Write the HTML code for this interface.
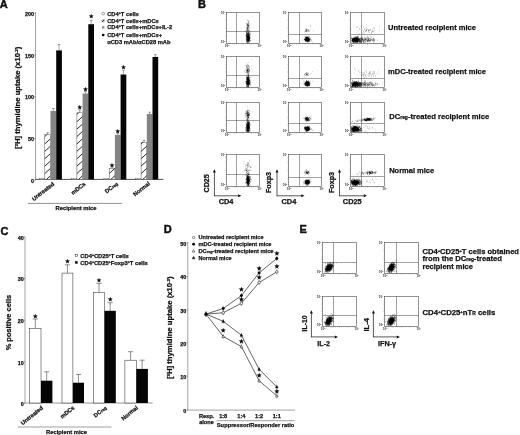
<!DOCTYPE html>
<html><head><meta charset="utf-8"><title>Figure</title>
<style>
html,body{margin:0;padding:0;background:#fff;}
body{width:520px;height:435px;overflow:hidden;}
svg{display:block;filter:blur(0.35px);font-family:'Liberation Sans', 'DejaVu Sans', sans-serif;}
</style></head><body>
<svg width="520" height="435" viewBox="0 0 520 435">
<rect width="520" height="435" fill="#fff"/>
<text x="-0.2" y="8.4" font-size="11.0" font-weight="bold" text-anchor="start" fill="#111" stroke="#111" stroke-width="0.45">A</text>
<text x="197.9" y="8.3" font-size="11.0" font-weight="bold" text-anchor="start" fill="#111" stroke="#111" stroke-width="0.45">B</text>
<text x="0.5" y="234.5" font-size="11.0" font-weight="bold" text-anchor="start" fill="#111" stroke="#111" stroke-width="0.45">C</text>
<text x="163.7" y="232.9" font-size="11.0" font-weight="bold" text-anchor="start" fill="#111" stroke="#111" stroke-width="0.45">D</text>
<text x="299.4" y="233.4" font-size="11.0" font-weight="bold" text-anchor="start" fill="#111" stroke="#111" stroke-width="0.45">E</text>
<line x1="35.5" y1="12.1" x2="35.5" y2="179.70000000000002" stroke="#555" stroke-width="0.55"/>
<line x1="35.2" y1="179.4" x2="163.3" y2="179.4" stroke="#222" stroke-width="0.8"/>
<text x="33.9" y="182.9" font-size="5.4" font-weight="bold" text-anchor="end" fill="#111" stroke="#111" stroke-width="0.25">0</text>
<line x1="34.3" y1="180.4" x2="35.5" y2="180.4" stroke="#333" stroke-width="0.5"/>
<text x="33.9" y="141.1" font-size="5.4" font-weight="bold" text-anchor="end" fill="#111" stroke="#111" stroke-width="0.25">50</text>
<line x1="34.3" y1="138.6" x2="35.5" y2="138.6" stroke="#333" stroke-width="0.5"/>
<text x="33.9" y="99.30000000000001" font-size="5.4" font-weight="bold" text-anchor="end" fill="#111" stroke="#111" stroke-width="0.25">100</text>
<line x1="34.3" y1="96.80000000000001" x2="35.5" y2="96.80000000000001" stroke="#333" stroke-width="0.5"/>
<text x="33.9" y="57.5" font-size="5.4" font-weight="bold" text-anchor="end" fill="#111" stroke="#111" stroke-width="0.25">150</text>
<line x1="34.3" y1="55.0" x2="35.5" y2="55.0" stroke="#333" stroke-width="0.5"/>
<text x="33.9" y="15.8" font-size="5.4" font-weight="bold" text-anchor="end" fill="#111" stroke="#111" stroke-width="0.25">200</text>
<line x1="34.3" y1="13.3" x2="35.5" y2="13.3" stroke="#333" stroke-width="0.5"/>
<text x="20.4" y="97.8" font-size="7.0" font-weight="bold" text-anchor="middle" fill="#111" stroke="#111" stroke-width="0.25" transform="rotate(-90 20.4 97.8)" textLength="102.4" lengthAdjust="spacingAndGlyphs">[<tspan font-size="4" baseline-shift="super">3</tspan>H] thymidine uptake (x10<tspan font-size="4" baseline-shift="super">-3</tspan>)</text>
<rect x="39.40" y="178.50" width="5.40" height="0.90" fill="#fff" stroke="#444" stroke-width="0.4"/>
<clipPath id="hc0"><rect x="44.8" y="134.5" width="5.7" height="44.900000000000006"/></clipPath>
<rect x="44.80" y="134.50" width="5.70" height="44.90" fill="#fff" stroke="#444" stroke-width="0.45"/>
<g clip-path="url(#hc0)" stroke="#111" stroke-width="0.9"><line x1="43.8" y1="181.80" x2="51.5" y2="174.87"/><line x1="43.8" y1="174.40" x2="51.5" y2="167.47"/><line x1="43.8" y1="167.00" x2="51.5" y2="160.07"/><line x1="43.8" y1="159.60" x2="51.5" y2="152.67"/><line x1="43.8" y1="152.20" x2="51.5" y2="145.27"/><line x1="43.8" y1="144.80" x2="51.5" y2="137.87"/><line x1="43.8" y1="137.40" x2="51.5" y2="130.47"/><line x1="43.8" y1="130.00" x2="51.5" y2="123.07"/></g>
<rect x="50.50" y="111.00" width="5.70" height="68.40" fill="#858585"/>
<rect x="56.20" y="50.40" width="5.70" height="129.00" fill="#050505"/>
<line x1="47.65" y1="134.5" x2="47.65" y2="132.7" stroke="#444" stroke-width="0.5"/>
<line x1="46.35" y1="132.7" x2="48.949999999999996" y2="132.7" stroke="#444" stroke-width="0.5"/>
<line x1="53.35" y1="111.0" x2="53.35" y2="108.5" stroke="#444" stroke-width="0.5"/>
<line x1="52.050000000000004" y1="108.5" x2="54.65" y2="108.5" stroke="#444" stroke-width="0.5"/>
<line x1="59.05" y1="50.4" x2="59.05" y2="44.5" stroke="#444" stroke-width="0.5"/>
<line x1="57.75" y1="44.5" x2="60.349999999999994" y2="44.5" stroke="#444" stroke-width="0.5"/>
<rect x="71.50" y="178.50" width="5.40" height="0.90" fill="#fff" stroke="#444" stroke-width="0.4"/>
<clipPath id="hc1"><rect x="76.9" y="112.8" width="5.7" height="66.60000000000001"/></clipPath>
<rect x="76.90" y="112.80" width="5.70" height="66.60" fill="#fff" stroke="#444" stroke-width="0.45"/>
<g clip-path="url(#hc1)" stroke="#111" stroke-width="0.9"><line x1="75.9" y1="181.80" x2="83.60000000000001" y2="174.87"/><line x1="75.9" y1="174.40" x2="83.60000000000001" y2="167.47"/><line x1="75.9" y1="167.00" x2="83.60000000000001" y2="160.07"/><line x1="75.9" y1="159.60" x2="83.60000000000001" y2="152.67"/><line x1="75.9" y1="152.20" x2="83.60000000000001" y2="145.27"/><line x1="75.9" y1="144.80" x2="83.60000000000001" y2="137.87"/><line x1="75.9" y1="137.40" x2="83.60000000000001" y2="130.47"/><line x1="75.9" y1="130.00" x2="83.60000000000001" y2="123.07"/><line x1="75.9" y1="122.60" x2="83.60000000000001" y2="115.67"/><line x1="75.9" y1="115.20" x2="83.60000000000001" y2="108.27"/><line x1="75.9" y1="107.80" x2="83.60000000000001" y2="100.87"/></g>
<rect x="82.60" y="93.50" width="5.70" height="85.90" fill="#858585"/>
<rect x="88.30" y="24.20" width="5.70" height="155.20" fill="#050505"/>
<line x1="79.75" y1="112.8" x2="79.75" y2="109.8" stroke="#444" stroke-width="0.5"/>
<line x1="78.45" y1="109.8" x2="81.05" y2="109.8" stroke="#444" stroke-width="0.5"/>
<line x1="85.45" y1="93.5" x2="85.45" y2="91.5" stroke="#444" stroke-width="0.5"/>
<line x1="84.15" y1="91.5" x2="86.75" y2="91.5" stroke="#444" stroke-width="0.5"/>
<line x1="91.15" y1="24.2" x2="91.15" y2="20.2" stroke="#444" stroke-width="0.5"/>
<line x1="89.85000000000001" y1="20.2" x2="92.45" y2="20.2" stroke="#444" stroke-width="0.5"/>
<text x="79.75" y="108.5" font-size="5.0" text-anchor="middle" fill="#000" stroke="#000" stroke-width="0.35" font-family="DejaVu Sans, sans-serif">★</text>
<text x="85.45" y="90.8" font-size="5.0" text-anchor="middle" fill="#000" stroke="#000" stroke-width="0.35" font-family="DejaVu Sans, sans-serif">★</text>
<text x="91.15" y="18.4" font-size="5.0" text-anchor="middle" fill="#000" stroke="#000" stroke-width="0.35" font-family="DejaVu Sans, sans-serif">★</text>
<rect x="103.80" y="178.50" width="5.40" height="0.90" fill="#fff" stroke="#444" stroke-width="0.4"/>
<clipPath id="hc2"><rect x="109.2" y="168.3" width="5.7" height="11.099999999999994"/></clipPath>
<rect x="109.20" y="168.30" width="5.70" height="11.10" fill="#fff" stroke="#444" stroke-width="0.45"/>
<g clip-path="url(#hc2)" stroke="#111" stroke-width="0.9"><line x1="108.2" y1="181.80" x2="115.9" y2="174.87"/><line x1="108.2" y1="174.40" x2="115.9" y2="167.47"/><line x1="108.2" y1="167.00" x2="115.9" y2="160.07"/></g>
<rect x="114.90" y="134.80" width="5.70" height="44.60" fill="#858585"/>
<rect x="120.60" y="74.50" width="5.70" height="104.90" fill="#050505"/>
<line x1="112.05" y1="168.3" x2="112.05" y2="167.10000000000002" stroke="#444" stroke-width="0.5"/>
<line x1="110.75" y1="167.10000000000002" x2="113.35" y2="167.10000000000002" stroke="#444" stroke-width="0.5"/>
<line x1="117.75" y1="134.8" x2="117.75" y2="133.20000000000002" stroke="#444" stroke-width="0.5"/>
<line x1="116.45" y1="133.20000000000002" x2="119.05" y2="133.20000000000002" stroke="#444" stroke-width="0.5"/>
<line x1="123.45" y1="74.5" x2="123.45" y2="70.3" stroke="#444" stroke-width="0.5"/>
<line x1="122.15" y1="70.3" x2="124.75" y2="70.3" stroke="#444" stroke-width="0.5"/>
<text x="112.05" y="167.0" font-size="5.0" text-anchor="middle" fill="#000" stroke="#000" stroke-width="0.35" font-family="DejaVu Sans, sans-serif">★</text>
<text x="117.75" y="132.8" font-size="5.0" text-anchor="middle" fill="#000" stroke="#000" stroke-width="0.35" font-family="DejaVu Sans, sans-serif">★</text>
<text x="123.45" y="69.0" font-size="5.0" text-anchor="middle" fill="#000" stroke="#000" stroke-width="0.35" font-family="DejaVu Sans, sans-serif">★</text>
<rect x="135.70" y="178.50" width="5.40" height="0.90" fill="#fff" stroke="#444" stroke-width="0.4"/>
<clipPath id="hc3"><rect x="141.1" y="142.2" width="5.7" height="37.20000000000002"/></clipPath>
<rect x="141.10" y="142.20" width="5.70" height="37.20" fill="#fff" stroke="#444" stroke-width="0.45"/>
<g clip-path="url(#hc3)" stroke="#111" stroke-width="0.9"><line x1="140.1" y1="181.80" x2="147.79999999999998" y2="174.87"/><line x1="140.1" y1="174.40" x2="147.79999999999998" y2="167.47"/><line x1="140.1" y1="167.00" x2="147.79999999999998" y2="160.07"/><line x1="140.1" y1="159.60" x2="147.79999999999998" y2="152.67"/><line x1="140.1" y1="152.20" x2="147.79999999999998" y2="145.27"/><line x1="140.1" y1="144.80" x2="147.79999999999998" y2="137.87"/><line x1="140.1" y1="137.40" x2="147.79999999999998" y2="130.47"/></g>
<rect x="146.80" y="114.00" width="5.70" height="65.40" fill="#858585"/>
<rect x="152.50" y="57.00" width="5.70" height="122.40" fill="#050505"/>
<line x1="143.95" y1="142.2" x2="143.95" y2="140.29999999999998" stroke="#444" stroke-width="0.5"/>
<line x1="142.64999999999998" y1="140.29999999999998" x2="145.25" y2="140.29999999999998" stroke="#444" stroke-width="0.5"/>
<line x1="149.64999999999998" y1="114.0" x2="149.64999999999998" y2="112.2" stroke="#444" stroke-width="0.5"/>
<line x1="148.34999999999997" y1="112.2" x2="150.95" y2="112.2" stroke="#444" stroke-width="0.5"/>
<line x1="155.35" y1="57.0" x2="155.35" y2="54.6" stroke="#444" stroke-width="0.5"/>
<line x1="154.04999999999998" y1="54.6" x2="156.65" y2="54.6" stroke="#444" stroke-width="0.5"/>
<text x="54.8" y="184.8" font-size="5.7" font-weight="bold" text-anchor="end" fill="#111" stroke="#111" stroke-width="0.25" transform="rotate(-38 54.8 184.8)">Untreated</text>
<text x="86.0" y="184.8" font-size="5.7" font-weight="bold" text-anchor="end" fill="#111" stroke="#111" stroke-width="0.25" transform="rotate(-38 86.0 184.8)">mDCs</text>
<text x="150.5" y="184.4" font-size="5.7" font-weight="bold" text-anchor="end" fill="#111" stroke="#111" stroke-width="0.25" transform="rotate(-38 150.5 184.4)">Normal</text>
<text x="118.4" y="184.4" font-size="5.7" font-weight="bold" text-anchor="end" fill="#111" stroke="#111" stroke-width="0.25" transform="rotate(-38 118.4 184.4)">DC<tspan font-size="4.2">reg</tspan></text>
<line x1="28.0" y1="203.4" x2="122.0" y2="203.4" stroke="#444" stroke-width="0.6"/>
<text x="76" y="210.3" font-size="5.8" font-weight="bold" text-anchor="middle" fill="#111" stroke="#111" stroke-width="0.25">Recipient mice</text>
<circle cx="103.2" cy="13.6" r="1.35" fill="#fff" stroke="#444" stroke-width="0.5"/>
<circle cx="103.2" cy="20.8" r="1.2" fill="#fff" stroke="#333" stroke-width="0.45"/>
<line x1="102.2" y1="21.8" x2="104.2" y2="19.8" stroke="#111" stroke-width="0.8"/>
<rect x="102.05" y="26.20" width="2.30" height="2.30" fill="#8a8a8a"/>
<circle cx="103.2" cy="35.0" r="1.35" fill="#000"/>
<text x="107.2" y="15.8" font-size="6.0" font-weight="bold" text-anchor="start" fill="#111" stroke="#111" stroke-width="0.25" textLength="31.6" lengthAdjust="spacingAndGlyphs">CD4<tspan font-size="3.8" baseline-shift="super">+</tspan>T cells</text>
<text x="107.2" y="23.0" font-size="6.0" font-weight="bold" text-anchor="start" fill="#111" stroke="#111" stroke-width="0.25" textLength="51.6" lengthAdjust="spacingAndGlyphs">CD4<tspan font-size="3.8" baseline-shift="super">+</tspan>T cells+mDCs</text>
<text x="107.2" y="29.4" font-size="6.0" font-weight="bold" text-anchor="start" fill="#111" stroke="#111" stroke-width="0.25" textLength="65" lengthAdjust="spacingAndGlyphs">CD4<tspan font-size="3.8" baseline-shift="super">+</tspan>T cells+mDCs+IL-2</text>
<text x="107.2" y="37.2" font-size="6.0" font-weight="bold" text-anchor="start" fill="#111" stroke="#111" stroke-width="0.25" textLength="54.8" lengthAdjust="spacingAndGlyphs">CD4<tspan font-size="3.8" baseline-shift="super">+</tspan>T cells+mDCs+</text>
<text x="107.2" y="44.0" font-size="6.0" font-weight="bold" text-anchor="start" fill="#111" stroke="#111" stroke-width="0.25" textLength="63.2" lengthAdjust="spacingAndGlyphs">αCD3 mAb/αCD28 mAb</text>
<rect x="226.50" y="12.50" width="33.00" height="31.00" fill="#fff" stroke="#3a3a3a" stroke-width="0.55"/>
<line x1="236.5" y1="12.5" x2="236.5" y2="43.5" stroke="#444" stroke-width="0.5"/>
<line x1="226.5" y1="31.5" x2="259.5" y2="31.5" stroke="#444" stroke-width="0.5"/>
<path d="M228.56 43.5v0.7M226.5 14.44h-0.7M230.62 43.5v0.7M226.5 16.38h-0.7M232.69 43.5v0.7M226.5 18.31h-0.7M234.75 43.5v1.2M226.5 20.25h-1.2M236.81 43.5v0.7M226.5 22.19h-0.7M238.88 43.5v0.7M226.5 24.12h-0.7M240.94 43.5v0.7M226.5 26.06h-0.7M243.00 43.5v1.2M226.5 28.00h-1.2M245.06 43.5v0.7M226.5 29.94h-0.7M247.12 43.5v0.7M226.5 31.88h-0.7M249.19 43.5v0.7M226.5 33.81h-0.7M251.25 43.5v1.2M226.5 35.75h-1.2M253.31 43.5v0.7M226.5 37.69h-0.7M255.38 43.5v0.7M226.5 39.62h-0.7M257.44 43.5v0.7M226.5 41.56h-0.7" stroke="#555" stroke-width="0.35" fill="none"/>
<text x="225.3" y="14.1" font-size="3.0" font-weight="bold" text-anchor="end" fill="#333">10<tspan font-size="2.2" baseline-shift="super">4</tspan></text>
<text x="225.3" y="43.3" font-size="3.0" font-weight="bold" text-anchor="end" fill="#333">10<tspan font-size="2.2" baseline-shift="super">0</tspan></text>
<text x="227.1" y="47.1" font-size="3.0" font-weight="bold" text-anchor="middle" fill="#333">10<tspan font-size="2.2" baseline-shift="super">0</tspan></text>
<text x="259.7" y="47.1" font-size="3.0" font-weight="bold" text-anchor="middle" fill="#333">10<tspan font-size="2.2" baseline-shift="super">4</tspan></text>
<path d="M247.6 38.7h0.55M247.6 36.4h0.55M247.0 36.7h0.55M248.7 38.5h0.55M248.7 38.0h0.55M248.1 37.8h0.55M246.4 39.7h0.55M248.2 38.7h0.55M246.4 32.4h0.55M247.0 36.0h0.55M248.1 37.2h0.55M248.2 35.5h0.55M248.1 38.4h0.55M247.2 42.1h0.55M248.3 40.7h0.55M247.3 35.2h0.55M247.5 37.0h0.55M248.3 38.0h0.55M247.4 34.6h0.55M247.4 40.7h0.55M247.1 38.0h0.55M248.2 33.1h0.55M247.8 41.0h0.55M246.1 36.4h0.55M247.7 35.0h0.55M248.2 37.1h0.55M246.6 39.6h0.55M248.4 39.9h0.55M249.0 38.3h0.55M247.9 33.7h0.55M248.3 35.6h0.55M247.4 33.8h0.55M247.0 35.8h0.55M248.9 31.6h0.55M246.6 38.0h0.55M249.0 38.9h0.55M246.2 30.2h0.55M248.1 35.2h0.55M246.8 40.0h0.55M248.7 37.7h0.55M248.0 38.5h0.55M249.2 39.0h0.55M248.2 38.8h0.55M246.5 40.9h0.55M248.6 38.8h0.55M246.1 35.5h0.55M248.5 32.2h0.55M247.6 40.2h0.55M246.7 41.8h0.55M248.3 36.9h0.55M248.1 39.1h0.55M247.9 40.5h0.55M247.2 36.1h0.55M248.7 37.4h0.55M247.1 40.0h0.55M249.0 36.1h0.55M246.6 36.9h0.55M247.7 36.5h0.55M249.0 34.4h0.55M248.9 33.7h0.55M247.1 39.1h0.55M248.8 39.7h0.55M248.1 37.7h0.55M247.9 38.9h0.55M247.7 38.1h0.55M248.3 37.3h0.55M248.4 38.9h0.55M249.5 38.2h0.55M247.4 36.3h0.55M247.8 39.9h0.55M247.5 38.4h0.55M249.4 30.1h0.55M246.8 38.0h0.55M248.1 38.0h0.55M247.4 39.1h0.55M248.0 35.8h0.55M249.9 38.3h0.55M247.3 37.0h0.55M247.6 37.1h0.55M245.5 35.9h0.55M248.7 34.0h0.55M247.7 40.0h0.55M248.5 41.5h0.55M246.4 36.3h0.55M247.5 39.0h0.55M248.7 29.8h0.55M248.7 33.2h0.55M248.4 33.1h0.55M247.9 40.6h0.55M247.7 37.8h0.55M248.5 37.7h0.55M247.7 41.6h0.55M248.7 36.5h0.55M250.1 34.1h0.55M248.6 36.6h0.55M247.9 39.3h0.55M248.0 39.1h0.55M246.5 33.1h0.55M248.3 34.6h0.55M246.9 33.2h0.55M248.9 39.4h0.55M249.1 34.7h0.55M247.8 34.1h0.55M248.5 41.8h0.55M247.0 41.7h0.55M248.6 36.8h0.55M246.1 41.2h0.55M247.7 35.6h0.55M248.1 38.4h0.55M249.1 34.4h0.55M248.8 41.5h0.55M249.0 36.8h0.55M247.2 40.2h0.55M247.9 37.6h0.55M249.0 36.6h0.55M245.8 36.2h0.55M246.2 39.6h0.55M248.1 35.6h0.55M247.8 39.6h0.55M247.9 41.0h0.55M247.7 40.2h0.55M249.1 41.8h0.55M247.2 39.8h0.55M246.2 34.3h0.55M246.1 40.3h0.55M246.8 37.3h0.55M247.6 37.2h0.55M247.3 38.0h0.55M249.3 37.4h0.55M248.3 40.1h0.55M247.6 33.8h0.55M247.3 40.3h0.55M246.4 35.6h0.55M248.7 39.5h0.55M247.8 39.6h0.55M247.9 34.0h0.55M246.5 35.5h0.55M248.6 35.7h0.55M247.0 35.1h0.55M246.5 37.0h0.55M246.8 38.3h0.55M245.8 38.2h0.55M247.3 31.9h0.55M248.4 36.5h0.55M245.9 34.8h0.55M248.0 36.0h0.55M248.5 39.4h0.55M248.4 38.2h0.55M248.9 39.1h0.55M248.2 31.5h0.55M248.6 41.0h0.55M247.5 36.0h0.55M249.4 32.4h0.55M247.0 39.2h0.55M249.4 37.0h0.55M248.3 39.8h0.55M247.0 37.1h0.55M248.0 39.6h0.55M247.8 36.8h0.55M246.9 36.3h0.55M248.6 37.6h0.55M247.1 34.9h0.55M250.1 40.5h0.55M248.3 30.0h0.55M248.3 38.6h0.55M249.2 38.5h0.55M247.7 38.8h0.55M246.1 40.2h0.55M248.1 35.3h0.55M248.9 42.4h0.55M246.6 35.4h0.55M248.0 37.8h0.55M247.5 34.6h0.55M249.6 40.2h0.55M246.8 33.5h0.55M249.2 40.1h0.55M249.3 39.6h0.55M247.1 38.0h0.55M246.0 35.2h0.55M247.7 38.8h0.55M247.2 37.0h0.55M248.2 38.4h0.55M248.3 37.9h0.55M247.5 39.5h0.55M247.8 35.0h0.55M247.3 37.3h0.55M247.7 37.7h0.55M247.8 37.8h0.55M247.7 33.8h0.55M248.2 40.3h0.55M248.2 36.8h0.55M248.2 34.6h0.55M246.2 37.5h0.55M247.0 39.4h0.55M246.9 29.9h0.55M246.9 41.7h0.55M247.5 33.5h0.55M247.2 38.8h0.55M248.2 37.8h0.55M249.1 39.3h0.55M247.8 39.0h0.55M249.2 40.0h0.55M248.7 34.3h0.55M247.7 39.3h0.55M247.5 40.3h0.55M248.3 39.8h0.55M248.9 36.7h0.55M247.5 39.7h0.55M248.6 37.3h0.55M246.8 37.8h0.55M248.1 40.5h0.55M248.5 37.4h0.55M248.5 38.8h0.55M248.0 37.5h0.55M247.6 39.2h0.55M246.9 35.5h0.55M247.8 33.2h0.55M247.4 31.7h0.55M247.2 38.9h0.55M248.3 37.1h0.55M247.6 33.3h0.55M249.4 38.7h0.55M248.7 34.8h0.55M247.6 32.2h0.55M248.5 39.9h0.55M246.2 37.2h0.55M248.3 32.4h0.55M246.2 34.3h0.55M247.3 33.4h0.55M247.8 38.0h0.55M248.3 39.3h0.55M249.1 40.6h0.55M246.7 35.9h0.55M246.9 34.3h0.55M247.7 37.3h0.55M248.2 32.9h0.55M246.7 37.2h0.55M247.6 36.4h0.55M247.7 35.2h0.55M248.4 38.3h0.55M247.7 35.4h0.55M247.7 29.7h0.55M247.0 37.4h0.55M246.5 37.9h0.55M247.9 33.4h0.55M247.6 36.4h0.55M248.2 39.0h0.55M247.8 34.9h0.55M247.7 37.1h0.55M248.4 38.1h0.55M247.2 33.5h0.55M247.5 35.2h0.55M246.9 37.0h0.55M247.4 37.6h0.55M248.2 36.1h0.55M249.8 36.4h0.55M248.7 37.6h0.55M248.7 30.6h0.55M247.2 38.0h0.55M248.1 40.9h0.55M248.5 40.0h0.55M248.2 36.9h0.55M248.2 34.3h0.55M248.8 34.5h0.55M247.6 37.4h0.55M248.8 37.4h0.55M247.1 38.0h0.55M248.3 39.3h0.55M247.1 42.2h0.55M249.2 37.4h0.55M248.0 36.1h0.55M249.0 35.3h0.55M248.4 36.0h0.55M247.2 39.3h0.55M248.9 37.3h0.55M247.2 39.6h0.55M247.8 38.2h0.55M249.1 40.5h0.55M247.8 39.5h0.55M247.2 37.2h0.55M246.3 42.3h0.55M249.0 33.9h0.55M246.5 32.8h0.55M248.8 36.0h0.55M247.7 36.4h0.55M247.7 34.3h0.55M247.8 33.3h0.55M247.7 38.2h0.55M248.2 36.7h0.55M247.0 37.7h0.55M247.4 41.7h0.55M248.5 37.0h0.55M247.4 35.3h0.55M247.0 36.3h0.55M248.1 38.7h0.55M247.2 37.3h0.55M250.2 32.1h0.55M247.4 37.8h0.55M247.9 38.4h0.55M247.6 38.3h0.55M247.8 39.5h0.55M246.2 34.8h0.55M247.8 34.4h0.55M246.9 39.1h0.55M247.2 39.1h0.55M248.4 38.2h0.55M248.2 37.0h0.55M246.6 37.2h0.55M248.2 35.8h0.55M247.7 39.4h0.55M247.1 39.1h0.55M249.4 35.7h0.55M247.9 36.9h0.55M249.1 38.2h0.55M248.6 35.4h0.55M247.8 37.3h0.55M246.3 41.3h0.55M248.6 32.4h0.55M248.4 36.9h0.55M248.2 38.3h0.55M246.5 36.7h0.55M249.1 35.7h0.55M246.9 33.5h0.55M246.1 40.5h0.55M250.2 40.8h0.55M247.1 36.9h0.55M248.5 41.2h0.55M246.4 35.2h0.55M248.2 40.2h0.55M246.0 38.6h0.55M247.0 40.9h0.55M247.6 39.0h0.55M247.3 43.0h0.55M249.7 38.0h0.55M249.0 36.6h0.55M247.9 41.9h0.55M249.9 38.0h0.55M247.7 40.0h0.55M245.7 39.4h0.55M246.9 40.6h0.55M246.2 32.4h0.55M247.9 40.2h0.55M247.0 42.4h0.55M247.4 37.2h0.55M248.5 33.8h0.55M246.9 39.2h0.55M249.0 38.7h0.55M248.2 37.0h0.55M246.9 39.4h0.55M248.0 42.9h0.55M246.1 31.9h0.55M248.6 42.1h0.55M248.1 40.2h0.55M249.1 40.6h0.55M250.1 35.0h0.55M247.3 27.2h0.55M248.9 38.0h0.55M247.8 38.4h0.55M247.0 23.8h0.45M246.9 27.9h0.45M247.5 26.3h0.45M247.3 28.7h0.45M248.0 25.7h0.45M248.1 25.7h0.45M246.4 30.2h0.45M247.9 23.4h0.45M248.5 27.1h0.45M246.0 30.6h0.45M247.8 28.6h0.45M247.7 25.7h0.45M246.0 28.8h0.45M247.5 25.3h0.45M247.8 26.3h0.45M248.1 25.1h0.45M247.5 20.1h0.45M247.1 28.0h0.45M248.8 25.1h0.45M247.4 30.5h0.45M247.2 28.2h0.45M249.1 26.2h0.45M248.7 24.1h0.45M247.7 25.9h0.45M247.6 29.3h0.45M249.8 24.2h0.45M247.0 27.5h0.45M246.5 27.5h0.45M248.0 25.3h0.45M248.0 21.8h0.45M248.2 21.8h0.45M246.8 24.5h0.45M247.1 28.5h0.45M247.6 25.0h0.45M248.0 30.5h0.45M247.5 27.1h0.45M248.7 26.8h0.45M246.3 33.1h0.45M249.6 20.5h0.45M247.5 27.3h0.45M248.4 28.0h0.45M247.2 23.1h0.45M247.6 29.0h0.45M246.5 23.2h0.45M247.5 20.7h0.45M247.3 24.9h0.45M247.9 24.1h0.45M246.7 25.0h0.45M247.5 24.2h0.45M247.5 28.2h0.45M248.6 30.9h0.45M246.8 24.9h0.45M245.1 31.4h0.45M246.8 26.0h0.45M248.0 22.3h0.45M247.9 26.0h0.45M245.8 26.9h0.45M248.6 20.9h0.45M248.3 26.7h0.45M248.0 27.3h0.45M248.7 25.5h0.45M248.3 25.0h0.45M248.2 23.8h0.45M247.4 30.9h0.45M247.9 25.7h0.45M246.4 23.9h0.45M247.7 28.7h0.45M247.9 27.6h0.45M247.5 29.9h0.45M247.1 24.6h0.45M250.0 27.9h0.4M247.4 25.0h0.4M247.4 30.4h0.4M248.8 22.2h0.4M248.9 28.4h0.4M245.8 31.1h0.4M247.4 26.1h0.4M249.8 33.5h0.4M246.5 29.6h0.4M246.1 38.0h0.4M246.9 33.0h0.4M246.6 31.3h0.4M252.9 16.2h0.4M247.0 29.9h0.4" stroke="#000" stroke-width="0.55" stroke-opacity="0.8" fill="none"/>
<rect x="288.50" y="12.50" width="33.00" height="31.00" fill="#fff" stroke="#3a3a3a" stroke-width="0.55"/>
<line x1="299.5" y1="12.5" x2="299.5" y2="43.5" stroke="#444" stroke-width="0.5"/>
<line x1="288.5" y1="34.5" x2="321.5" y2="34.5" stroke="#444" stroke-width="0.5"/>
<path d="M290.56 43.5v0.7M288.5 14.44h-0.7M292.62 43.5v0.7M288.5 16.38h-0.7M294.69 43.5v0.7M288.5 18.31h-0.7M296.75 43.5v1.2M288.5 20.25h-1.2M298.81 43.5v0.7M288.5 22.19h-0.7M300.88 43.5v0.7M288.5 24.12h-0.7M302.94 43.5v0.7M288.5 26.06h-0.7M305.00 43.5v1.2M288.5 28.00h-1.2M307.06 43.5v0.7M288.5 29.94h-0.7M309.12 43.5v0.7M288.5 31.88h-0.7M311.19 43.5v0.7M288.5 33.81h-0.7M313.25 43.5v1.2M288.5 35.75h-1.2M315.31 43.5v0.7M288.5 37.69h-0.7M317.38 43.5v0.7M288.5 39.62h-0.7M319.44 43.5v0.7M288.5 41.56h-0.7" stroke="#555" stroke-width="0.35" fill="none"/>
<text x="287.3" y="14.1" font-size="3.0" font-weight="bold" text-anchor="end" fill="#333">10<tspan font-size="2.2" baseline-shift="super">4</tspan></text>
<text x="287.3" y="43.3" font-size="3.0" font-weight="bold" text-anchor="end" fill="#333">10<tspan font-size="2.2" baseline-shift="super">0</tspan></text>
<text x="289.1" y="47.1" font-size="3.0" font-weight="bold" text-anchor="middle" fill="#333">10<tspan font-size="2.2" baseline-shift="super">0</tspan></text>
<text x="321.7" y="47.1" font-size="3.0" font-weight="bold" text-anchor="middle" fill="#333">10<tspan font-size="2.2" baseline-shift="super">4</tspan></text>
<path d="M306.9 38.7h0.55M309.5 39.5h0.55M305.1 40.3h0.55M305.0 40.6h0.55M306.3 39.6h0.55M308.5 39.5h0.55M305.4 37.6h0.55M308.4 40.2h0.55M306.1 40.3h0.55M307.6 40.1h0.55M304.4 39.1h0.55M308.0 40.2h0.55M308.0 36.8h0.55M307.2 39.9h0.55M309.9 38.4h0.55M306.6 39.4h0.55M308.0 38.9h0.55M308.3 38.6h0.55M307.3 38.8h0.55M307.2 38.7h0.55M305.2 40.5h0.55M307.3 38.8h0.55M307.2 40.4h0.55M305.9 39.3h0.55M307.6 40.0h0.55M306.6 37.2h0.55M308.4 39.7h0.55M307.0 39.1h0.55M307.3 39.0h0.55M305.8 38.6h0.55M306.3 38.8h0.55M305.7 40.1h0.55M305.5 40.1h0.55M305.8 39.8h0.55M308.6 39.6h0.55M306.2 39.5h0.55M307.2 37.6h0.55M306.3 39.6h0.55M306.5 39.5h0.55M307.8 40.2h0.55M308.0 40.0h0.55M306.7 39.4h0.55M306.7 39.1h0.55M306.8 37.6h0.55M306.6 39.4h0.55M305.9 39.4h0.55M307.6 39.2h0.55M309.4 36.7h0.55M306.8 37.5h0.55M308.1 42.2h0.55M304.1 39.5h0.55M307.6 39.1h0.55M307.6 37.0h0.55M308.0 39.8h0.55M307.0 38.8h0.55M307.7 38.9h0.55M307.3 38.9h0.55M304.4 39.4h0.55M307.2 40.2h0.55M306.0 39.4h0.55M307.7 39.6h0.55M308.4 41.5h0.55M306.0 37.4h0.55M308.0 41.0h0.55M308.1 40.3h0.55M306.3 38.7h0.55M308.0 38.4h0.55M304.9 38.4h0.55M309.9 41.4h0.55M306.2 38.6h0.55M307.3 38.6h0.55M308.5 39.3h0.55M305.8 40.8h0.55M306.3 39.6h0.55M307.0 39.1h0.55M307.4 38.7h0.55M304.9 37.1h0.55M305.5 38.6h0.55M307.0 39.5h0.55M307.6 39.5h0.55M306.1 38.7h0.55M304.6 39.2h0.55M307.6 40.0h0.55M306.9 39.2h0.55M308.1 39.4h0.55M307.8 40.0h0.55M307.2 40.8h0.55M306.3 39.0h0.55M306.1 38.6h0.55M308.8 41.2h0.55M307.0 40.0h0.55M308.4 40.2h0.55M308.4 38.1h0.55M306.3 39.9h0.55M308.7 39.5h0.55M306.0 39.0h0.55M306.2 38.5h0.55M308.7 38.7h0.55M307.0 41.7h0.55M308.4 39.8h0.55M306.3 39.8h0.55M308.9 40.1h0.55M308.5 39.5h0.55M307.6 39.2h0.55M307.5 40.8h0.55M305.4 39.3h0.55M307.3 38.8h0.55M306.6 40.2h0.55M309.3 40.1h0.55M307.4 37.8h0.55M309.2 39.5h0.55M307.0 38.2h0.55M306.9 38.2h0.55M307.1 39.9h0.55M307.0 39.7h0.55M306.0 40.9h0.55M306.2 37.5h0.55M306.8 38.6h0.55M305.8 39.0h0.55M307.3 38.2h0.55M306.8 40.9h0.55M307.8 39.2h0.55M307.1 39.3h0.55M306.9 40.2h0.55M306.9 36.9h0.55M307.0 38.5h0.55M307.7 38.8h0.55M307.2 41.7h0.55M305.8 38.2h0.55M305.4 36.9h0.55M304.8 39.8h0.55M306.3 37.4h0.55M305.3 40.0h0.55M306.1 39.0h0.55M307.4 40.8h0.55M309.2 40.5h0.55M307.2 39.6h0.55M309.1 40.9h0.55M306.6 39.9h0.55M307.3 39.5h0.55M306.4 38.0h0.55M306.4 37.8h0.55M308.4 40.0h0.55M305.6 40.9h0.55M308.0 37.4h0.55M309.1 40.3h0.55M309.4 38.1h0.55M307.6 39.8h0.55M307.2 39.6h0.55M308.2 37.8h0.55M305.6 37.9h0.55M306.4 38.8h0.55M307.4 39.7h0.55M307.0 38.7h0.55M306.5 40.4h0.55M307.9 39.5h0.55M306.6 41.0h0.55M306.3 40.1h0.55M308.3 39.1h0.55M307.9 38.2h0.55M308.2 39.6h0.55M305.2 40.1h0.55M306.0 40.7h0.55M306.2 39.2h0.55M307.3 39.1h0.55M307.3 38.8h0.55M307.8 39.4h0.55M307.2 36.5h0.55M308.3 39.4h0.55M304.9 39.5h0.55M307.5 40.5h0.55M305.8 41.0h0.55M306.8 41.9h0.55M306.8 40.1h0.55M306.6 38.2h0.55M308.3 40.4h0.55M308.8 40.3h0.55M306.3 37.7h0.55M306.3 38.7h0.55M306.1 40.0h0.55M307.4 39.1h0.55M307.2 39.2h0.55M307.2 40.2h0.55M308.1 38.7h0.55M305.3 40.9h0.55M307.1 40.6h0.55M305.1 39.1h0.55M307.0 37.9h0.55M306.4 40.2h0.55M308.2 41.1h0.55M306.0 37.9h0.55M307.6 40.4h0.55M307.2 38.0h0.55M307.9 40.2h0.55M307.6 38.9h0.55M307.3 40.2h0.55M306.4 37.5h0.55M307.4 39.9h0.55M307.0 40.3h0.55M306.3 39.3h0.55M306.6 40.0h0.55M308.8 39.1h0.55M309.4 41.0h0.55M307.9 40.0h0.55M309.0 39.2h0.55M306.9 38.3h0.55M307.5 40.8h0.55M307.6 39.8h0.55M306.8 39.6h0.55M305.4 40.5h0.55M306.5 38.2h0.55M306.1 38.5h0.55M308.0 40.5h0.55M305.4 40.4h0.55M308.0 38.8h0.55M305.3 38.6h0.55M306.3 39.8h0.55M306.6 37.3h0.55M307.3 37.8h0.55M308.0 38.1h0.55M306.2 38.5h0.55M306.4 40.8h0.55M308.0 40.0h0.55M307.4 37.8h0.55M306.4 38.8h0.55M305.9 39.9h0.55M306.1 38.7h0.55M305.8 37.2h0.55M307.7 40.8h0.55M307.2 38.4h0.55M303.9 39.6h0.55M308.4 39.7h0.55M308.1 41.0h0.55M308.3 38.9h0.55M308.2 40.2h0.55M305.2 39.0h0.55M305.4 39.3h0.55M307.7 38.3h0.55M304.6 40.8h0.55M307.4 40.9h0.55M305.5 40.5h0.55M309.4 41.5h0.55M306.8 39.7h0.55M306.8 40.4h0.55M308.2 39.5h0.55M305.4 40.2h0.55M306.5 40.1h0.55M307.3 41.1h0.55M308.3 38.9h0.55M307.4 41.3h0.55M306.4 39.9h0.55M308.4 40.7h0.55M307.6 38.0h0.55M305.5 39.7h0.55M307.4 42.1h0.55M306.0 40.6h0.55M307.9 37.6h0.55M306.1 39.6h0.55M306.4 39.2h0.55M307.5 38.6h0.55M307.5 38.7h0.55M306.4 40.0h0.55M306.3 39.7h0.55M308.8 39.4h0.55M306.8 40.2h0.55M306.6 40.5h0.55M305.5 40.0h0.55M306.4 38.6h0.55M309.0 38.5h0.55M309.0 40.1h0.55M308.7 38.4h0.55M308.4 40.9h0.55M306.9 39.3h0.55M309.8 39.6h0.55M306.5 38.7h0.55M307.5 39.7h0.55M307.2 41.2h0.55M306.6 39.9h0.55M308.7 38.3h0.55M308.2 41.3h0.55M305.4 38.2h0.55M305.8 37.5h0.55M307.5 37.5h0.55M307.6 40.9h0.55M305.1 39.1h0.55M304.8 40.2h0.55M306.2 39.1h0.55M307.1 40.0h0.55M306.6 39.4h0.55M306.4 39.5h0.55M305.7 39.5h0.55M304.8 38.9h0.55M309.2 39.5h0.55M305.6 39.7h0.55M305.9 37.7h0.55M306.2 40.2h0.55M307.4 39.3h0.55M305.9 38.3h0.55M308.6 39.7h0.55M305.9 37.2h0.55M305.4 42.0h0.55M305.7 39.3h0.55M307.2 39.2h0.55M306.7 38.0h0.55M305.8 41.2h0.55M306.1 40.3h0.55M305.1 39.1h0.55M307.3 40.5h0.55M305.7 40.0h0.55M307.4 38.6h0.55M307.5 38.5h0.55M306.1 39.4h0.55M303.9 39.3h0.55M305.8 37.9h0.55M306.5 40.2h0.55M306.5 40.7h0.55M305.7 38.0h0.55M308.8 39.8h0.55M308.1 38.5h0.55M307.9 39.7h0.55M307.7 39.4h0.55M308.4 38.7h0.55M305.9 37.8h0.55M308.3 38.6h0.55M305.8 38.4h0.55M306.5 38.1h0.55M306.7 38.7h0.55M306.4 38.4h0.55M307.0 38.9h0.55M307.1 39.7h0.55M308.3 35.8h0.4M306.2 38.0h0.4M309.4 36.8h0.4M305.8 38.8h0.4M306.7 40.9h0.4M306.4 40.8h0.4M304.0 36.4h0.4M310.4 40.0h0.4M308.7 39.5h0.4M308.7 37.4h0.4M309.8 38.4h0.4M309.9 39.4h0.4M302.8 37.2h0.4M310.2 39.1h0.4M306.6 39.7h0.4M306.5 38.4h0.4M307.7 39.5h0.4M311.1 39.4h0.4M312.0 42.2h0.4M311.6 41.0h0.4M307.8 39.5h0.4M307.2 38.1h0.4M307.3 38.3h0.4M311.4 40.2h0.4M306.4 36.2h0.4M307.4 38.6h0.4M304.9 37.5h0.4M302.1 40.2h0.4M307.4 39.1h0.4M308.2 30.4h0.55M307.0 30.0h0.55M306.2 31.4h0.55M307.8 31.6h0.55M306.5 30.3h0.55M306.0 31.0h0.55M305.5 30.7h0.55M307.8 31.4h0.55M305.9 31.1h0.55M306.1 29.7h0.55M305.5 31.2h0.55M308.4 29.9h0.55M306.1 30.0h0.55M309.2 31.1h0.55M306.3 29.0h0.55M306.2 31.2h0.55M308.6 30.1h0.55M306.1 29.9h0.55M305.0 31.0h0.55M305.8 31.1h0.55M305.2 29.3h0.55M307.1 29.7h0.55M310.3 29.9h0.4M304.5 31.1h0.4M310.5 26.1h0.4M313.5 30.9h0.4M310.3 26.2h0.4M305.8 29.2h0.4" stroke="#000" stroke-width="0.55" stroke-opacity="0.8" fill="none"/>
<rect x="350.50" y="12.50" width="34.00" height="31.00" fill="#fff" stroke="#3a3a3a" stroke-width="0.55"/>
<line x1="361.5" y1="12.5" x2="361.5" y2="43.5" stroke="#444" stroke-width="0.5"/>
<line x1="350.5" y1="34.5" x2="384.5" y2="34.5" stroke="#444" stroke-width="0.5"/>
<path d="M352.62 43.5v0.7M350.5 14.44h-0.7M354.75 43.5v0.7M350.5 16.38h-0.7M356.88 43.5v0.7M350.5 18.31h-0.7M359.00 43.5v1.2M350.5 20.25h-1.2M361.12 43.5v0.7M350.5 22.19h-0.7M363.25 43.5v0.7M350.5 24.12h-0.7M365.38 43.5v0.7M350.5 26.06h-0.7M367.50 43.5v1.2M350.5 28.00h-1.2M369.62 43.5v0.7M350.5 29.94h-0.7M371.75 43.5v0.7M350.5 31.88h-0.7M373.88 43.5v0.7M350.5 33.81h-0.7M376.00 43.5v1.2M350.5 35.75h-1.2M378.12 43.5v0.7M350.5 37.69h-0.7M380.25 43.5v0.7M350.5 39.62h-0.7M382.38 43.5v0.7M350.5 41.56h-0.7" stroke="#555" stroke-width="0.35" fill="none"/>
<text x="349.3" y="14.1" font-size="3.0" font-weight="bold" text-anchor="end" fill="#333">10<tspan font-size="2.2" baseline-shift="super">4</tspan></text>
<text x="349.3" y="43.3" font-size="3.0" font-weight="bold" text-anchor="end" fill="#333">10<tspan font-size="2.2" baseline-shift="super">0</tspan></text>
<text x="351.1" y="47.1" font-size="3.0" font-weight="bold" text-anchor="middle" fill="#333">10<tspan font-size="2.2" baseline-shift="super">0</tspan></text>
<text x="384.7" y="47.1" font-size="3.0" font-weight="bold" text-anchor="middle" fill="#333">10<tspan font-size="2.2" baseline-shift="super">4</tspan></text>
<path d="M357.6 37.9h0.55M352.9 37.1h0.55M354.4 40.4h0.55M356.2 42.1h0.55M356.6 39.5h0.55M352.2 38.6h0.55M353.4 40.1h0.55M354.9 42.2h0.55M355.7 38.4h0.55M358.7 41.2h0.55M355.2 38.9h0.55M357.2 38.8h0.55M351.8 40.2h0.55M355.6 40.7h0.55M356.6 41.9h0.55M353.0 41.3h0.55M352.6 40.9h0.55M355.4 40.2h0.55M357.3 39.9h0.55M357.7 41.1h0.55M355.3 39.1h0.55M353.2 39.2h0.55M354.5 39.9h0.55M362.2 40.8h0.55M356.8 38.7h0.55M353.3 39.5h0.55M355.5 38.4h0.55M358.9 39.1h0.55M357.6 36.6h0.55M355.0 40.3h0.55M355.5 40.7h0.55M355.7 40.1h0.55M355.7 39.6h0.55M353.0 39.1h0.55M359.4 42.3h0.55M354.9 41.7h0.55M351.2 37.2h0.55M353.8 38.7h0.55M353.7 40.2h0.55M362.3 39.0h0.55M355.1 40.3h0.55M354.9 41.2h0.55M359.3 38.2h0.55M355.4 39.5h0.55M355.9 37.8h0.55M356.3 40.2h0.55M355.2 36.6h0.55M354.1 38.8h0.55M351.6 38.6h0.55M356.7 40.7h0.55M354.9 40.6h0.55M353.6 40.0h0.55M355.1 40.7h0.55M354.8 39.7h0.55M354.7 39.0h0.55M360.4 40.6h0.55M358.4 37.7h0.55M356.7 41.1h0.55M359.5 41.7h0.55M356.8 38.3h0.55M352.9 40.3h0.55M356.2 38.5h0.55M354.1 39.3h0.55M355.1 40.4h0.55M354.3 38.2h0.55M358.0 42.1h0.55M354.7 41.3h0.55M356.1 40.8h0.55M356.2 38.8h0.55M356.4 41.3h0.55M352.8 42.7h0.55M360.0 42.5h0.55M359.8 40.9h0.55M354.2 39.1h0.55M353.0 40.1h0.55M354.9 40.8h0.55M360.5 39.9h0.55M356.6 40.6h0.55M355.7 39.6h0.55M354.7 38.7h0.55M355.4 39.9h0.55M355.8 38.7h0.55M355.1 40.0h0.55M356.5 38.4h0.55M356.0 41.3h0.55M356.4 39.4h0.55M353.8 39.6h0.55M356.8 42.1h0.55M354.6 39.0h0.55M355.9 40.2h0.55M352.8 38.9h0.55M354.8 40.8h0.55M352.1 38.5h0.55M356.2 38.2h0.55M355.3 40.4h0.55M354.7 38.5h0.55M354.9 39.4h0.55M355.8 38.7h0.55M357.6 37.6h0.55M354.6 39.9h0.55M357.3 39.0h0.55M356.3 39.1h0.55M356.8 42.3h0.55M354.0 40.5h0.55M352.8 41.3h0.55M357.9 39.9h0.55M352.3 40.5h0.55M357.8 41.4h0.55M357.0 37.3h0.55M353.4 41.9h0.55M352.1 41.5h0.55M359.5 41.0h0.55M357.7 39.4h0.55M352.1 39.8h0.55M354.5 39.8h0.55M356.7 39.7h0.55M355.5 40.5h0.55M355.0 42.5h0.55M356.1 40.0h0.55M354.5 39.0h0.55M358.2 40.1h0.55M352.4 39.1h0.55M354.7 39.3h0.55M357.6 38.3h0.55M356.2 40.1h0.55M352.2 40.0h0.55M354.8 40.6h0.55M353.9 40.3h0.55M351.0 38.4h0.55M356.9 41.4h0.55M355.0 39.1h0.55M357.6 37.0h0.55M353.1 40.8h0.55M356.6 38.5h0.55M355.4 38.6h0.55M355.1 41.2h0.55M356.8 37.0h0.55M356.9 37.4h0.55M357.7 40.5h0.55M360.4 39.0h0.55M355.0 41.4h0.55M353.5 38.9h0.55M354.1 39.8h0.55M352.4 40.6h0.55M356.3 40.0h0.55M359.1 39.4h0.55M358.1 39.1h0.55M356.8 37.2h0.55M355.5 39.7h0.55M353.8 39.0h0.55M354.2 38.9h0.55M353.7 39.2h0.55M352.5 39.7h0.55M356.9 39.5h0.55M353.8 41.8h0.55M357.3 41.2h0.55M357.8 39.4h0.55M354.7 41.5h0.55M353.7 39.7h0.55M355.9 40.4h0.55M354.3 41.3h0.55M354.6 40.9h0.55M357.6 40.8h0.55M356.8 38.3h0.55M351.9 39.0h0.55M356.1 42.0h0.55M352.1 40.3h0.55M353.0 38.9h0.55M354.3 40.9h0.55M355.5 41.6h0.55M352.6 41.1h0.55M357.2 40.0h0.55M356.1 39.1h0.55M352.4 39.3h0.55M353.8 42.2h0.55M355.5 40.3h0.55M356.8 38.8h0.55M357.2 40.4h0.55M351.4 40.7h0.55M356.3 40.5h0.55M358.8 39.3h0.55M356.2 40.9h0.55M352.8 41.6h0.55M351.5 38.1h0.55M356.3 38.4h0.55M354.7 37.6h0.55M355.2 38.3h0.55M355.8 37.8h0.55M356.1 39.5h0.55M355.2 39.8h0.55M355.3 38.1h0.55M352.8 39.3h0.55M356.0 37.1h0.55M353.2 39.0h0.55M352.5 40.4h0.55M354.7 38.8h0.55M352.6 41.0h0.55M353.4 40.7h0.55M356.1 37.2h0.55M352.4 39.9h0.55M355.8 41.0h0.55M356.9 41.3h0.55M354.1 39.6h0.55M356.9 39.3h0.55M357.5 37.7h0.55M356.6 39.7h0.55M355.7 39.9h0.55M352.4 39.2h0.55M358.6 38.7h0.55M352.1 39.7h0.55M354.1 38.6h0.55M353.0 41.4h0.55M351.5 42.6h0.55M353.7 38.4h0.55M356.9 40.7h0.55M352.5 40.9h0.55M357.7 39.5h0.55M351.9 40.6h0.55M357.2 39.9h0.55M356.0 41.0h0.55M359.4 39.5h0.55M353.8 39.8h0.55M357.9 38.6h0.55M358.1 36.1h0.55M356.9 39.0h0.55M356.1 40.9h0.55M352.2 39.8h0.55M355.6 40.7h0.55M352.8 38.5h0.55M354.5 39.6h0.55M351.4 41.2h0.55M353.7 41.9h0.55M357.0 39.9h0.55M356.7 38.3h0.55M354.2 39.1h0.55M352.0 39.9h0.55M354.7 41.9h0.55M352.8 39.3h0.55M356.0 40.5h0.55M355.1 39.2h0.55M356.2 40.4h0.55M351.7 38.2h0.55M355.4 40.0h0.55M355.3 38.7h0.55M354.5 38.6h0.55M355.9 40.9h0.55M359.2 41.7h0.55M353.1 39.3h0.55M352.7 40.3h0.55M359.8 40.9h0.55M351.9 40.6h0.55M355.0 40.3h0.55M359.3 38.7h0.55M353.0 42.7h0.55M355.8 38.8h0.55M355.1 41.3h0.55M354.7 38.9h0.55M353.2 42.6h0.55M355.1 40.8h0.55M354.0 40.6h0.55M357.0 39.7h0.55M353.9 39.6h0.55M352.7 39.6h0.55M354.3 40.2h0.55M358.2 41.7h0.55M353.9 40.7h0.55M355.7 41.0h0.55M355.1 40.3h0.55M353.9 38.8h0.55M357.1 41.7h0.55M356.6 40.5h0.55M355.6 39.3h0.55M355.5 39.1h0.55M352.7 41.7h0.55M353.3 39.9h0.55M353.8 40.1h0.55M354.5 38.9h0.55M357.6 38.8h0.55M353.8 40.7h0.55M353.7 39.3h0.55M355.9 39.4h0.55M352.0 39.8h0.55M354.5 42.3h0.55M352.4 41.3h0.55M353.1 39.4h0.55M354.2 40.3h0.55M357.1 42.3h0.55M353.5 41.8h0.55M357.4 41.0h0.55M353.2 41.2h0.55M354.7 40.4h0.55M354.4 40.8h0.55M357.7 41.5h0.55M354.5 41.3h0.55M358.5 38.6h0.55M358.5 38.0h0.55M356.3 40.7h0.55M358.6 40.3h0.55M353.8 38.8h0.55M352.0 41.0h0.55M354.4 38.9h0.55M356.3 38.8h0.55M354.0 39.3h0.55M359.0 41.9h0.55M354.6 37.7h0.55M355.7 40.0h0.55M355.8 40.7h0.55M354.2 41.2h0.55M357.0 40.2h0.55M354.0 39.2h0.55M356.7 38.4h0.55M354.6 38.9h0.55M351.7 40.7h0.55M354.9 40.0h0.55M357.1 37.8h0.55M354.8 40.3h0.55M357.0 38.4h0.55M356.7 40.2h0.55M358.3 41.5h0.55M356.3 42.9h0.55M355.0 39.3h0.55M354.2 38.6h0.55M354.9 37.3h0.55M354.8 40.5h0.55M357.4 39.4h0.55M358.3 39.0h0.55M354.7 37.3h0.55M353.2 38.8h0.55M358.5 40.6h0.55M352.4 40.6h0.55M356.1 39.6h0.55M355.1 39.5h0.55M353.7 37.5h0.55M354.8 41.7h0.55M358.4 39.5h0.55M353.2 39.6h0.55M357.1 40.4h0.55M353.6 40.4h0.55M354.5 40.6h0.55M354.0 37.9h0.55M355.1 40.9h0.55M352.4 39.8h0.55M357.1 39.4h0.55M353.5 42.7h0.55M356.9 41.3h0.55M352.8 42.1h0.55M351.1 39.2h0.55M356.7 41.7h0.55M352.8 39.0h0.55M355.5 37.3h0.55M356.5 40.7h0.55M354.0 40.6h0.55M356.8 40.3h0.55M356.2 42.0h0.55M357.0 40.3h0.55M356.9 41.6h0.55M357.2 40.8h0.55M358.9 40.2h0.55M363.8 40.0h0.55M362.9 41.3h0.55M362.6 39.9h0.55M361.4 41.2h0.55M356.6 40.5h0.55M358.1 40.0h0.55M362.5 39.1h0.55M353.3 37.6h0.55M357.1 39.2h0.55M358.5 40.9h0.55M363.9 40.5h0.55M359.9 39.0h0.55M360.3 42.1h0.55M362.6 37.3h0.55M361.2 42.4h0.55M361.1 37.9h0.55M357.6 40.9h0.55M359.8 38.9h0.55M355.8 41.5h0.55M354.4 42.2h0.55M358.6 40.5h0.55M354.4 39.2h0.55M360.6 38.0h0.55M364.9 38.1h0.55M354.7 40.2h0.55M360.0 41.2h0.55M357.4 39.8h0.55M357.8 39.3h0.55M359.3 40.3h0.55M356.6 40.5h0.55M358.5 40.0h0.55M361.9 37.6h0.55M359.3 38.6h0.55M357.5 42.3h0.55M355.2 40.0h0.55M356.7 41.5h0.55M355.5 37.7h0.55M360.1 39.6h0.55M357.5 41.7h0.55M355.8 39.6h0.55M359.0 40.7h0.55M356.9 41.6h0.55M365.4 39.5h0.55M364.2 37.1h0.55M362.8 39.6h0.55M358.9 39.6h0.55M356.5 38.3h0.55M357.3 42.0h0.55M362.0 39.6h0.55M356.9 39.1h0.55M354.8 42.7h0.55M360.5 40.3h0.55M357.0 38.6h0.55M362.5 41.2h0.55M355.6 41.5h0.55M355.1 41.0h0.55M355.5 39.5h0.55M360.0 40.7h0.55M361.6 38.9h0.55M363.4 42.0h0.55M358.5 40.8h0.55M356.1 39.9h0.55M354.4 40.2h0.55M359.1 42.0h0.55M361.4 41.3h0.55M357.4 39.8h0.55M357.5 40.4h0.55M352.6 41.2h0.55M353.7 39.4h0.55M358.6 39.4h0.55M363.6 40.0h0.55M363.3 41.8h0.55M357.0 40.7h0.55M362.5 39.6h0.55M358.8 39.3h0.55M358.7 39.6h0.55M358.8 41.5h0.55M362.8 40.3h0.55M359.1 41.3h0.55M357.6 38.6h0.55M361.9 38.8h0.55M361.4 38.7h0.55M364.1 38.6h0.55M361.1 42.3h0.55M355.5 42.2h0.55M356.0 37.6h0.55M360.7 41.1h0.55M357.9 36.5h0.55M358.3 39.7h0.55M357.3 39.7h0.55M353.0 39.3h0.55M364.0 42.3h0.55M357.4 39.1h0.55M359.7 41.6h0.55M360.7 38.4h0.55M359.0 40.3h0.55M362.9 41.8h0.55M360.1 41.9h0.55M357.3 42.3h0.55M357.2 40.7h0.55M361.3 38.8h0.55M356.3 37.6h0.55M359.0 40.0h0.55M357.5 40.8h0.55M352.0 40.1h0.55M358.8 39.7h0.55M360.9 42.6h0.55M357.1 38.7h0.55M356.6 40.2h0.55M360.3 38.9h0.55M361.6 38.6h0.55M361.0 40.7h0.55M357.7 39.9h0.55M360.0 41.3h0.55M362.2 40.4h0.55M364.8 40.8h0.55M373.9 40.1h0.55M367.5 40.2h0.55M355.2 41.0h0.55M370.4 40.2h0.55M366.3 39.0h0.55M367.2 41.6h0.55M367.6 41.8h0.55M356.9 39.4h0.55M369.2 40.0h0.55M360.8 39.1h0.55M373.4 38.3h0.55M363.7 38.5h0.55M365.6 40.9h0.55M370.6 37.3h0.55M374.3 39.2h0.55M365.5 42.2h0.55M367.6 38.3h0.55M365.2 39.0h0.55M363.6 39.6h0.55M371.8 40.5h0.55M363.7 40.2h0.55M368.1 41.0h0.55M366.6 40.6h0.55M377.1 40.1h0.55M363.3 40.4h0.55M364.5 39.5h0.55M368.8 40.5h0.55M366.8 41.1h0.55M367.2 38.2h0.55M371.8 39.5h0.55M373.2 39.1h0.55M370.5 40.4h0.55M356.3 38.0h0.55M363.2 41.9h0.55M359.8 41.2h0.55M372.7 40.7h0.55M370.9 39.3h0.55M368.0 40.3h0.55M369.8 41.0h0.55M367.1 39.1h0.55M365.6 40.6h0.55M360.8 38.3h0.55M366.2 39.3h0.55M366.8 36.4h0.55M366.5 39.7h0.55M371.4 37.3h0.55M366.7 40.6h0.55M370.1 41.6h0.55M372.6 38.6h0.55M370.8 39.5h0.55M364.5 42.1h0.55M365.3 38.9h0.55M366.2 38.9h0.55M372.4 40.5h0.55M374.1 40.6h0.55M365.3 41.4h0.55M365.2 39.4h0.55M367.3 40.1h0.55M373.2 39.2h0.55M369.5 40.0h0.55M362.6 38.5h0.55M367.0 40.5h0.55M369.4 40.6h0.55M368.2 39.4h0.55M369.8 38.6h0.55M362.2 39.6h0.55M361.8 39.3h0.55M364.8 39.3h0.55M367.8 38.9h0.55M366.2 37.7h0.55M368.6 38.8h0.55M369.8 36.2h0.55M364.5 40.3h0.55M357.4 39.5h0.55M368.4 40.1h0.55M361.5 40.3h0.55M368.6 38.7h0.55M371.2 39.9h0.55M368.1 39.4h0.55M370.4 40.1h0.55M372.9 40.6h0.55M365.3 39.7h0.55M372.0 39.5h0.55M369.7 40.7h0.55M367.2 36.9h0.55M368.6 40.3h0.55M368.6 39.0h0.55M373.3 39.8h0.55M365.3 39.0h0.55M369.6 38.5h0.55M363.6 42.7h0.55M373.7 41.4h0.55M373.9 40.8h0.55M360.7 41.6h0.55M373.4 40.7h0.55M359.5 41.7h0.55M373.9 39.3h0.55M368.6 41.1h0.55M367.6 41.5h0.55M368.4 40.9h0.55M368.4 38.0h0.55M369.2 41.8h0.55M373.0 42.3h0.55M370.4 39.2h0.55M368.1 37.4h0.55M367.2 41.2h0.55M358.0 30.9h0.4M372.5 31.6h0.4M364.0 29.5h0.4M359.4 29.3h0.4M371.1 32.7h0.4M362.9 32.2h0.4M370.6 29.3h0.4M379.1 26.1h0.4M368.2 30.4h0.4M378.8 31.9h0.4M379.5 29.7h0.4M373.3 31.7h0.4M371.0 30.4h0.4M367.6 29.6h0.4M362.5 33.0h0.4M366.3 27.4h0.4M369.8 30.0h0.4M369.4 32.5h0.4M368.0 29.8h0.4M364.9 30.3h0.4M366.4 30.5h0.4M383.7 29.8h0.4M364.3 32.9h0.4M372.7 31.0h0.4M372.0 31.0h0.4M371.8 31.8h0.4M373.4 31.6h0.4M366.1 30.2h0.4M365.0 31.6h0.4M372.5 29.3h0.4M371.3 33.4h0.4M374.5 28.3h0.4M368.1 31.0h0.4M368.3 30.6h0.4M374.2 30.2h0.4M363.2 31.4h0.4M368.0 30.3h0.4M365.7 28.4h0.4M362.4 30.0h0.4M363.3 26.8h0.4M374.1 28.2h0.4M365.0 31.0h0.4M356.8 32.6h0.4M364.8 31.2h0.4M366.2 30.6h0.4M369.0 30.1h0.4M359.6 28.6h0.4M368.3 32.0h0.4M365.8 31.0h0.4M369.3 30.7h0.4M373.3 27.8h0.4M369.8 29.8h0.4M367.0 29.0h0.4M364.7 28.9h0.4M363.2 33.8h0.4M366.3 29.8h0.4M361.6 26.9h0.4M358.7 34.0h0.4M357.8 26.9h0.4M356.8 26.9h0.4M351.2 29.1h0.4M356.1 27.4h0.4M353.7 27.1h0.4M359.2 33.9h0.4M357.0 36.3h0.4" stroke="#000" stroke-width="0.55" stroke-opacity="0.8" fill="none"/>
<rect x="226.50" y="56.50" width="33.00" height="31.00" fill="#fff" stroke="#3a3a3a" stroke-width="0.55"/>
<line x1="236.5" y1="56.5" x2="236.5" y2="87.5" stroke="#444" stroke-width="0.5"/>
<line x1="226.5" y1="75.5" x2="259.5" y2="75.5" stroke="#444" stroke-width="0.5"/>
<path d="M228.56 87.5v0.7M226.5 58.44h-0.7M230.62 87.5v0.7M226.5 60.38h-0.7M232.69 87.5v0.7M226.5 62.31h-0.7M234.75 87.5v1.2M226.5 64.25h-1.2M236.81 87.5v0.7M226.5 66.19h-0.7M238.88 87.5v0.7M226.5 68.12h-0.7M240.94 87.5v0.7M226.5 70.06h-0.7M243.00 87.5v1.2M226.5 72.00h-1.2M245.06 87.5v0.7M226.5 73.94h-0.7M247.12 87.5v0.7M226.5 75.88h-0.7M249.19 87.5v0.7M226.5 77.81h-0.7M251.25 87.5v1.2M226.5 79.75h-1.2M253.31 87.5v0.7M226.5 81.69h-0.7M255.38 87.5v0.7M226.5 83.62h-0.7M257.44 87.5v0.7M226.5 85.56h-0.7" stroke="#555" stroke-width="0.35" fill="none"/>
<text x="225.3" y="58.1" font-size="3.0" font-weight="bold" text-anchor="end" fill="#333">10<tspan font-size="2.2" baseline-shift="super">4</tspan></text>
<text x="225.3" y="87.3" font-size="3.0" font-weight="bold" text-anchor="end" fill="#333">10<tspan font-size="2.2" baseline-shift="super">0</tspan></text>
<text x="227.1" y="91.1" font-size="3.0" font-weight="bold" text-anchor="middle" fill="#333">10<tspan font-size="2.2" baseline-shift="super">0</tspan></text>
<text x="259.7" y="91.1" font-size="3.0" font-weight="bold" text-anchor="middle" fill="#333">10<tspan font-size="2.2" baseline-shift="super">4</tspan></text>
<path d="M246.8 81.2h0.55M247.9 83.1h0.55M248.7 80.1h0.55M246.8 81.1h0.55M248.0 79.7h0.55M248.5 86.2h0.55M246.6 82.6h0.55M248.6 76.4h0.55M248.0 81.0h0.55M246.6 85.2h0.55M248.0 80.3h0.55M248.2 83.4h0.55M248.4 83.2h0.55M248.1 78.4h0.55M247.5 82.0h0.55M247.5 78.7h0.55M246.3 82.3h0.55M247.8 80.0h0.55M247.5 79.2h0.55M247.2 81.3h0.55M247.3 83.5h0.55M247.7 82.0h0.55M248.1 85.1h0.55M248.3 82.2h0.55M247.7 79.4h0.55M247.5 83.5h0.55M248.0 80.5h0.55M246.7 77.4h0.55M248.1 84.4h0.55M248.1 77.9h0.55M247.6 82.2h0.55M247.0 82.5h0.55M247.6 79.3h0.55M246.8 83.8h0.55M248.1 79.2h0.55M247.0 84.0h0.55M248.3 80.8h0.55M249.1 80.8h0.55M246.9 84.6h0.55M247.6 82.5h0.55M247.8 78.9h0.55M246.8 81.1h0.55M249.0 78.9h0.55M248.9 82.2h0.55M246.9 82.3h0.55M248.3 79.1h0.55M246.0 82.6h0.55M246.9 82.8h0.55M246.2 81.2h0.55M247.1 77.6h0.55M247.6 82.1h0.55M247.3 78.4h0.55M248.0 76.8h0.55M248.2 82.9h0.55M249.2 84.0h0.55M248.1 82.3h0.55M247.8 78.0h0.55M249.0 83.0h0.55M247.6 78.5h0.55M249.0 83.0h0.55M246.8 83.4h0.55M249.4 81.5h0.55M248.1 80.5h0.55M247.3 84.5h0.55M250.3 81.9h0.55M247.7 83.8h0.55M247.5 83.6h0.55M248.5 78.8h0.55M246.9 81.4h0.55M248.5 82.4h0.55M248.8 77.9h0.55M248.2 79.9h0.55M247.9 82.5h0.55M247.0 81.0h0.55M246.8 82.3h0.55M247.1 80.3h0.55M248.0 79.8h0.55M248.7 79.9h0.55M248.5 82.4h0.55M246.9 81.0h0.55M247.1 80.6h0.55M247.6 86.5h0.55M247.5 85.9h0.55M248.2 78.1h0.55M245.9 83.4h0.55M246.2 83.5h0.55M248.6 82.7h0.55M247.6 80.9h0.55M248.0 80.8h0.55M247.4 80.6h0.55M248.8 79.9h0.55M248.1 78.5h0.55M247.2 77.9h0.55M247.6 83.5h0.55M248.1 80.3h0.55M248.3 80.7h0.55M248.1 82.3h0.55M248.2 74.9h0.55M246.7 83.7h0.55M247.6 80.1h0.55M249.0 83.1h0.55M249.4 83.0h0.55M247.6 83.6h0.55M247.2 80.4h0.55M247.3 81.0h0.55M248.4 80.3h0.55M248.1 80.3h0.55M248.5 74.1h0.55M247.6 82.1h0.55M246.9 84.3h0.55M248.0 85.1h0.55M248.6 83.3h0.55M247.7 78.7h0.55M247.6 80.4h0.55M248.0 80.3h0.55M250.3 77.3h0.55M248.8 80.3h0.55M247.6 84.1h0.55M247.8 78.3h0.55M248.1 81.1h0.55M246.1 82.1h0.55M246.9 79.6h0.55M248.2 82.4h0.55M248.1 79.9h0.55M248.0 81.3h0.55M246.0 77.3h0.55M247.6 80.9h0.55M247.3 84.3h0.55M247.8 86.2h0.55M248.4 86.0h0.55M247.7 82.6h0.55M247.4 81.1h0.55M246.4 80.0h0.55M247.0 79.8h0.55M248.8 82.3h0.55M248.8 83.9h0.55M248.6 84.3h0.55M247.3 83.8h0.55M247.5 80.2h0.55M247.0 86.3h0.55M248.5 79.3h0.55M248.0 82.6h0.55M248.1 80.6h0.55M246.7 81.7h0.55M248.5 83.7h0.55M248.3 84.6h0.55M247.0 81.5h0.55M248.1 84.3h0.55M247.9 83.0h0.55M246.0 81.5h0.55M249.8 82.2h0.55M246.3 82.0h0.55M246.6 79.8h0.55M248.0 86.2h0.55M248.2 83.4h0.55M248.6 82.1h0.55M247.1 81.3h0.55M248.1 80.9h0.55M247.3 80.6h0.55M246.6 78.8h0.55M247.7 80.6h0.55M247.8 85.4h0.55M248.0 81.5h0.55M246.8 78.7h0.55M248.1 79.2h0.55M248.2 78.7h0.55M247.9 81.4h0.55M248.6 80.5h0.55M247.5 82.3h0.55M247.8 86.2h0.55M247.6 80.2h0.55M247.5 82.9h0.55M248.0 83.5h0.55M249.3 81.5h0.55M246.8 82.0h0.55M248.1 75.6h0.55M247.8 77.6h0.55M248.2 85.3h0.55M248.6 77.5h0.55M248.9 84.0h0.55M247.5 83.0h0.55M249.0 80.7h0.55M247.8 80.1h0.55M248.7 75.8h0.55M249.0 79.0h0.55M248.6 77.2h0.55M247.0 80.0h0.55M248.5 77.2h0.55M248.3 79.9h0.55M248.8 80.8h0.55M248.2 81.1h0.55M249.3 80.6h0.55M247.8 86.9h0.55M247.9 83.4h0.55M247.2 82.1h0.55M245.9 81.9h0.55M247.3 77.6h0.55M246.6 84.7h0.55M248.1 77.5h0.55M249.3 79.7h0.55M247.5 82.3h0.55M246.9 77.2h0.55M247.2 84.8h0.55M248.6 77.3h0.55M248.8 81.7h0.55M248.2 81.7h0.55M248.1 78.9h0.55M247.1 79.7h0.55M247.5 83.3h0.55M246.8 85.9h0.55M247.3 80.0h0.55M248.4 82.8h0.55M247.5 78.7h0.55M247.0 77.3h0.55M248.7 84.5h0.55M249.3 82.9h0.55M248.1 83.6h0.55M248.6 80.9h0.55M246.4 77.8h0.55M247.0 83.6h0.55M248.8 80.7h0.55M248.3 81.5h0.55M248.0 80.1h0.55M247.8 81.6h0.55M246.3 83.0h0.55M247.8 84.2h0.55M248.7 83.7h0.55M248.5 79.0h0.55M246.4 86.1h0.55M248.8 79.0h0.55M248.9 83.4h0.55M245.8 84.0h0.55M247.0 84.7h0.55M247.2 79.6h0.55M246.5 81.0h0.55M248.6 79.8h0.55M249.3 83.5h0.55M247.4 78.3h0.55M246.5 83.1h0.55M248.9 78.7h0.55M247.8 80.9h0.55M247.6 83.0h0.55M249.5 79.9h0.55M248.5 84.5h0.55M247.6 81.2h0.55M246.7 84.5h0.55M247.4 79.8h0.55M247.9 79.3h0.55M246.9 80.8h0.55M249.0 81.0h0.55M248.2 77.6h0.55M246.2 86.5h0.55M247.5 77.4h0.55M247.7 83.2h0.55M246.4 79.2h0.55M248.0 79.1h0.55M248.5 84.2h0.55M248.2 80.4h0.55M247.8 79.9h0.55M247.7 82.5h0.55M247.6 84.2h0.55M249.9 80.1h0.55M248.1 83.8h0.55M248.3 81.0h0.55M247.4 84.3h0.55M248.3 83.0h0.55M247.1 83.3h0.55M248.5 81.1h0.55M246.3 83.2h0.55M246.8 77.9h0.55M247.6 83.1h0.55M247.8 78.4h0.55M246.6 80.1h0.55M247.8 79.4h0.55M246.6 86.3h0.55M247.1 81.2h0.55M247.3 80.0h0.55M247.8 80.8h0.55M248.3 78.4h0.55M246.6 86.9h0.55M247.7 83.7h0.55M248.8 83.1h0.55M247.8 77.4h0.55M246.5 84.3h0.55M248.4 83.1h0.55M246.4 75.8h0.55M246.9 78.4h0.55M247.9 78.8h0.55M249.1 79.9h0.55M247.3 83.9h0.55M248.1 79.2h0.55M248.5 86.8h0.55M246.8 80.9h0.55M246.9 76.3h0.55M248.3 83.5h0.55M248.6 82.8h0.55M246.1 81.5h0.55M247.2 78.4h0.55M246.9 83.7h0.55M247.6 86.9h0.55M248.2 76.4h0.55M248.5 85.0h0.55M247.8 78.3h0.55M249.3 78.0h0.55M247.7 76.4h0.55M246.8 77.0h0.55M248.7 84.8h0.55M247.5 77.9h0.55M247.8 82.6h0.55M246.5 78.4h0.55M247.7 83.5h0.55M247.9 82.8h0.55M246.8 74.8h0.55M248.1 79.1h0.55M247.7 80.6h0.55M248.2 79.5h0.55M249.0 81.7h0.55M248.2 83.3h0.55M248.7 82.7h0.55M245.4 81.5h0.55M250.3 85.2h0.55M248.6 85.2h0.55M246.9 81.3h0.55M248.4 79.5h0.55M250.2 84.8h0.55M249.4 84.3h0.55M247.4 84.2h0.55M246.3 79.5h0.55M246.6 81.8h0.55M245.9 83.2h0.55M250.3 83.4h0.55M249.0 82.8h0.55M248.3 83.5h0.55M247.1 83.9h0.55M245.8 85.1h0.55M247.4 79.9h0.55M247.3 85.5h0.55M246.9 85.2h0.55M246.3 83.2h0.55M248.2 86.2h0.55M245.8 81.6h0.55M250.1 82.6h0.55M250.8 81.1h0.55M247.4 78.1h0.55M248.7 84.5h0.55M250.6 84.2h0.55M247.5 78.7h0.55M247.7 86.9h0.55M249.0 83.4h0.55M248.6 84.2h0.55M248.3 80.0h0.55M247.9 71.2h0.45M248.4 74.4h0.45M244.6 71.9h0.45M248.9 67.8h0.45M245.8 71.2h0.45M247.8 71.4h0.45M246.5 69.1h0.45M247.7 72.5h0.45M249.6 71.2h0.45M246.9 63.9h0.45M248.5 70.0h0.45M247.4 67.7h0.45M248.2 65.4h0.45M247.6 70.7h0.45M247.8 74.0h0.45M247.4 70.7h0.45M248.3 66.1h0.45M247.2 70.6h0.45M248.4 68.2h0.45M248.3 71.5h0.45M246.1 66.3h0.45M246.1 70.8h0.45M247.7 72.4h0.45M248.3 68.9h0.45M248.5 72.7h0.45M247.9 71.7h0.45M246.3 71.4h0.45M246.5 67.1h0.45M247.2 70.8h0.45M247.4 69.5h0.45M246.6 70.9h0.45M246.8 66.5h0.45M247.6 74.4h0.45M247.1 67.4h0.45M248.8 75.2h0.45M247.2 69.8h0.45M247.7 78.6h0.45M247.6 73.2h0.45M247.9 65.3h0.45M246.5 67.0h0.45M247.9 70.7h0.45M249.2 69.6h0.45M247.8 70.6h0.45M247.6 76.9h0.45M247.8 74.5h0.45M248.7 68.7h0.45M248.1 69.3h0.45M247.6 70.8h0.45M247.5 69.1h0.45M249.0 69.7h0.45M248.2 75.1h0.45M248.1 73.3h0.45M248.8 73.4h0.45M249.1 66.4h0.45M249.4 70.5h0.45M245.8 68.6h0.45M246.2 70.3h0.45M246.1 67.6h0.45M247.8 70.8h0.45M246.7 69.7h0.45M247.4 70.6h0.45M247.5 69.8h0.45M248.3 65.9h0.45M247.0 70.8h0.45M247.1 68.9h0.45M247.1 71.0h0.45M248.7 69.9h0.45M247.2 71.4h0.45M247.3 65.0h0.45M247.8 69.3h0.45M247.0 72.2h0.45M247.5 68.8h0.45M245.4 65.6h0.45M247.5 70.1h0.45M247.9 71.0h0.45M247.0 66.9h0.45M246.5 70.0h0.45M246.4 72.5h0.45M246.2 65.4h0.45M247.3 65.4h0.45M249.0 67.6h0.45M247.5 69.7h0.45M246.7 65.5h0.45M245.7 72.8h0.45M248.5 76.5h0.45M246.1 72.0h0.45M247.5 72.8h0.45M247.0 72.4h0.45M248.4 72.1h0.45M248.9 69.9h0.45M251.4 68.7h0.4M251.7 59.5h0.4M248.0 68.3h0.4M248.0 76.5h0.4M249.6 72.3h0.4M251.7 65.3h0.4M246.2 78.7h0.4M248.7 62.6h0.4M248.7 66.6h0.4M251.3 77.0h0.4M246.8 77.7h0.4M246.2 76.0h0.4M249.3 71.3h0.4M244.9 70.6h0.4" stroke="#000" stroke-width="0.55" stroke-opacity="0.8" fill="none"/>
<rect x="288.50" y="56.50" width="33.00" height="31.00" fill="#fff" stroke="#3a3a3a" stroke-width="0.55"/>
<line x1="299.5" y1="56.5" x2="299.5" y2="87.5" stroke="#444" stroke-width="0.5"/>
<line x1="288.5" y1="78.5" x2="321.5" y2="78.5" stroke="#444" stroke-width="0.5"/>
<path d="M290.56 87.5v0.7M288.5 58.44h-0.7M292.62 87.5v0.7M288.5 60.38h-0.7M294.69 87.5v0.7M288.5 62.31h-0.7M296.75 87.5v1.2M288.5 64.25h-1.2M298.81 87.5v0.7M288.5 66.19h-0.7M300.88 87.5v0.7M288.5 68.12h-0.7M302.94 87.5v0.7M288.5 70.06h-0.7M305.00 87.5v1.2M288.5 72.00h-1.2M307.06 87.5v0.7M288.5 73.94h-0.7M309.12 87.5v0.7M288.5 75.88h-0.7M311.19 87.5v0.7M288.5 77.81h-0.7M313.25 87.5v1.2M288.5 79.75h-1.2M315.31 87.5v0.7M288.5 81.69h-0.7M317.38 87.5v0.7M288.5 83.62h-0.7M319.44 87.5v0.7M288.5 85.56h-0.7" stroke="#555" stroke-width="0.35" fill="none"/>
<text x="287.3" y="58.1" font-size="3.0" font-weight="bold" text-anchor="end" fill="#333">10<tspan font-size="2.2" baseline-shift="super">4</tspan></text>
<text x="287.3" y="87.3" font-size="3.0" font-weight="bold" text-anchor="end" fill="#333">10<tspan font-size="2.2" baseline-shift="super">0</tspan></text>
<text x="289.1" y="91.1" font-size="3.0" font-weight="bold" text-anchor="middle" fill="#333">10<tspan font-size="2.2" baseline-shift="super">0</tspan></text>
<text x="321.7" y="91.1" font-size="3.0" font-weight="bold" text-anchor="middle" fill="#333">10<tspan font-size="2.2" baseline-shift="super">4</tspan></text>
<path d="M304.4 83.1h0.55M304.9 85.0h0.55M305.9 81.1h0.55M307.7 84.1h0.55M306.4 85.9h0.55M307.9 83.8h0.55M306.3 80.6h0.55M307.6 84.7h0.55M306.3 82.2h0.55M307.0 81.9h0.55M307.0 84.5h0.55M308.7 84.0h0.55M307.2 84.5h0.55M308.6 83.4h0.55M305.6 82.9h0.55M305.6 82.8h0.55M306.9 84.1h0.55M307.2 83.8h0.55M306.6 84.1h0.55M308.0 84.5h0.55M308.7 83.4h0.55M306.7 85.5h0.55M307.2 84.1h0.55M306.6 84.7h0.55M306.5 82.6h0.55M306.9 83.2h0.55M308.0 83.3h0.55M307.1 83.5h0.55M307.4 83.0h0.55M308.3 82.2h0.55M306.6 83.0h0.55M307.7 83.7h0.55M307.6 83.4h0.55M306.2 82.5h0.55M306.6 83.1h0.55M307.3 84.1h0.55M308.1 83.6h0.55M306.1 82.6h0.55M307.1 84.1h0.55M309.2 83.9h0.55M309.0 85.7h0.55M305.8 85.0h0.55M308.3 85.1h0.55M307.0 84.7h0.55M306.4 83.6h0.55M307.0 85.6h0.55M306.8 84.7h0.55M307.1 83.0h0.55M307.3 84.4h0.55M306.2 84.4h0.55M306.2 82.8h0.55M307.3 83.5h0.55M305.9 82.0h0.55M307.0 84.0h0.55M306.5 83.9h0.55M305.2 84.1h0.55M307.5 84.0h0.55M306.3 83.8h0.55M307.1 84.8h0.55M307.3 84.0h0.55M306.2 84.6h0.55M308.3 83.2h0.55M307.7 84.0h0.55M306.9 82.4h0.55M309.0 81.7h0.55M307.3 83.3h0.55M308.3 83.3h0.55M307.0 84.3h0.55M307.5 83.2h0.55M307.8 84.1h0.55M308.1 83.2h0.55M306.9 83.3h0.55M306.0 84.0h0.55M307.5 85.2h0.55M306.6 84.1h0.55M308.3 83.6h0.55M307.1 83.8h0.55M306.2 82.7h0.55M308.3 83.9h0.55M306.9 82.4h0.55M307.1 84.9h0.55M305.7 82.8h0.55M308.3 85.2h0.55M308.8 83.1h0.55M307.7 82.9h0.55M307.6 83.3h0.55M307.2 85.1h0.55M307.4 83.4h0.55M307.1 84.0h0.55M306.4 83.9h0.55M307.7 85.3h0.55M304.6 82.5h0.55M305.6 84.6h0.55M309.8 83.9h0.55M307.1 84.9h0.55M304.2 83.5h0.55M303.4 83.9h0.55M306.4 83.2h0.55M307.4 83.1h0.55M308.3 83.7h0.55M307.4 86.3h0.55M306.5 84.7h0.55M306.1 85.0h0.55M308.1 83.8h0.55M308.1 85.4h0.55M308.6 83.7h0.55M306.9 84.9h0.55M305.3 83.1h0.55M307.6 84.3h0.55M309.1 85.5h0.55M307.4 84.2h0.55M305.5 83.5h0.55M307.3 83.5h0.55M307.1 84.3h0.55M305.9 83.1h0.55M305.0 84.9h0.55M305.8 81.9h0.55M307.9 83.5h0.55M308.1 83.3h0.55M309.4 84.4h0.55M307.2 83.8h0.55M306.8 84.5h0.55M309.3 83.3h0.55M305.8 84.3h0.55M308.2 82.2h0.55M306.2 82.7h0.55M307.6 84.2h0.55M306.2 82.5h0.55M307.8 81.6h0.55M307.7 83.5h0.55M309.2 84.7h0.55M306.3 83.4h0.55M306.7 82.9h0.55M307.1 84.7h0.55M305.3 83.5h0.55M308.7 84.5h0.55M306.1 82.9h0.55M306.0 82.0h0.55M308.3 83.8h0.55M306.2 82.2h0.55M306.6 83.2h0.55M309.0 83.2h0.55M307.1 84.8h0.55M307.8 83.5h0.55M304.5 85.1h0.55M307.7 83.3h0.55M306.9 82.7h0.55M306.0 82.2h0.55M307.6 84.2h0.55M307.2 84.5h0.55M307.6 83.8h0.55M306.0 84.3h0.55M308.3 84.4h0.55M308.4 83.2h0.55M305.9 85.0h0.55M306.3 84.0h0.55M306.8 83.7h0.55M306.7 83.1h0.55M305.0 85.7h0.55M307.2 81.7h0.55M306.0 82.5h0.55M306.2 81.1h0.55M307.6 85.4h0.55M306.7 84.5h0.55M307.7 82.4h0.55M308.4 82.0h0.55M306.4 83.3h0.55M308.4 83.8h0.55M306.9 82.9h0.55M307.1 83.7h0.55M307.8 85.1h0.55M307.8 83.7h0.55M306.8 85.3h0.55M307.2 83.7h0.55M309.0 85.3h0.55M307.6 83.6h0.55M306.3 84.8h0.55M306.5 84.7h0.55M306.1 83.8h0.55M307.5 83.8h0.55M307.3 84.1h0.55M305.7 82.6h0.55M306.8 85.6h0.55M306.9 82.7h0.55M306.3 83.7h0.55M308.3 83.1h0.55M307.6 83.9h0.55M306.6 82.7h0.55M306.8 83.0h0.55M307.6 81.9h0.55M308.3 84.5h0.55M307.7 85.2h0.55M307.7 81.9h0.55M307.1 84.2h0.55M306.2 82.5h0.55M307.5 84.2h0.55M306.5 83.5h0.55M306.4 83.1h0.55M306.9 84.8h0.55M305.2 83.4h0.55M308.8 84.0h0.55M307.2 84.6h0.55M305.9 82.5h0.55M305.1 82.2h0.55M307.3 84.6h0.55M306.5 83.0h0.55M307.5 84.3h0.55M307.3 81.8h0.55M306.4 81.1h0.55M307.3 82.8h0.55M306.3 85.2h0.55M308.5 84.2h0.55M307.3 83.9h0.55M306.3 83.6h0.55M309.1 82.8h0.55M306.3 83.9h0.55M308.0 84.6h0.55M305.9 83.6h0.55M306.7 82.4h0.55M307.1 83.2h0.55M308.0 84.1h0.55M306.1 83.8h0.55M306.6 83.1h0.55M306.5 84.8h0.55M306.5 81.9h0.55M306.1 84.5h0.55M309.4 82.6h0.55M306.6 83.4h0.55M305.4 84.1h0.55M306.9 84.0h0.55M309.5 83.4h0.55M307.9 84.6h0.55M306.3 83.1h0.55M308.7 84.4h0.55M307.2 82.6h0.55M308.0 84.2h0.55M309.5 85.2h0.55M307.9 84.0h0.55M307.1 83.1h0.55M307.3 83.9h0.55M307.7 84.8h0.55M307.3 83.1h0.55M307.9 85.3h0.55M306.1 84.1h0.55M307.6 84.2h0.55M307.6 83.6h0.55M306.9 85.4h0.55M308.9 82.3h0.55M304.2 84.1h0.55M306.2 83.2h0.55M305.2 84.1h0.55M306.9 83.1h0.55M308.0 86.2h0.55M308.6 84.9h0.55M306.5 84.4h0.55M307.0 84.9h0.55M307.7 83.7h0.55M307.6 83.0h0.55M307.9 85.2h0.55M306.6 84.3h0.55M305.1 84.7h0.55M308.0 82.7h0.55M308.9 83.8h0.55M305.1 82.3h0.55M308.0 83.4h0.55M308.2 82.1h0.55M306.9 84.7h0.55M306.2 84.4h0.55M306.6 84.1h0.55M307.4 86.0h0.55M305.6 84.5h0.55M308.5 82.6h0.55M307.1 86.1h0.55M308.2 80.7h0.55M306.7 82.0h0.55M307.3 83.0h0.55M306.4 82.8h0.55M307.3 83.2h0.55M306.0 83.5h0.55M307.5 82.8h0.55M308.2 82.0h0.55M307.5 83.3h0.55M308.8 83.0h0.55M306.3 82.3h0.55M309.2 84.3h0.55M305.8 83.4h0.55M305.9 85.3h0.55M307.5 81.6h0.55M307.2 84.6h0.55M307.0 84.2h0.55M306.9 83.9h0.55M307.2 83.0h0.55M307.4 83.9h0.55M307.0 83.0h0.55M305.9 84.0h0.55M307.9 81.2h0.55M306.4 85.1h0.55M308.0 83.0h0.55M308.5 82.7h0.55M306.1 85.7h0.55M306.5 83.5h0.55M305.2 82.7h0.55M305.7 83.6h0.55M304.9 84.8h0.55M306.6 83.1h0.55M306.3 84.5h0.55M308.7 83.3h0.55M308.8 85.3h0.55M308.5 84.0h0.55M305.3 84.4h0.55M306.5 83.9h0.55M304.9 83.4h0.55M307.3 82.7h0.55M307.3 85.4h0.55M307.3 83.0h0.55M309.7 81.5h0.55M306.0 84.1h0.55M306.3 81.4h0.55M307.3 84.5h0.55M306.1 85.2h0.55M307.6 84.9h0.55M305.3 83.7h0.55M308.8 85.8h0.55M308.5 83.7h0.55M307.2 83.1h0.55M308.2 83.0h0.55M307.1 81.6h0.55M305.3 85.5h0.55M307.1 83.9h0.55M304.5 83.7h0.55M312.3 81.3h0.4M301.9 83.3h0.4M306.3 83.3h0.4M304.6 81.5h0.4M304.6 84.6h0.4M307.4 84.9h0.4M305.0 84.5h0.4M306.5 83.7h0.4M309.7 83.7h0.4M306.7 81.0h0.4M307.6 84.8h0.4M306.0 83.5h0.4M303.4 81.5h0.4M308.4 85.6h0.4M306.8 81.0h0.4M306.6 81.2h0.4M306.9 86.6h0.4M308.2 83.4h0.4M309.9 83.0h0.4M308.3 83.9h0.4M308.5 81.3h0.4M309.2 85.0h0.4M302.1 79.3h0.4M305.4 85.9h0.4M307.5 84.7h0.4M308.8 85.0h0.4M306.0 82.7h0.4M308.4 84.6h0.4M308.9 84.1h0.4M306.4 85.3h0.4M307.2 75.1h0.55M304.4 75.0h0.55M304.5 74.5h0.55M306.2 74.4h0.55M306.4 74.1h0.55M307.0 74.6h0.55M306.1 72.4h0.55M306.1 74.7h0.55M306.0 74.6h0.55M306.5 73.6h0.55M307.9 75.5h0.55M306.7 74.3h0.55M307.7 73.3h0.55M306.0 75.1h0.55M307.6 73.9h0.55M306.1 74.6h0.55M305.5 73.9h0.55M306.6 72.5h0.55M307.4 74.9h0.55M307.8 73.2h0.55M305.6 73.7h0.55M305.6 75.8h0.55M305.1 73.3h0.4M308.6 74.8h0.4M312.3 71.7h0.4M310.6 74.2h0.4M304.5 74.2h0.4M303.8 77.1h0.4" stroke="#000" stroke-width="0.55" stroke-opacity="0.8" fill="none"/>
<rect x="350.50" y="56.50" width="34.00" height="31.00" fill="#fff" stroke="#3a3a3a" stroke-width="0.55"/>
<line x1="361.5" y1="56.5" x2="361.5" y2="87.5" stroke="#444" stroke-width="0.5"/>
<line x1="350.5" y1="78.5" x2="384.5" y2="78.5" stroke="#444" stroke-width="0.5"/>
<path d="M352.62 87.5v0.7M350.5 58.44h-0.7M354.75 87.5v0.7M350.5 60.38h-0.7M356.88 87.5v0.7M350.5 62.31h-0.7M359.00 87.5v1.2M350.5 64.25h-1.2M361.12 87.5v0.7M350.5 66.19h-0.7M363.25 87.5v0.7M350.5 68.12h-0.7M365.38 87.5v0.7M350.5 70.06h-0.7M367.50 87.5v1.2M350.5 72.00h-1.2M369.62 87.5v0.7M350.5 73.94h-0.7M371.75 87.5v0.7M350.5 75.88h-0.7M373.88 87.5v0.7M350.5 77.81h-0.7M376.00 87.5v1.2M350.5 79.75h-1.2M378.12 87.5v0.7M350.5 81.69h-0.7M380.25 87.5v0.7M350.5 83.62h-0.7M382.38 87.5v0.7M350.5 85.56h-0.7" stroke="#555" stroke-width="0.35" fill="none"/>
<text x="349.3" y="58.1" font-size="3.0" font-weight="bold" text-anchor="end" fill="#333">10<tspan font-size="2.2" baseline-shift="super">4</tspan></text>
<text x="349.3" y="87.3" font-size="3.0" font-weight="bold" text-anchor="end" fill="#333">10<tspan font-size="2.2" baseline-shift="super">0</tspan></text>
<text x="351.1" y="91.1" font-size="3.0" font-weight="bold" text-anchor="middle" fill="#333">10<tspan font-size="2.2" baseline-shift="super">0</tspan></text>
<text x="384.7" y="91.1" font-size="3.0" font-weight="bold" text-anchor="middle" fill="#333">10<tspan font-size="2.2" baseline-shift="super">4</tspan></text>
<path d="M353.3 85.6h0.55M358.1 83.3h0.55M352.9 84.4h0.55M352.5 85.4h0.55M355.4 83.1h0.55M353.4 85.2h0.55M351.5 86.5h0.55M353.1 83.9h0.55M352.8 86.5h0.55M357.0 86.0h0.55M356.6 84.3h0.55M359.0 85.1h0.55M356.0 85.0h0.55M356.8 84.6h0.55M354.6 82.0h0.55M359.9 82.4h0.55M359.6 85.9h0.55M353.6 84.6h0.55M354.9 81.4h0.55M354.2 84.6h0.55M357.8 82.5h0.55M355.8 84.3h0.55M355.4 84.4h0.55M354.1 82.3h0.55M356.1 84.7h0.55M356.4 85.9h0.55M352.0 80.9h0.55M352.8 84.8h0.55M355.0 85.2h0.55M362.7 83.5h0.55M354.6 83.4h0.55M355.6 84.9h0.55M352.7 86.0h0.55M357.8 84.8h0.55M354.7 83.9h0.55M351.1 85.1h0.55M352.7 83.5h0.55M357.4 82.9h0.55M353.7 85.4h0.55M359.5 83.2h0.55M357.6 83.3h0.55M355.9 84.9h0.55M352.3 85.6h0.55M359.3 84.3h0.55M355.6 82.6h0.55M359.3 84.3h0.55M351.9 85.3h0.55M351.5 83.2h0.55M360.3 83.3h0.55M353.4 83.4h0.55M353.6 85.0h0.55M358.5 82.8h0.55M356.1 81.7h0.55M358.7 84.1h0.55M353.3 86.3h0.55M354.7 86.1h0.55M357.6 86.5h0.55M353.1 84.3h0.55M355.9 83.9h0.55M358.7 83.2h0.55M357.4 86.1h0.55M352.8 83.4h0.55M355.9 84.0h0.55M355.2 83.6h0.55M354.8 84.9h0.55M356.8 83.1h0.55M354.7 83.1h0.55M354.6 82.2h0.55M357.3 85.1h0.55M354.7 83.2h0.55M353.9 83.3h0.55M351.3 86.5h0.55M362.9 82.5h0.55M352.2 85.0h0.55M356.5 82.0h0.55M353.8 84.3h0.55M355.0 83.4h0.55M354.7 83.8h0.55M358.0 84.1h0.55M354.9 83.5h0.55M353.5 83.2h0.55M355.0 86.8h0.55M357.7 84.5h0.55M359.0 85.6h0.55M355.5 84.0h0.55M352.4 84.5h0.55M354.2 82.0h0.55M351.9 86.9h0.55M355.5 84.9h0.55M355.5 83.5h0.55M356.1 85.7h0.55M354.3 84.9h0.55M357.5 83.5h0.55M355.4 83.2h0.55M356.4 83.7h0.55M357.8 83.1h0.55M359.1 83.8h0.55M353.0 82.9h0.55M356.6 83.0h0.55M359.3 86.0h0.55M356.2 82.2h0.55M354.9 83.2h0.55M360.3 83.4h0.55M356.9 86.0h0.55M352.7 83.7h0.55M355.6 84.9h0.55M352.3 84.5h0.55M354.7 85.5h0.55M351.2 83.4h0.55M353.8 83.8h0.55M356.7 83.3h0.55M361.6 83.2h0.55M357.0 85.6h0.55M357.3 83.9h0.55M353.0 83.8h0.55M356.6 84.4h0.55M356.4 85.0h0.55M352.9 82.9h0.55M358.5 83.5h0.55M351.2 86.8h0.55M353.0 82.9h0.55M357.3 82.6h0.55M352.9 85.7h0.55M355.3 84.3h0.55M353.5 83.9h0.55M353.8 84.2h0.55M356.9 82.4h0.55M352.8 81.3h0.55M358.6 84.1h0.55M355.0 84.1h0.55M357.4 84.6h0.55M357.0 84.0h0.55M354.7 84.1h0.55M351.2 82.8h0.55M356.6 84.3h0.55M357.0 86.6h0.55M359.5 86.1h0.55M352.9 84.1h0.55M357.4 83.9h0.55M354.7 83.7h0.55M358.3 80.7h0.55M358.1 85.7h0.55M354.8 85.0h0.55M352.7 85.8h0.55M362.3 82.9h0.55M358.4 84.1h0.55M354.2 83.5h0.55M354.5 82.4h0.55M351.7 86.5h0.55M355.0 85.0h0.55M355.7 84.9h0.55M351.3 82.9h0.55M356.5 85.6h0.55M352.3 83.4h0.55M352.4 85.1h0.55M355.8 84.2h0.55M353.4 84.7h0.55M355.1 83.2h0.55M355.8 83.3h0.55M357.3 85.1h0.55M353.3 85.0h0.55M355.2 83.2h0.55M352.8 81.9h0.55M352.3 84.7h0.55M357.9 83.3h0.55M355.4 84.7h0.55M356.9 84.8h0.55M357.9 85.3h0.55M353.2 84.8h0.55M355.0 85.0h0.55M354.3 85.4h0.55M358.2 83.0h0.55M353.7 84.6h0.55M356.2 84.4h0.55M357.0 82.5h0.55M356.9 85.8h0.55M357.7 84.8h0.55M354.4 84.8h0.55M354.8 82.0h0.55M353.5 84.1h0.55M353.8 82.9h0.55M354.4 83.7h0.55M355.2 84.1h0.55M355.4 85.6h0.55M355.3 84.8h0.55M352.1 80.1h0.55M354.0 85.1h0.55M354.2 83.3h0.55M352.0 85.4h0.55M353.7 84.5h0.55M357.7 85.0h0.55M360.4 84.0h0.55M357.3 85.2h0.55M353.4 84.3h0.55M353.6 82.8h0.55M355.7 83.1h0.55M359.0 83.2h0.55M353.7 84.3h0.55M353.8 84.3h0.55M353.5 82.2h0.55M358.7 84.8h0.55M355.4 83.5h0.55M354.7 84.6h0.55M351.7 83.1h0.55M352.9 86.0h0.55M352.5 85.8h0.55M354.8 84.2h0.55M358.2 85.4h0.55M357.3 82.7h0.55M357.7 86.6h0.55M354.8 83.5h0.55M352.4 85.6h0.55M355.7 84.2h0.55M352.0 86.5h0.55M357.1 84.2h0.55M358.5 82.9h0.55M357.1 82.8h0.55M358.4 83.8h0.55M357.9 83.6h0.55M356.0 85.8h0.55M352.8 84.3h0.55M353.0 85.4h0.55M353.6 83.7h0.55M354.5 85.8h0.55M352.5 84.2h0.55M354.2 83.4h0.55M353.1 84.0h0.55M355.5 82.0h0.55M355.6 82.5h0.55M352.7 84.1h0.55M354.4 85.6h0.55M353.9 81.7h0.55M351.1 84.4h0.55M355.6 85.7h0.55M353.7 85.1h0.55M352.4 86.0h0.55M354.8 83.3h0.55M355.4 86.6h0.55M353.0 82.5h0.55M352.6 82.6h0.55M354.9 84.7h0.55M354.6 84.5h0.55M357.8 83.8h0.55M352.0 81.0h0.55M355.6 83.2h0.55M354.4 84.8h0.55M356.1 82.0h0.55M352.7 84.3h0.55M354.7 85.8h0.55M353.8 81.3h0.55M357.8 81.9h0.55M352.7 84.7h0.55M355.6 84.9h0.55M356.3 83.2h0.55M358.0 81.8h0.55M353.6 84.6h0.55M355.3 82.9h0.55M358.8 86.3h0.55M352.8 84.7h0.55M353.5 83.6h0.55M357.4 84.4h0.55M354.7 84.3h0.55M352.2 85.9h0.55M353.2 86.0h0.55M353.9 83.6h0.55M358.6 84.5h0.55M353.5 83.5h0.55M356.5 86.8h0.55M356.5 83.6h0.55M352.3 83.3h0.55M354.7 84.5h0.55M353.4 86.0h0.55M352.7 83.2h0.55M356.2 84.9h0.55M354.1 85.5h0.55M351.6 86.5h0.55M360.2 86.9h0.55M355.3 87.0h0.55M355.1 86.1h0.55M354.5 84.5h0.55M356.3 81.8h0.55M354.5 86.6h0.55M357.2 84.7h0.55M355.5 86.1h0.55M355.8 81.6h0.55M352.7 83.8h0.55M355.3 83.6h0.55M354.7 86.5h0.55M357.2 85.0h0.55M355.0 84.3h0.55M355.9 84.5h0.55M353.3 85.3h0.55M353.0 84.1h0.55M354.1 82.6h0.55M356.5 84.1h0.55M352.2 84.1h0.55M351.7 86.2h0.55M356.2 87.0h0.55M353.6 85.2h0.55M352.7 83.0h0.55M354.8 84.8h0.55M357.2 83.8h0.55M357.6 85.5h0.55M352.9 84.0h0.55M352.8 86.6h0.55M353.7 85.4h0.55M357.2 83.8h0.55M353.8 84.7h0.55M353.1 82.4h0.55M352.7 84.7h0.55M355.5 86.7h0.55M352.2 85.8h0.55M356.7 84.4h0.55M358.5 83.7h0.55M353.7 82.7h0.55M353.4 84.4h0.55M356.6 86.0h0.55M354.4 83.2h0.55M354.2 83.6h0.55M353.9 83.6h0.55M352.9 84.1h0.55M353.8 84.0h0.55M351.7 84.4h0.55M356.4 85.1h0.55M353.7 82.6h0.55M351.9 82.6h0.55M353.5 83.8h0.55M351.3 83.2h0.55M353.3 85.4h0.55M359.4 83.7h0.55M354.3 83.7h0.55M354.5 84.0h0.55M360.9 82.7h0.55M354.7 83.1h0.55M355.8 83.5h0.55M356.4 82.7h0.55M360.0 84.5h0.55M353.9 82.6h0.55M356.0 83.5h0.55M356.8 83.4h0.55M357.1 84.4h0.55M355.8 84.4h0.55M354.1 83.7h0.55M356.1 85.2h0.55M359.0 82.6h0.55M357.6 84.1h0.55M355.6 83.1h0.55M358.9 83.1h0.55M354.8 83.2h0.55M359.6 85.9h0.55M351.9 83.6h0.55M355.9 83.6h0.55M354.2 82.7h0.55M355.6 82.7h0.55M354.2 86.5h0.55M359.7 83.4h0.55M357.4 83.0h0.55M358.9 85.4h0.55M361.4 84.0h0.55M354.7 84.3h0.55M363.8 84.8h0.55M358.3 81.3h0.55M357.1 85.2h0.55M355.5 86.4h0.55M356.7 83.1h0.55M356.7 84.3h0.55M361.7 83.6h0.55M352.9 84.3h0.55M360.1 86.7h0.55M355.0 86.6h0.55M360.6 85.1h0.55M356.1 83.1h0.55M355.5 85.8h0.55M359.2 86.0h0.55M364.2 84.4h0.55M354.4 83.7h0.55M357.3 83.8h0.55M359.0 83.2h0.55M362.2 82.4h0.55M355.9 81.9h0.55M354.1 85.3h0.55M360.5 84.1h0.55M361.2 85.3h0.55M356.7 84.3h0.55M357.1 85.0h0.55M360.2 86.2h0.55M359.8 86.0h0.55M355.2 84.0h0.55M352.4 84.3h0.55M365.8 84.8h0.55M358.8 84.8h0.55M359.0 82.5h0.55M356.3 84.2h0.55M359.0 83.1h0.55M358.2 83.3h0.55M354.4 83.4h0.55M356.0 85.6h0.55M362.7 85.3h0.55M357.8 83.6h0.55M353.6 83.6h0.55M363.4 86.1h0.55M359.2 84.0h0.55M358.5 85.0h0.55M358.5 85.0h0.55M356.1 84.5h0.55M357.4 86.0h0.55M354.6 86.3h0.55M358.2 83.7h0.55M358.6 84.6h0.55M357.8 85.0h0.55M356.7 81.9h0.55M360.7 84.4h0.55M363.7 85.0h0.55M352.2 86.2h0.55M356.3 85.2h0.55M365.5 86.0h0.55M355.1 84.3h0.55M353.4 85.4h0.55M360.3 82.9h0.55M359.9 85.8h0.55M361.0 83.4h0.55M356.3 82.8h0.55M354.4 84.9h0.55M358.6 86.3h0.55M359.4 83.9h0.55M354.0 86.7h0.55M359.0 84.4h0.55M355.3 82.9h0.55M360.5 83.0h0.55M360.3 85.3h0.55M357.3 82.0h0.55M359.8 86.5h0.55M355.9 82.6h0.55M361.9 84.6h0.55M356.5 86.2h0.55M357.6 85.1h0.55M357.2 83.3h0.55M359.2 83.2h0.55M352.9 83.6h0.55M362.4 86.0h0.55M365.3 85.9h0.55M363.6 84.8h0.55M357.1 85.1h0.55M355.5 85.5h0.55M357.1 84.8h0.55M355.8 84.2h0.55M361.6 84.1h0.55M356.4 84.8h0.55M361.3 84.1h0.55M354.8 82.1h0.55M354.3 86.0h0.55M358.2 85.1h0.55M361.9 84.8h0.55M360.0 83.7h0.55M353.4 85.3h0.55M358.2 85.3h0.55M355.2 84.2h0.55M364.8 83.2h0.55M358.8 86.3h0.55M357.8 84.6h0.55M351.8 85.5h0.55M357.1 86.3h0.55M358.2 83.9h0.55M359.9 84.1h0.55M356.9 86.7h0.55M361.6 84.6h0.55M361.0 85.6h0.55M360.3 84.5h0.55M358.7 85.0h0.55M360.3 84.9h0.55M356.8 84.3h0.55M359.9 83.0h0.55M358.5 85.5h0.55M368.7 83.9h0.55M367.9 83.7h0.55M372.3 83.8h0.55M360.7 82.7h0.55M369.3 84.6h0.55M365.9 82.6h0.55M367.3 83.2h0.55M365.1 84.3h0.55M364.6 84.7h0.55M364.7 83.7h0.55M367.0 86.3h0.55M374.9 85.6h0.55M364.8 84.3h0.55M372.0 85.4h0.55M360.8 84.2h0.55M364.7 85.3h0.55M370.8 83.6h0.55M377.4 83.9h0.55M378.8 84.1h0.55M367.6 86.9h0.55M365.7 83.7h0.55M374.5 84.3h0.55M370.1 82.6h0.55M375.9 85.6h0.55M369.6 85.3h0.55M365.8 83.7h0.55M361.1 84.8h0.55M373.4 85.5h0.55M372.1 85.3h0.55M363.9 82.6h0.55M370.8 84.5h0.55M372.3 84.0h0.55M364.1 84.9h0.55M365.5 82.1h0.55M365.3 83.1h0.55M363.1 83.6h0.55M375.6 83.8h0.55M373.0 84.2h0.55M369.8 83.4h0.55M367.7 82.1h0.55M375.9 83.3h0.55M370.6 83.5h0.55M369.2 82.8h0.55M366.3 85.5h0.55M370.6 81.7h0.55M371.8 82.6h0.55M369.3 85.0h0.55M365.2 83.9h0.55M366.9 84.9h0.55M372.0 86.1h0.55M369.4 87.0h0.55M363.8 86.7h0.55M366.8 85.3h0.55M367.4 84.4h0.55M364.0 84.8h0.55M376.9 84.5h0.55M367.9 84.3h0.55M371.1 84.1h0.55M368.0 84.6h0.55M373.7 85.6h0.55M363.4 83.5h0.55M368.1 85.5h0.55M372.3 84.0h0.55M377.4 84.1h0.55M374.2 86.2h0.55M375.0 84.6h0.55M370.5 82.3h0.55M360.2 83.5h0.55M371.2 85.7h0.55M367.5 85.7h0.55M370.5 86.3h0.55M361.0 83.2h0.55M363.8 82.9h0.55M375.3 83.1h0.55M364.3 83.8h0.55M371.9 83.7h0.55M371.2 85.1h0.55M365.2 81.2h0.55M364.0 82.7h0.55M375.2 83.4h0.55M363.3 84.8h0.55M368.2 83.1h0.55M372.8 85.5h0.55M369.2 83.3h0.55M364.2 81.6h0.55M369.7 84.8h0.55M363.9 84.4h0.55M382.5 82.8h0.55M360.5 85.1h0.55M366.1 83.7h0.55M370.7 84.1h0.55M372.4 85.0h0.55M373.1 84.5h0.55M358.5 86.1h0.55M360.5 85.7h0.55M369.1 82.5h0.55M368.3 85.5h0.55M363.5 84.4h0.55M364.7 83.0h0.55M365.3 86.0h0.55M371.0 84.3h0.55M367.6 84.5h0.55M369.3 84.6h0.55M360.4 85.5h0.55M364.2 80.9h0.55M371.1 82.7h0.55M367.4 84.2h0.55M365.4 85.0h0.55M366.8 83.9h0.55M363.8 74.2h0.4M363.4 74.7h0.4M375.0 75.3h0.4M370.6 72.4h0.4M373.5 75.3h0.4M378.6 70.8h0.4M368.6 73.9h0.4M373.8 72.6h0.4M366.6 77.4h0.4M373.4 71.4h0.4M368.6 76.1h0.4M365.5 75.3h0.4M369.0 72.4h0.4M365.4 76.0h0.4M374.3 73.2h0.4M374.0 73.1h0.4M369.7 74.2h0.4M362.4 75.1h0.4M366.6 70.8h0.4M364.4 73.4h0.4M364.4 73.3h0.4M365.1 71.3h0.4M372.9 74.2h0.4M369.8 73.9h0.4M368.8 73.9h0.4M363.1 72.6h0.4M368.9 75.6h0.4M369.7 76.4h0.4M361.8 74.3h0.4M365.5 76.1h0.4M376.8 73.2h0.4M372.1 73.8h0.4M363.6 74.4h0.4M363.4 76.6h0.4M371.4 75.7h0.4M370.3 71.0h0.4M372.4 74.2h0.4M356.8 75.1h0.4M373.5 76.3h0.4M363.5 75.6h0.4M370.1 74.0h0.4M367.1 75.1h0.4M371.3 75.0h0.4M366.5 72.7h0.4M375.0 75.6h0.4M365.7 74.4h0.4M372.5 71.8h0.4M371.0 77.3h0.4M369.8 73.3h0.4M378.5 73.8h0.4M369.5 73.7h0.4M369.4 71.9h0.4M362.2 72.7h0.4M372.9 73.9h0.4M374.2 71.3h0.4M355.1 78.2h0.4M354.1 68.7h0.4M354.3 73.0h0.4M357.9 77.8h0.4M364.5 78.5h0.4M360.9 72.6h0.4M355.6 69.8h0.4M364.3 77.6h0.4M358.4 71.4h0.4M361.3 75.4h0.4M358.8 70.7h0.4M359.2 72.4h0.4" stroke="#000" stroke-width="0.55" stroke-opacity="0.8" fill="none"/>
<rect x="226.50" y="102.50" width="33.00" height="30.00" fill="#fff" stroke="#3a3a3a" stroke-width="0.55"/>
<line x1="236.5" y1="102.5" x2="236.5" y2="132.5" stroke="#444" stroke-width="0.5"/>
<line x1="226.5" y1="120.5" x2="259.5" y2="120.5" stroke="#444" stroke-width="0.5"/>
<path d="M228.56 132.5v0.7M226.5 104.38h-0.7M230.62 132.5v0.7M226.5 106.25h-0.7M232.69 132.5v0.7M226.5 108.12h-0.7M234.75 132.5v1.2M226.5 110.00h-1.2M236.81 132.5v0.7M226.5 111.88h-0.7M238.88 132.5v0.7M226.5 113.75h-0.7M240.94 132.5v0.7M226.5 115.62h-0.7M243.00 132.5v1.2M226.5 117.50h-1.2M245.06 132.5v0.7M226.5 119.38h-0.7M247.12 132.5v0.7M226.5 121.25h-0.7M249.19 132.5v0.7M226.5 123.12h-0.7M251.25 132.5v1.2M226.5 125.00h-1.2M253.31 132.5v0.7M226.5 126.88h-0.7M255.38 132.5v0.7M226.5 128.75h-0.7M257.44 132.5v0.7M226.5 130.62h-0.7" stroke="#555" stroke-width="0.35" fill="none"/>
<text x="225.3" y="104.1" font-size="3.0" font-weight="bold" text-anchor="end" fill="#333">10<tspan font-size="2.2" baseline-shift="super">4</tspan></text>
<text x="225.3" y="132.3" font-size="3.0" font-weight="bold" text-anchor="end" fill="#333">10<tspan font-size="2.2" baseline-shift="super">0</tspan></text>
<text x="227.1" y="136.1" font-size="3.0" font-weight="bold" text-anchor="middle" fill="#333">10<tspan font-size="2.2" baseline-shift="super">0</tspan></text>
<text x="259.7" y="136.1" font-size="3.0" font-weight="bold" text-anchor="middle" fill="#333">10<tspan font-size="2.2" baseline-shift="super">4</tspan></text>
<path d="M248.4 128.3h0.55M248.2 125.6h0.55M249.1 128.8h0.55M248.9 129.0h0.55M248.4 127.8h0.55M246.9 121.8h0.55M247.0 128.4h0.55M248.6 127.2h0.55M247.9 131.6h0.55M247.5 121.9h0.55M246.5 125.8h0.55M248.4 128.7h0.55M247.6 128.9h0.55M247.8 124.8h0.55M247.5 128.7h0.55M248.6 123.7h0.55M247.0 127.0h0.55M249.6 123.6h0.55M246.8 127.8h0.55M248.2 125.1h0.55M247.8 128.0h0.55M246.3 126.6h0.55M248.3 129.2h0.55M248.8 126.5h0.55M246.6 130.3h0.55M248.4 125.0h0.55M248.7 129.5h0.55M247.7 120.4h0.55M247.4 124.7h0.55M247.1 126.5h0.55M246.9 127.7h0.55M249.4 123.5h0.55M248.7 125.3h0.55M248.3 126.4h0.55M248.9 124.8h0.55M248.4 124.6h0.55M248.0 126.7h0.55M248.7 122.5h0.55M246.7 130.4h0.55M248.1 131.3h0.55M246.9 127.3h0.55M248.3 131.4h0.55M247.8 125.5h0.55M248.4 126.4h0.55M247.2 128.7h0.55M246.2 124.0h0.55M248.9 125.4h0.55M247.5 127.7h0.55M248.7 128.1h0.55M247.0 125.2h0.55M248.7 126.4h0.55M247.3 129.0h0.55M246.9 124.8h0.55M247.2 127.7h0.55M247.4 129.7h0.55M245.6 129.3h0.55M247.3 126.0h0.55M248.3 127.2h0.55M247.0 130.7h0.55M248.3 125.4h0.55M248.0 123.7h0.55M246.8 125.9h0.55M248.1 127.0h0.55M247.2 123.0h0.55M246.4 131.0h0.55M248.1 124.6h0.55M248.8 128.2h0.55M247.5 125.1h0.55M248.7 127.6h0.55M249.2 127.7h0.55M247.3 125.1h0.55M247.2 127.4h0.55M248.0 128.3h0.55M248.2 123.9h0.55M247.6 124.2h0.55M248.2 123.2h0.55M247.3 124.4h0.55M247.3 126.0h0.55M249.1 126.0h0.55M246.6 125.9h0.55M248.4 128.2h0.55M248.7 126.9h0.55M248.8 123.1h0.55M247.7 124.4h0.55M247.9 131.0h0.55M247.4 131.0h0.55M247.0 130.5h0.55M246.4 124.4h0.55M248.6 126.5h0.55M247.9 126.7h0.55M247.9 126.2h0.55M247.0 125.9h0.55M247.9 124.3h0.55M248.2 131.4h0.55M246.4 125.2h0.55M247.6 126.8h0.55M247.9 124.8h0.55M247.8 126.7h0.55M247.7 130.8h0.55M247.9 122.7h0.55M246.5 128.3h0.55M247.5 125.0h0.55M246.7 125.9h0.55M247.7 124.9h0.55M247.5 129.1h0.55M248.4 128.2h0.55M247.7 123.1h0.55M248.4 130.7h0.55M248.9 129.8h0.55M248.0 127.7h0.55M247.8 130.1h0.55M248.4 125.8h0.55M247.8 122.4h0.55M247.2 125.9h0.55M249.8 124.5h0.55M248.6 126.9h0.55M247.6 128.4h0.55M246.2 129.2h0.55M249.4 127.5h0.55M247.7 127.1h0.55M248.3 125.4h0.55M247.9 128.1h0.55M247.5 127.7h0.55M248.1 128.6h0.55M247.0 125.3h0.55M247.4 129.9h0.55M248.0 122.3h0.55M246.7 131.9h0.55M248.1 123.2h0.55M247.0 127.1h0.55M249.0 131.1h0.55M247.5 125.9h0.55M249.4 124.1h0.55M249.1 127.6h0.55M247.9 130.2h0.55M248.2 124.5h0.55M246.5 126.7h0.55M248.2 130.4h0.55M245.6 130.3h0.55M248.3 130.8h0.55M248.5 127.3h0.55M248.2 127.8h0.55M247.3 126.4h0.55M247.9 125.5h0.55M246.6 122.8h0.55M248.2 128.1h0.55M247.9 123.6h0.55M248.5 125.6h0.55M246.1 130.9h0.55M248.2 125.5h0.55M245.9 124.8h0.55M249.0 130.4h0.55M248.0 122.1h0.55M247.5 125.9h0.55M248.2 126.4h0.55M248.1 122.3h0.55M247.3 130.6h0.55M246.6 129.2h0.55M249.7 128.5h0.55M246.7 130.1h0.55M246.3 127.6h0.55M247.5 130.0h0.55M248.8 127.2h0.55M249.3 129.3h0.55M247.4 124.1h0.55M249.8 125.6h0.55M248.1 126.4h0.55M247.4 122.4h0.55M247.7 126.4h0.55M248.6 125.3h0.55M246.5 123.8h0.55M247.8 127.4h0.55M248.4 125.7h0.55M248.2 127.1h0.55M249.2 126.6h0.55M247.9 128.2h0.55M248.8 124.2h0.55M247.4 126.0h0.55M246.0 130.2h0.55M248.7 126.8h0.55M250.6 130.1h0.55M249.5 130.9h0.55M248.5 122.9h0.55M249.1 127.8h0.55M246.8 126.8h0.55M248.4 129.4h0.55M247.9 125.3h0.55M248.4 124.6h0.55M247.7 128.8h0.55M246.6 127.7h0.55M246.2 124.2h0.55M246.8 126.5h0.55M248.4 126.6h0.55M248.6 127.0h0.55M247.6 128.0h0.55M247.6 127.1h0.55M248.7 125.2h0.55M248.8 123.7h0.55M247.6 122.0h0.55M247.4 131.0h0.55M248.1 130.1h0.55M246.6 124.0h0.55M248.2 128.9h0.55M248.5 122.2h0.55M248.2 126.5h0.55M247.9 128.0h0.55M247.6 122.1h0.55M246.9 122.8h0.55M246.7 126.3h0.55M248.9 124.8h0.55M247.2 123.6h0.55M246.4 126.9h0.55M247.4 126.1h0.55M247.0 128.0h0.55M246.8 128.2h0.55M247.3 128.8h0.55M247.1 127.9h0.55M248.2 126.5h0.55M249.2 127.2h0.55M247.1 128.6h0.55M247.1 125.2h0.55M247.8 127.2h0.55M249.2 122.0h0.55M247.6 129.8h0.55M247.7 127.6h0.55M249.1 123.4h0.55M247.8 128.8h0.55M247.3 122.0h0.55M247.0 127.2h0.55M248.0 131.7h0.55M248.9 122.5h0.55M248.7 129.2h0.55M249.1 126.3h0.55M247.3 127.1h0.55M249.1 128.4h0.55M249.2 128.8h0.55M247.3 124.0h0.55M249.3 122.6h0.55M247.5 125.8h0.55M247.0 125.2h0.55M247.7 125.3h0.55M247.9 129.2h0.55M247.1 125.6h0.55M246.4 128.6h0.55M248.4 130.8h0.55M248.5 126.0h0.55M247.5 125.9h0.55M246.8 128.8h0.55M247.3 124.7h0.55M248.2 127.0h0.55M247.3 126.1h0.55M247.4 130.3h0.55M248.6 124.7h0.55M247.8 130.4h0.55M247.6 131.5h0.55M248.2 128.5h0.55M246.1 129.0h0.55M248.1 128.3h0.55M248.2 128.1h0.55M247.4 129.1h0.55M247.9 123.9h0.55M247.0 127.1h0.55M248.1 120.7h0.55M246.1 129.5h0.55M246.5 126.0h0.55M247.3 128.2h0.55M249.0 131.1h0.55M247.0 130.0h0.55M246.8 127.5h0.55M247.9 128.4h0.55M247.1 130.3h0.55M247.7 126.6h0.55M247.6 123.8h0.55M248.4 127.6h0.55M248.2 131.8h0.55M247.1 125.9h0.55M247.8 129.0h0.55M247.7 129.2h0.55M248.2 121.9h0.55M247.2 121.2h0.55M247.6 125.6h0.55M248.3 127.2h0.55M247.7 130.1h0.55M248.3 123.4h0.55M247.2 127.6h0.55M249.2 126.2h0.55M247.7 127.4h0.55M248.4 126.5h0.55M248.0 125.6h0.55M247.3 124.5h0.55M248.3 125.2h0.55M248.3 127.8h0.55M248.6 119.4h0.55M247.0 123.4h0.55M247.7 128.9h0.55M249.9 130.9h0.55M248.9 127.7h0.55M247.5 128.2h0.55M246.0 129.2h0.55M247.8 128.4h0.55M246.9 123.7h0.55M247.3 126.6h0.55M248.1 125.7h0.55M248.1 128.6h0.55M246.8 126.4h0.55M246.5 125.2h0.55M248.6 124.8h0.55M249.3 128.1h0.55M248.5 127.0h0.55M248.5 129.7h0.55M247.9 125.3h0.55M247.3 132.0h0.55M247.6 125.5h0.55M247.2 122.1h0.55M247.4 127.6h0.55M247.4 124.6h0.55M248.1 128.0h0.55M247.4 127.5h0.55M247.0 129.0h0.55M247.0 125.8h0.55M247.9 125.6h0.55M249.1 122.0h0.55M248.0 124.4h0.55M248.2 124.3h0.55M248.6 130.5h0.55M247.2 131.9h0.55M247.2 128.3h0.55M247.1 122.7h0.55M248.6 121.8h0.55M247.5 130.5h0.55M248.0 123.3h0.55M246.9 131.0h0.55M245.3 130.3h0.55M247.1 131.3h0.55M245.5 128.2h0.55M248.8 126.5h0.55M247.3 125.4h0.55M249.3 124.2h0.55M246.6 127.6h0.55M248.2 125.9h0.55M248.6 129.9h0.55M248.2 128.5h0.55M248.4 124.7h0.55M246.2 127.2h0.55M246.3 131.1h0.55M248.4 129.9h0.55M246.9 124.3h0.55M248.6 123.7h0.55M248.2 128.2h0.55M248.8 128.9h0.55M247.9 126.7h0.55M245.4 127.5h0.55M249.7 125.3h0.55M246.5 131.1h0.55M248.2 123.5h0.55M245.8 115.5h0.45M246.2 119.5h0.45M247.1 112.3h0.45M245.9 113.2h0.45M245.1 113.8h0.45M249.5 115.4h0.45M247.3 111.9h0.45M247.8 113.8h0.45M246.7 118.9h0.45M247.9 112.7h0.45M248.9 115.0h0.45M248.0 115.5h0.45M248.6 116.8h0.45M247.2 117.1h0.45M247.1 115.5h0.45M249.0 112.2h0.45M246.5 114.0h0.45M247.0 118.7h0.45M246.0 121.4h0.45M249.0 113.9h0.45M247.7 114.1h0.45M248.1 116.9h0.45M248.2 117.2h0.45M249.3 114.6h0.45M248.2 114.6h0.45M247.5 115.7h0.45M247.5 116.0h0.45M246.7 114.7h0.45M246.9 111.9h0.45M246.8 113.7h0.45M247.4 110.8h0.45M247.3 112.0h0.45M246.7 115.6h0.45M248.5 115.9h0.45M247.0 113.9h0.45M248.7 110.7h0.45M248.6 111.0h0.45M246.9 115.2h0.45M247.3 119.6h0.45M248.0 115.0h0.45M248.4 115.2h0.45M246.8 118.2h0.45M248.9 118.6h0.45M246.4 120.3h0.45M247.1 117.2h0.45M248.6 121.6h0.45M246.0 112.3h0.45M248.6 116.5h0.45M247.2 107.1h0.45M247.9 114.6h0.45M245.1 122.4h0.45M245.2 113.6h0.45M247.5 115.7h0.45M248.2 114.4h0.45M246.7 114.1h0.45M245.5 112.0h0.45M249.3 113.2h0.45M247.4 120.3h0.45M248.5 115.4h0.45M248.2 114.4h0.45M246.7 117.8h0.45M247.6 119.5h0.45M247.3 114.1h0.45M247.8 114.6h0.45M247.2 112.7h0.45M247.7 116.0h0.45M249.2 115.0h0.45M245.9 116.4h0.45M249.6 113.9h0.45M246.8 114.6h0.45M244.8 114.2h0.45M247.3 111.0h0.45M248.0 112.7h0.45M245.8 113.1h0.45M248.1 120.4h0.45M248.7 115.6h0.45M247.0 114.4h0.45M248.4 113.7h0.45M247.9 117.7h0.45M246.7 113.5h0.45M247.9 115.1h0.45M247.4 113.7h0.45M247.4 120.2h0.45M248.8 110.7h0.45M247.5 115.4h0.45M247.5 111.3h0.45M247.4 115.5h0.45M246.9 116.0h0.45M245.2 111.0h0.45M247.6 116.2h0.45M247.3 113.8h0.45M247.7 118.1h0.45M248.3 114.9h0.45M247.1 118.0h0.45M248.0 117.5h0.45M247.2 112.7h0.45M247.7 113.4h0.45M248.6 117.4h0.45M245.5 116.9h0.45M248.7 117.9h0.45M247.1 112.7h0.45M248.4 117.9h0.45M247.6 111.9h0.45M246.1 115.8h0.45M246.7 113.2h0.45M247.9 118.0h0.45M245.6 113.3h0.45M248.7 115.0h0.45M247.2 116.9h0.45M246.4 111.7h0.45M247.5 119.4h0.45M248.4 115.1h0.45M248.4 114.0h0.45M246.4 110.5h0.45M247.8 117.6h0.45M247.8 115.0h0.45M247.1 118.1h0.45M247.5 111.2h0.45M248.8 113.3h0.45M247.9 115.1h0.45M248.5 115.8h0.45M248.6 115.7h0.45M247.1 113.7h0.45M248.1 112.8h0.45M248.4 114.4h0.45M246.6 112.7h0.45M247.4 120.0h0.45M248.2 115.2h0.45M246.7 120.3h0.45M247.2 115.1h0.45M247.1 122.5h0.4M248.4 114.6h0.4M248.4 112.2h0.4M245.7 115.9h0.4M241.8 121.8h0.4M252.3 111.7h0.4M247.7 109.6h0.4M248.4 117.5h0.4M249.6 110.7h0.4M246.7 113.7h0.4M247.5 126.7h0.4M247.6 116.4h0.4M246.9 120.1h0.4M253.5 121.7h0.4" stroke="#000" stroke-width="0.55" stroke-opacity="0.8" fill="none"/>
<rect x="288.50" y="102.50" width="33.00" height="30.00" fill="#fff" stroke="#3a3a3a" stroke-width="0.55"/>
<line x1="299.5" y1="102.5" x2="299.5" y2="132.5" stroke="#444" stroke-width="0.5"/>
<line x1="288.5" y1="123.5" x2="321.5" y2="123.5" stroke="#444" stroke-width="0.5"/>
<path d="M290.56 132.5v0.7M288.5 104.38h-0.7M292.62 132.5v0.7M288.5 106.25h-0.7M294.69 132.5v0.7M288.5 108.12h-0.7M296.75 132.5v1.2M288.5 110.00h-1.2M298.81 132.5v0.7M288.5 111.88h-0.7M300.88 132.5v0.7M288.5 113.75h-0.7M302.94 132.5v0.7M288.5 115.62h-0.7M305.00 132.5v1.2M288.5 117.50h-1.2M307.06 132.5v0.7M288.5 119.38h-0.7M309.12 132.5v0.7M288.5 121.25h-0.7M311.19 132.5v0.7M288.5 123.12h-0.7M313.25 132.5v1.2M288.5 125.00h-1.2M315.31 132.5v0.7M288.5 126.88h-0.7M317.38 132.5v0.7M288.5 128.75h-0.7M319.44 132.5v0.7M288.5 130.62h-0.7" stroke="#555" stroke-width="0.35" fill="none"/>
<text x="287.3" y="104.1" font-size="3.0" font-weight="bold" text-anchor="end" fill="#333">10<tspan font-size="2.2" baseline-shift="super">4</tspan></text>
<text x="287.3" y="132.3" font-size="3.0" font-weight="bold" text-anchor="end" fill="#333">10<tspan font-size="2.2" baseline-shift="super">0</tspan></text>
<text x="289.1" y="136.1" font-size="3.0" font-weight="bold" text-anchor="middle" fill="#333">10<tspan font-size="2.2" baseline-shift="super">0</tspan></text>
<text x="321.7" y="136.1" font-size="3.0" font-weight="bold" text-anchor="middle" fill="#333">10<tspan font-size="2.2" baseline-shift="super">4</tspan></text>
<path d="M308.7 127.7h0.55M308.2 128.8h0.55M308.4 129.9h0.55M307.7 127.1h0.55M307.2 128.3h0.55M307.5 128.8h0.55M308.2 127.1h0.55M306.2 128.7h0.55M307.4 128.4h0.55M307.0 128.9h0.55M308.2 128.7h0.55M307.3 126.9h0.55M304.0 127.3h0.55M307.4 126.4h0.55M307.5 128.7h0.55M307.0 128.0h0.55M306.5 129.7h0.55M307.4 128.8h0.55M306.4 129.0h0.55M308.3 128.8h0.55M306.6 127.6h0.55M307.1 127.9h0.55M305.4 129.7h0.55M306.3 126.7h0.55M306.2 130.7h0.55M306.9 127.4h0.55M305.8 129.5h0.55M307.5 129.0h0.55M306.8 129.3h0.55M308.7 129.3h0.55M306.8 127.4h0.55M307.5 130.4h0.55M307.7 127.5h0.55M307.2 130.1h0.55M306.3 129.3h0.55M308.4 130.5h0.55M305.2 127.0h0.55M307.4 129.5h0.55M306.6 128.8h0.55M306.5 130.0h0.55M304.5 129.1h0.55M305.6 128.1h0.55M305.3 127.9h0.55M307.0 128.8h0.55M309.0 128.6h0.55M307.4 129.2h0.55M307.3 130.3h0.55M307.2 129.0h0.55M306.9 128.8h0.55M306.9 129.8h0.55M307.0 128.9h0.55M306.9 129.6h0.55M306.5 129.8h0.55M306.4 129.5h0.55M309.2 129.0h0.55M306.9 127.6h0.55M307.8 128.8h0.55M308.0 128.1h0.55M307.6 130.7h0.55M307.5 128.5h0.55M305.5 128.8h0.55M307.7 129.4h0.55M305.7 127.7h0.55M305.9 127.7h0.55M306.7 129.1h0.55M309.2 129.0h0.55M308.6 127.1h0.55M308.7 129.6h0.55M307.5 129.7h0.55M307.7 130.8h0.55M307.9 127.0h0.55M305.0 130.5h0.55M306.9 130.2h0.55M306.6 128.1h0.55M306.6 129.1h0.55M307.2 128.2h0.55M307.6 129.4h0.55M306.0 127.6h0.55M304.8 128.5h0.55M307.0 128.1h0.55M306.3 128.7h0.55M307.0 129.4h0.55M307.9 129.3h0.55M308.3 127.8h0.55M307.7 129.2h0.55M305.8 128.1h0.55M307.5 128.9h0.55M305.6 128.2h0.55M308.7 129.7h0.55M307.1 130.2h0.55M306.0 128.6h0.55M308.1 128.5h0.55M305.7 129.4h0.55M308.8 126.2h0.55M307.2 127.5h0.55M306.7 127.3h0.55M310.0 128.1h0.55M307.1 128.1h0.55M305.9 128.3h0.55M307.2 130.6h0.55M307.3 130.4h0.55M305.8 128.9h0.55M306.5 127.2h0.55M311.2 128.5h0.55M307.3 128.0h0.55M306.3 127.7h0.55M308.2 128.4h0.55M306.8 129.0h0.55M305.6 129.0h0.55M306.8 129.3h0.55M306.6 128.8h0.55M307.6 129.8h0.55M306.2 129.8h0.55M305.9 128.6h0.55M307.1 129.0h0.55M304.2 127.8h0.55M306.8 129.8h0.55M306.2 130.4h0.55M305.0 128.9h0.55M307.6 128.8h0.55M307.3 129.8h0.55M306.1 129.4h0.55M308.2 128.6h0.55M304.4 127.6h0.55M306.0 127.7h0.55M307.5 128.0h0.55M309.8 129.4h0.55M305.5 128.5h0.55M308.7 129.5h0.55M305.8 129.9h0.55M306.5 131.1h0.55M306.4 129.4h0.55M307.6 128.3h0.55M306.8 130.0h0.55M307.6 128.7h0.55M307.5 130.6h0.55M308.1 129.3h0.55M307.4 127.2h0.55M307.2 128.3h0.55M307.8 128.2h0.55M307.5 127.7h0.55M308.0 128.0h0.55M307.0 129.4h0.55M306.6 128.8h0.55M308.2 130.6h0.55M304.9 127.9h0.55M307.8 129.8h0.55M306.5 128.9h0.55M306.8 131.2h0.55M306.8 127.6h0.55M305.2 127.5h0.55M308.5 128.4h0.55M309.2 129.5h0.55M307.4 129.5h0.55M307.9 129.8h0.55M305.9 128.2h0.55M306.4 128.9h0.55M306.7 127.5h0.55M306.2 130.7h0.55M309.4 127.9h0.55M307.4 128.8h0.55M306.0 129.5h0.55M306.9 130.5h0.55M307.5 128.5h0.55M304.0 128.7h0.55M308.0 128.1h0.55M308.0 129.5h0.55M305.0 128.6h0.55M307.4 129.6h0.55M307.2 128.8h0.55M306.6 128.5h0.55M307.0 127.7h0.55M307.7 128.5h0.55M307.6 128.3h0.55M307.5 128.9h0.55M308.0 129.3h0.55M308.1 128.6h0.55M306.9 128.5h0.55M305.6 128.7h0.55M308.2 129.6h0.55M306.0 129.1h0.55M307.9 127.4h0.55M307.4 129.1h0.55M307.9 129.1h0.55M305.0 126.7h0.55M309.3 128.4h0.55M308.4 130.1h0.55M307.1 127.6h0.55M308.6 128.8h0.55M307.6 129.3h0.55M308.1 129.8h0.55M305.4 127.3h0.55M307.2 128.8h0.55M307.9 128.7h0.55M306.8 130.9h0.55M308.6 130.0h0.55M308.2 128.0h0.55M306.9 128.7h0.55M305.8 127.9h0.55M307.2 127.5h0.55M307.6 129.3h0.55M306.7 128.4h0.55M307.7 129.3h0.55M307.4 127.5h0.55M305.2 130.9h0.55M306.3 128.4h0.55M304.9 128.0h0.55M306.2 129.6h0.55M304.0 127.4h0.55M306.5 128.3h0.55M306.1 128.3h0.55M305.2 129.1h0.55M308.4 129.0h0.55M306.4 130.1h0.55M307.6 127.7h0.55M306.3 128.2h0.55M306.9 130.1h0.55M306.2 128.6h0.55M307.1 127.6h0.55M306.5 129.4h0.55M308.3 126.9h0.55M307.8 128.5h0.55M308.5 129.4h0.55M309.2 129.1h0.55M306.6 127.9h0.55M305.4 129.4h0.55M307.6 129.6h0.55M307.4 127.3h0.55M306.5 128.5h0.55M307.2 129.6h0.55M308.6 129.1h0.55M304.7 127.7h0.55M304.6 128.0h0.55M305.6 129.0h0.55M306.7 130.0h0.55M308.2 128.3h0.55M308.1 128.8h0.55M307.5 130.2h0.55M305.7 128.7h0.55M308.7 128.0h0.55M307.2 128.9h0.55M306.5 127.5h0.55M306.2 127.8h0.55M308.2 129.1h0.55M307.8 127.6h0.55M307.6 128.9h0.55M308.2 128.1h0.55M307.9 130.2h0.55M309.0 127.8h0.55M305.7 127.3h0.55M308.1 129.4h0.55M307.4 127.9h0.55M308.4 130.5h0.55M307.0 128.7h0.55M308.4 129.3h0.55M308.5 128.4h0.55M307.4 128.5h0.55M306.4 128.5h0.55M306.7 129.3h0.55M306.7 128.9h0.55M306.1 127.5h0.55M308.6 127.8h0.55M309.1 129.8h0.55M304.4 128.1h0.55M306.5 128.8h0.55M306.8 128.2h0.55M308.4 128.7h0.55M308.1 128.1h0.55M306.2 130.2h0.55M306.7 127.7h0.55M306.8 129.9h0.55M306.8 128.1h0.55M307.7 129.8h0.55M306.8 128.5h0.55M306.6 131.6h0.55M306.8 130.6h0.55M306.8 129.2h0.55M304.7 129.0h0.55M307.1 128.5h0.55M306.5 127.4h0.55M305.3 129.0h0.55M306.3 128.7h0.55M306.8 128.3h0.55M306.2 130.7h0.55M305.7 128.3h0.55M306.7 127.6h0.55M305.9 129.7h0.55M308.1 128.9h0.55M310.7 129.7h0.55M308.4 128.0h0.55M308.2 130.5h0.55M306.6 130.7h0.55M306.1 127.6h0.55M307.0 128.0h0.55M307.7 127.7h0.55M307.1 126.8h0.55M307.0 129.9h0.55M306.7 129.1h0.55M308.2 127.7h0.55M305.6 128.9h0.55M307.3 128.5h0.55M305.9 130.0h0.55M305.7 128.5h0.55M307.0 129.5h0.55M306.5 128.0h0.55M309.3 127.9h0.55M307.9 128.6h0.55M306.5 128.8h0.55M306.7 129.1h0.55M304.1 128.8h0.55M307.1 127.8h0.55M306.6 131.2h0.55M309.1 129.5h0.55M307.3 128.5h0.55M308.6 128.3h0.55M306.1 129.5h0.55M305.9 128.0h0.55M308.6 127.2h0.55M306.9 128.9h0.55M307.3 127.3h0.55M306.7 128.5h0.55M309.2 129.8h0.55M306.1 129.7h0.55M307.7 128.7h0.55M306.7 128.5h0.55M305.3 128.2h0.55M308.1 130.3h0.55M309.1 128.4h0.55M307.7 126.3h0.55M306.7 127.5h0.55M309.5 126.1h0.4M305.0 127.0h0.4M308.4 130.0h0.4M305.3 131.5h0.4M307.9 127.4h0.4M308.3 128.7h0.4M309.5 129.2h0.4M312.7 130.5h0.4M306.0 129.9h0.4M309.3 127.1h0.4M305.7 127.4h0.4M301.7 129.7h0.4M307.0 130.6h0.4M306.2 128.8h0.4M309.2 130.2h0.4M308.3 127.1h0.4M312.7 130.1h0.4M310.7 131.2h0.4M310.8 129.3h0.4M308.6 129.7h0.4M304.0 130.0h0.4M305.2 129.4h0.4M305.1 129.8h0.4M308.0 129.5h0.4M305.4 128.3h0.4M307.4 128.3h0.4M306.5 127.3h0.4M309.3 128.1h0.4M305.6 129.3h0.4M305.6 118.8h0.55M306.1 118.1h0.55M306.5 118.2h0.55M305.0 119.3h0.55M306.4 117.6h0.55M306.2 119.2h0.55M307.4 119.4h0.55M307.2 119.6h0.55M306.1 118.2h0.55M307.7 118.6h0.55M306.8 119.6h0.55M308.2 120.2h0.55M305.8 118.6h0.55M307.6 117.6h0.55M305.0 119.6h0.55M305.9 118.1h0.55M308.0 119.5h0.55M308.2 118.7h0.55M306.4 118.7h0.55M307.3 117.0h0.55M305.8 119.7h0.55M305.7 118.9h0.55M307.0 119.5h0.55M306.1 117.9h0.55M310.5 118.3h0.55M309.3 117.3h0.55M307.0 118.8h0.55M309.6 121.0h0.55M308.3 118.0h0.55M305.6 118.3h0.55M306.1 119.3h0.55M305.7 118.8h0.55M309.0 120.4h0.55M304.1 118.1h0.55M306.3 120.3h0.55M306.3 120.9h0.55M307.4 120.4h0.55M305.5 118.7h0.55M308.3 119.6h0.55M304.1 118.7h0.55M307.1 119.6h0.55M305.9 120.7h0.55M307.0 120.4h0.55M307.4 119.1h0.55M306.3 117.9h0.55M308.1 119.7h0.55M308.2 118.6h0.55M305.3 118.6h0.55M306.4 119.0h0.55M308.3 118.1h0.55M306.1 119.7h0.55M308.1 121.1h0.55M307.6 118.2h0.55M305.3 118.2h0.55M306.9 119.2h0.55M306.7 118.4h0.55M306.5 118.9h0.55M307.7 119.1h0.55M305.6 117.9h0.55M309.0 118.9h0.55M306.6 119.0h0.55M308.5 118.7h0.55M307.1 118.8h0.55M307.7 118.0h0.55M307.1 120.0h0.55M308.6 119.6h0.55M307.3 120.5h0.55M307.9 120.4h0.55M305.1 117.9h0.55M308.0 118.7h0.55M306.2 118.1h0.55M309.0 117.8h0.55M307.0 117.7h0.55M306.6 121.2h0.55M310.4 118.5h0.55M305.3 120.6h0.55M305.6 117.3h0.55M307.3 118.0h0.55M304.7 120.1h0.55M305.7 118.0h0.55M307.1 118.8h0.55M308.5 119.1h0.55M309.2 120.1h0.55M309.4 120.1h0.55M306.9 119.5h0.55M306.9 117.5h0.55M305.1 119.7h0.55M303.3 118.2h0.55M304.9 118.9h0.55M305.3 119.2h0.55M306.5 118.5h0.55M305.6 116.9h0.55M306.9 117.8h0.55M306.4 119.4h0.55M308.4 119.7h0.55M309.0 117.6h0.55M307.8 120.5h0.55M307.4 117.9h0.55M307.4 118.5h0.55M305.9 120.0h0.55M306.6 117.9h0.55M305.8 120.9h0.55M305.6 119.7h0.55M307.1 120.1h0.55M306.4 118.1h0.55M305.9 118.0h0.55M310.6 119.2h0.55M306.4 120.2h0.55M307.8 118.8h0.55M307.7 119.3h0.55M308.5 120.6h0.55M306.4 119.0h0.55M306.6 120.2h0.55M307.4 119.8h0.55M308.1 118.4h0.55M307.0 120.3h0.55M308.2 119.8h0.55M306.4 118.7h0.55M305.6 118.7h0.55M306.7 117.6h0.55M311.5 117.1h0.4M308.8 119.8h0.4M306.4 115.1h0.4M310.9 119.4h0.4M307.3 120.8h0.4M310.7 116.8h0.4" stroke="#000" stroke-width="0.55" stroke-opacity="0.8" fill="none"/>
<rect x="350.50" y="102.50" width="34.00" height="30.00" fill="#fff" stroke="#3a3a3a" stroke-width="0.55"/>
<line x1="361.5" y1="102.5" x2="361.5" y2="132.5" stroke="#444" stroke-width="0.5"/>
<line x1="350.5" y1="123.5" x2="384.5" y2="123.5" stroke="#444" stroke-width="0.5"/>
<path d="M352.62 132.5v0.7M350.5 104.38h-0.7M354.75 132.5v0.7M350.5 106.25h-0.7M356.88 132.5v0.7M350.5 108.12h-0.7M359.00 132.5v1.2M350.5 110.00h-1.2M361.12 132.5v0.7M350.5 111.88h-0.7M363.25 132.5v0.7M350.5 113.75h-0.7M365.38 132.5v0.7M350.5 115.62h-0.7M367.50 132.5v1.2M350.5 117.50h-1.2M369.62 132.5v0.7M350.5 119.38h-0.7M371.75 132.5v0.7M350.5 121.25h-0.7M373.88 132.5v0.7M350.5 123.12h-0.7M376.00 132.5v1.2M350.5 125.00h-1.2M378.12 132.5v0.7M350.5 126.88h-0.7M380.25 132.5v0.7M350.5 128.75h-0.7M382.38 132.5v0.7M350.5 130.62h-0.7" stroke="#555" stroke-width="0.35" fill="none"/>
<text x="349.3" y="104.1" font-size="3.0" font-weight="bold" text-anchor="end" fill="#333">10<tspan font-size="2.2" baseline-shift="super">4</tspan></text>
<text x="349.3" y="132.3" font-size="3.0" font-weight="bold" text-anchor="end" fill="#333">10<tspan font-size="2.2" baseline-shift="super">0</tspan></text>
<text x="351.1" y="136.1" font-size="3.0" font-weight="bold" text-anchor="middle" fill="#333">10<tspan font-size="2.2" baseline-shift="super">0</tspan></text>
<text x="384.7" y="136.1" font-size="3.0" font-weight="bold" text-anchor="middle" fill="#333">10<tspan font-size="2.2" baseline-shift="super">4</tspan></text>
<path d="M354.9 126.9h0.55M354.4 131.2h0.55M353.1 130.4h0.55M351.5 128.9h0.55M357.2 131.6h0.55M356.1 130.3h0.55M359.1 126.0h0.55M351.0 131.9h0.55M360.8 130.1h0.55M355.2 129.7h0.55M355.1 128.5h0.55M355.0 129.1h0.55M356.6 130.2h0.55M357.3 130.1h0.55M352.8 131.2h0.55M355.8 128.6h0.55M359.4 127.8h0.55M352.3 128.6h0.55M356.0 130.4h0.55M355.3 130.2h0.55M353.4 128.5h0.55M355.3 127.5h0.55M355.5 128.8h0.55M356.6 127.9h0.55M353.8 128.5h0.55M354.2 128.0h0.55M354.4 127.5h0.55M356.3 130.2h0.55M355.0 129.0h0.55M353.0 128.0h0.55M354.5 128.1h0.55M352.3 129.5h0.55M355.0 128.8h0.55M353.1 129.2h0.55M353.4 128.7h0.55M355.5 130.3h0.55M356.8 128.5h0.55M357.9 127.7h0.55M354.6 131.1h0.55M360.6 129.5h0.55M354.2 128.8h0.55M352.2 129.1h0.55M354.1 128.3h0.55M357.8 128.3h0.55M359.0 130.4h0.55M356.5 128.5h0.55M353.9 126.6h0.55M355.7 128.9h0.55M355.9 128.4h0.55M356.2 127.3h0.55M357.5 125.0h0.55M358.0 128.8h0.55M354.7 127.2h0.55M352.7 130.3h0.55M353.3 129.3h0.55M354.7 132.0h0.55M357.1 127.5h0.55M353.9 127.8h0.55M351.8 128.4h0.55M357.6 129.4h0.55M356.6 129.1h0.55M354.1 129.4h0.55M354.9 131.9h0.55M359.2 129.8h0.55M356.4 126.6h0.55M353.2 130.4h0.55M357.9 128.8h0.55M354.5 128.7h0.55M356.9 129.3h0.55M358.5 130.9h0.55M354.3 128.5h0.55M354.5 128.1h0.55M354.1 129.2h0.55M357.1 127.2h0.55M351.8 128.3h0.55M354.3 129.9h0.55M353.2 131.3h0.55M353.8 129.0h0.55M355.2 130.9h0.55M355.7 129.3h0.55M353.8 129.5h0.55M356.0 128.8h0.55M355.0 126.8h0.55M353.8 130.9h0.55M358.3 129.2h0.55M354.1 130.7h0.55M353.6 131.2h0.55M357.7 127.9h0.55M354.5 127.7h0.55M355.7 128.8h0.55M351.6 127.9h0.55M355.6 127.2h0.55M357.5 129.9h0.55M354.6 131.2h0.55M352.9 130.2h0.55M351.9 128.9h0.55M356.5 128.6h0.55M354.8 130.2h0.55M358.6 131.1h0.55M356.1 128.9h0.55M351.7 131.6h0.55M359.4 126.4h0.55M357.0 129.2h0.55M356.7 129.7h0.55M354.6 129.3h0.55M354.9 130.9h0.55M354.4 128.6h0.55M356.5 130.2h0.55M356.0 129.7h0.55M358.4 130.8h0.55M355.5 129.0h0.55M356.6 126.8h0.55M353.8 128.3h0.55M355.4 128.8h0.55M360.7 130.3h0.55M355.0 128.9h0.55M357.9 130.4h0.55M357.2 130.9h0.55M354.2 128.4h0.55M353.4 129.4h0.55M357.3 127.9h0.55M353.8 127.5h0.55M359.6 130.4h0.55M355.5 127.6h0.55M352.6 128.4h0.55M355.1 127.6h0.55M354.5 131.0h0.55M355.1 129.4h0.55M354.7 128.4h0.55M351.8 129.2h0.55M352.7 128.6h0.55M351.3 129.2h0.55M357.1 128.2h0.55M355.8 127.2h0.55M356.4 130.0h0.55M354.1 130.5h0.55M353.0 129.4h0.55M358.9 129.3h0.55M352.4 130.9h0.55M356.3 128.9h0.55M351.5 131.3h0.55M355.7 128.1h0.55M357.7 131.3h0.55M353.1 130.0h0.55M351.2 129.8h0.55M359.2 127.4h0.55M355.2 128.4h0.55M354.8 129.4h0.55M355.7 130.5h0.55M356.2 130.7h0.55M357.4 130.8h0.55M353.5 129.9h0.55M354.2 128.2h0.55M359.5 129.7h0.55M355.1 126.4h0.55M354.5 130.4h0.55M354.6 128.6h0.55M358.4 128.9h0.55M354.3 129.2h0.55M354.5 130.7h0.55M356.3 129.2h0.55M354.2 129.0h0.55M358.9 128.9h0.55M356.5 127.1h0.55M355.8 130.2h0.55M357.9 129.7h0.55M356.4 129.7h0.55M355.5 128.2h0.55M356.4 129.1h0.55M356.5 130.4h0.55M355.4 128.7h0.55M355.7 127.6h0.55M355.7 128.1h0.55M356.1 129.5h0.55M354.5 127.7h0.55M355.1 128.4h0.55M354.7 130.2h0.55M357.2 127.5h0.55M357.2 131.2h0.55M357.6 129.7h0.55M354.8 131.7h0.55M354.3 127.2h0.55M355.2 129.7h0.55M352.6 127.6h0.55M359.6 129.5h0.55M356.8 128.5h0.55M351.5 129.1h0.55M358.1 128.4h0.55M354.4 129.3h0.55M352.6 128.9h0.55M353.8 130.5h0.55M355.4 130.5h0.55M354.9 126.4h0.55M357.0 130.5h0.55M354.9 126.9h0.55M353.9 129.9h0.55M358.2 128.8h0.55M353.7 128.2h0.55M357.4 130.5h0.55M352.9 127.3h0.55M351.4 128.3h0.55M352.2 128.4h0.55M355.4 129.9h0.55M353.9 127.1h0.55M354.1 128.4h0.55M351.7 126.9h0.55M358.5 130.6h0.55M358.4 129.5h0.55M354.1 129.2h0.55M351.9 130.3h0.55M355.6 128.9h0.55M358.8 131.3h0.55M357.0 128.8h0.55M355.3 130.1h0.55M355.5 130.7h0.55M353.5 126.1h0.55M351.9 130.2h0.55M357.5 129.3h0.55M356.3 129.4h0.55M355.4 128.7h0.55M354.1 130.9h0.55M354.4 129.2h0.55M357.8 130.6h0.55M354.1 129.6h0.55M352.7 129.5h0.55M355.8 129.3h0.55M355.4 129.8h0.55M355.2 128.6h0.55M352.8 129.0h0.55M358.7 129.0h0.55M353.5 128.6h0.55M352.3 130.0h0.55M352.8 130.5h0.55M357.1 130.1h0.55M357.4 129.2h0.55M356.5 127.2h0.55M352.2 130.8h0.55M356.0 131.1h0.55M356.6 129.4h0.55M356.0 130.5h0.55M355.0 129.0h0.55M355.8 128.9h0.55M360.6 128.3h0.55M351.5 127.5h0.55M357.4 128.7h0.55M355.4 129.0h0.55M355.7 127.3h0.55M355.2 128.5h0.55M357.5 130.2h0.55M352.1 128.0h0.55M356.3 130.9h0.55M356.8 129.1h0.55M357.6 126.1h0.55M353.8 128.0h0.55M352.7 130.1h0.55M355.7 129.7h0.55M354.7 130.1h0.55M356.8 128.5h0.55M357.2 128.0h0.55M359.1 127.5h0.55M354.4 127.8h0.55M355.1 131.1h0.55M353.3 131.7h0.55M358.3 129.8h0.55M353.7 130.5h0.55M357.3 129.2h0.55M360.8 128.4h0.55M352.0 129.0h0.55M356.4 131.6h0.55M358.0 128.4h0.55M354.0 127.6h0.55M356.8 130.4h0.55M356.4 129.6h0.55M357.3 129.1h0.55M356.7 130.4h0.55M358.0 130.0h0.55M355.2 130.3h0.55M351.4 126.9h0.55M358.8 129.5h0.55M352.6 128.5h0.55M354.7 129.4h0.55M353.3 130.7h0.55M352.5 131.6h0.55M356.6 127.0h0.55M352.2 129.4h0.55M355.7 128.7h0.55M355.1 129.5h0.55M352.4 129.4h0.55M360.3 128.4h0.55M352.7 130.2h0.55M358.2 130.7h0.55M353.6 129.2h0.55M355.5 129.0h0.55M356.0 130.8h0.55M356.3 129.3h0.55M354.6 131.8h0.55M356.8 129.4h0.55M353.3 131.8h0.55M357.9 130.6h0.55M359.9 126.8h0.55M355.3 128.9h0.55M353.3 129.4h0.55M356.3 130.0h0.55M354.7 127.5h0.55M356.3 130.1h0.55M360.0 130.6h0.55M355.1 127.7h0.55M361.4 128.4h0.55M355.5 130.3h0.55M356.2 131.1h0.55M352.6 128.3h0.55M355.4 127.6h0.55M353.6 131.2h0.55M355.7 129.2h0.55M353.7 129.4h0.55M355.0 127.8h0.55M356.9 127.5h0.55M358.1 128.8h0.55M355.7 128.1h0.55M359.3 131.2h0.55M360.0 130.5h0.55M358.2 128.5h0.55M358.1 128.7h0.55M354.9 127.4h0.55M355.2 129.9h0.55M354.9 127.8h0.55M357.2 130.6h0.55M354.8 130.4h0.55M357.4 127.9h0.55M354.9 126.7h0.55M352.6 129.9h0.55M352.9 129.8h0.55M355.9 126.4h0.55M353.9 131.4h0.55M355.1 129.5h0.55M353.4 127.1h0.55M354.6 128.1h0.55M355.3 126.6h0.55M358.4 131.7h0.55M353.2 129.7h0.55M352.9 130.5h0.55M353.0 129.1h0.55M358.1 130.0h0.55M354.3 127.2h0.55M351.2 131.0h0.55M356.3 129.4h0.55M358.0 129.5h0.55M353.3 129.2h0.55M354.8 129.3h0.55M361.0 130.1h0.55M355.7 129.0h0.55M353.4 127.9h0.55M351.4 126.7h0.55M353.0 126.1h0.55M357.6 131.0h0.55M356.1 125.3h0.55M354.9 127.6h0.55M351.3 128.7h0.55M357.1 129.8h0.55M351.9 128.1h0.55M353.3 130.8h0.55M354.6 127.6h0.55M353.0 126.2h0.55M353.1 130.4h0.55M354.6 130.3h0.55M352.5 130.5h0.55M351.6 129.1h0.55M354.4 129.3h0.55M352.8 130.4h0.55M359.5 131.4h0.55M352.9 128.2h0.55M356.3 129.3h0.55M353.3 131.0h0.55M355.9 130.6h0.55M354.5 131.0h0.55M353.9 127.4h0.55M354.8 127.0h0.55M357.3 130.2h0.55M351.4 129.4h0.55M356.5 128.6h0.55M355.7 128.2h0.55M354.7 129.0h0.55M355.8 127.6h0.55M352.5 129.6h0.55M353.8 129.9h0.55M353.8 127.1h0.55M356.3 129.5h0.55M356.3 128.6h0.55M354.1 131.0h0.55M351.4 131.7h0.55M355.8 129.0h0.55M355.0 130.0h0.55M353.3 129.5h0.55M352.9 126.3h0.55M355.2 129.2h0.55M356.1 129.9h0.55M356.2 130.3h0.55M352.7 130.9h0.55M360.2 128.2h0.55M352.3 130.1h0.55M356.7 130.6h0.55M357.9 127.0h0.55M355.6 129.8h0.55M357.3 127.8h0.55M354.9 128.5h0.55M354.5 128.9h0.55M354.5 126.4h0.55M354.7 129.2h0.55M354.0 123.8h0.55M353.4 128.1h0.55M353.1 131.5h0.55M356.7 128.8h0.55M352.9 129.8h0.55M353.6 131.3h0.55M357.0 128.9h0.55M356.0 127.9h0.55M351.6 130.4h0.55M358.1 128.6h0.55M353.7 126.4h0.55M359.1 127.3h0.55M352.9 128.8h0.55M357.2 129.2h0.55M354.8 129.1h0.55M356.5 129.0h0.55M355.1 129.0h0.55M352.6 131.1h0.55M353.4 127.1h0.55M353.9 129.1h0.55M356.5 126.9h0.55M352.3 129.4h0.55M355.6 127.4h0.55M352.5 129.4h0.55M354.5 126.7h0.55M353.0 131.3h0.55M352.7 130.7h0.55M351.7 131.3h0.55M358.0 128.1h0.55M353.4 130.0h0.55M352.3 129.9h0.55M357.3 129.5h0.55M355.5 128.9h0.55M356.8 127.9h0.55M358.0 129.1h0.55M354.1 126.6h0.55M353.9 129.5h0.55M357.3 126.7h0.55M354.5 128.1h0.55M352.4 129.1h0.55M353.3 130.4h0.55M355.8 128.6h0.55M355.1 127.6h0.55M352.7 128.0h0.55M354.7 127.8h0.55M354.0 127.8h0.55M355.3 127.4h0.55M354.8 129.2h0.55M356.7 128.0h0.55M352.5 126.9h0.55M356.3 128.2h0.55M356.8 129.0h0.55M354.2 126.3h0.55M353.4 130.3h0.55M353.6 130.1h0.55M351.5 130.6h0.55M360.4 130.8h0.55M355.4 127.2h0.55M353.7 128.1h0.55M355.2 126.1h0.55M353.1 130.3h0.55M355.1 130.2h0.55M356.5 127.4h0.55M352.1 129.8h0.55M354.9 129.2h0.55M353.2 130.6h0.55M355.8 130.8h0.55M354.1 130.1h0.55M354.7 127.7h0.55M354.6 126.6h0.55M354.4 129.4h0.55M356.2 127.5h0.55M352.1 128.0h0.55M360.1 129.3h0.55M353.3 128.1h0.55M358.3 127.3h0.55M354.6 129.0h0.55M353.3 128.0h0.55M351.4 127.8h0.55M357.4 131.2h0.55M354.2 130.2h0.55M355.7 129.3h0.55M354.5 130.9h0.55M355.9 128.8h0.55M354.3 130.5h0.55M353.6 128.0h0.55M354.2 128.4h0.55M357.3 129.6h0.55M354.6 128.3h0.55M357.6 129.8h0.55M359.0 130.5h0.55M354.4 128.3h0.55M354.2 129.4h0.55M356.4 129.8h0.55M358.0 126.8h0.55M354.9 127.0h0.55M352.7 128.2h0.55M353.5 127.6h0.55M351.8 130.8h0.55M354.2 130.6h0.55M352.6 125.6h0.55M353.6 130.4h0.55M353.7 129.7h0.55M352.6 131.2h0.55M355.7 130.7h0.55M354.2 131.0h0.55M354.9 128.4h0.55M353.5 129.2h0.55M353.0 127.3h0.55M355.1 130.2h0.55M354.2 130.4h0.55M358.0 127.2h0.55M355.3 127.6h0.55M353.5 129.4h0.55M356.5 129.9h0.55M356.1 131.8h0.55M354.1 130.7h0.55M357.7 129.8h0.55M351.2 128.9h0.55M354.2 126.7h0.55M354.7 130.2h0.55M354.3 128.8h0.55M357.7 128.2h0.55M352.9 129.2h0.55M357.0 130.0h0.55M354.9 128.4h0.55M357.3 130.4h0.55M351.3 129.6h0.55M356.0 128.2h0.55M352.2 128.6h0.55M351.3 129.9h0.55M353.8 126.4h0.55M354.8 130.9h0.55M352.3 128.6h0.55M358.4 129.4h0.55M357.6 129.6h0.4M361.0 127.9h0.4M358.8 127.0h0.4M355.0 127.1h0.4M361.1 129.7h0.4M360.8 131.0h0.4M359.1 129.6h0.4M360.0 130.0h0.4M356.3 128.9h0.4M358.6 129.3h0.4M357.1 129.1h0.4M359.7 129.6h0.4M360.5 130.5h0.4M360.4 130.7h0.4M361.1 131.3h0.4M360.6 128.4h0.4M364.8 130.9h0.4M362.1 130.3h0.4M359.1 127.7h0.4M360.1 128.8h0.4M358.0 126.3h0.4M362.9 127.7h0.4M356.2 130.0h0.4M360.4 128.2h0.4M359.0 129.7h0.4M368.8 129.0h0.4M371.9 127.6h0.4M359.9 131.7h0.4M366.1 126.6h0.4M371.8 129.1h0.4M364.9 132.0h0.4M356.2 130.3h0.4M367.8 128.7h0.4M369.6 127.8h0.4M369.6 126.1h0.4M366.0 131.2h0.4M355.1 130.2h0.4M356.8 126.8h0.4M372.4 127.5h0.4M365.1 125.8h0.4M367.4 127.9h0.4M364.8 125.7h0.4M368.8 128.9h0.4M373.7 129.0h0.4M375.6 130.1h0.4M353.8 130.9h0.4M367.5 126.5h0.4M368.9 120.1h0.55M363.8 119.0h0.55M369.6 119.0h0.55M371.6 119.3h0.55M366.4 118.7h0.55M369.4 118.2h0.55M364.4 118.9h0.55M372.2 120.3h0.55M367.2 119.3h0.55M369.6 120.2h0.55M365.7 121.1h0.55M367.3 120.3h0.55M361.6 120.0h0.55M366.0 121.0h0.55M367.2 118.7h0.55M372.9 118.6h0.55M367.8 118.7h0.55M369.6 119.5h0.55M367.0 119.3h0.55M366.3 119.1h0.55M364.1 120.6h0.55M370.1 118.4h0.55M364.8 120.0h0.55M373.7 118.9h0.55M367.0 119.4h0.55M368.4 119.3h0.55M370.6 119.9h0.55M369.2 120.4h0.55M367.2 119.2h0.55M375.6 117.6h0.55M363.7 118.2h0.55M368.7 118.7h0.55M370.6 117.9h0.55M367.4 119.3h0.55M365.0 120.5h0.55M366.8 119.9h0.55M366.4 119.7h0.55M366.6 119.6h0.55M367.5 119.1h0.55M368.9 119.3h0.55M365.3 119.0h0.55M369.0 120.3h0.55M364.4 119.5h0.55M369.0 120.1h0.55M369.7 118.6h0.55M367.9 120.1h0.55M368.4 119.3h0.55M364.7 119.9h0.55M367.6 119.5h0.55M371.7 120.0h0.55M365.7 119.8h0.55M367.0 119.6h0.55M372.1 119.8h0.55M367.9 119.1h0.55M367.4 119.8h0.55M366.5 120.3h0.55M367.9 118.7h0.55M373.1 117.1h0.55M367.1 119.5h0.55M370.4 120.0h0.55M371.6 120.2h0.55M368.6 119.5h0.55M370.5 119.3h0.55M364.5 119.5h0.55M369.5 119.8h0.55M364.9 120.5h0.55M368.6 118.4h0.55M369.0 120.1h0.55M369.2 119.2h0.55M365.7 120.4h0.55M368.4 119.4h0.55M366.8 118.9h0.55M362.9 119.7h0.55M370.7 119.8h0.55M366.0 120.7h0.55M367.2 118.9h0.55M370.4 120.2h0.55M366.8 118.8h0.55M367.6 117.9h0.55M367.9 120.5h0.55M368.5 119.0h0.55M369.7 119.0h0.55M371.1 119.0h0.55M373.1 118.8h0.55M368.3 118.8h0.55M364.5 120.0h0.55M368.7 118.8h0.55M369.3 119.1h0.55M366.4 119.6h0.55M368.8 119.9h0.55M371.0 119.5h0.55M365.9 119.2h0.55M368.8 118.6h0.55M367.4 119.3h0.55M367.5 119.6h0.55M370.5 120.4h0.55M370.1 120.0h0.55M365.0 120.4h0.55M371.2 118.3h0.55M374.4 118.6h0.55M361.6 121.2h0.55M368.0 118.9h0.55M366.3 120.3h0.55M368.5 119.2h0.55M370.8 118.6h0.55M365.6 119.3h0.55M365.8 120.1h0.55M367.2 118.8h0.55M366.6 118.3h0.55M368.2 119.5h0.55M369.4 119.2h0.55M368.8 118.8h0.55M367.9 119.6h0.55M364.6 120.1h0.55M368.2 119.5h0.55M366.6 120.9h0.55M367.8 119.0h0.55M365.6 120.1h0.55M367.3 119.0h0.55M365.9 120.3h0.55M368.0 120.2h0.55M367.8 118.7h0.55M370.1 119.5h0.55M366.1 119.4h0.55M365.3 120.3h0.55M366.7 119.9h0.55M368.5 119.3h0.55M368.8 119.3h0.55M364.7 119.5h0.55M364.7 120.3h0.55M369.5 119.0h0.55M369.4 119.5h0.55M370.3 118.7h0.55M367.9 118.8h0.55M366.0 120.6h0.55M362.6 119.3h0.55M369.1 119.9h0.55M365.8 118.3h0.55M363.3 120.1h0.55M370.7 119.9h0.55M365.9 120.6h0.55M367.3 120.0h0.55M367.3 120.6h0.55M366.5 118.2h0.55M367.0 119.7h0.55M368.5 119.0h0.55M367.2 118.8h0.55M367.2 119.6h0.55M368.4 120.5h0.55M362.6 120.3h0.55M368.9 118.6h0.55M368.0 119.5h0.55M365.2 120.2h0.55M372.8 119.5h0.55M369.8 120.0h0.55M367.5 120.2h0.55M365.7 119.8h0.55M369.6 120.2h0.55M367.1 119.4h0.55M369.0 119.3h0.55M368.2 120.0h0.55M365.8 120.2h0.55M368.8 119.2h0.55M364.6 119.3h0.55M367.7 120.1h0.55M362.7 120.4h0.55M368.3 118.7h0.55M370.0 119.6h0.55M368.9 118.8h0.55M364.9 120.3h0.55M368.0 120.5h0.4M360.0 120.1h0.4M352.5 121.4h0.4M360.5 121.4h0.4M357.4 121.3h0.4M357.4 121.0h0.4M367.8 119.6h0.4M365.5 120.2h0.4M356.3 120.7h0.4M364.2 119.7h0.4M359.7 120.0h0.4M357.2 120.4h0.4M365.1 119.9h0.4M367.2 119.9h0.4M357.6 121.3h0.4M368.0 119.7h0.4M363.9 119.4h0.4M359.0 120.2h0.4M364.5 119.3h0.4M358.5 119.9h0.4M361.5 119.4h0.4M354.4 122.8h0.4M362.1 119.2h0.4M365.1 119.2h0.4M351.7 122.0h0.4M367.2 119.5h0.4M355.6 120.9h0.4M371.1 120.5h0.4M364.3 119.4h0.4M352.2 121.0h0.4M366.0 120.3h0.4M361.0 121.5h0.4M356.8 121.4h0.4M365.1 119.8h0.4M361.6 120.5h0.4M363.9 119.6h0.4M359.8 120.5h0.4M361.1 120.4h0.4M362.2 120.2h0.4M358.5 121.3h0.4" stroke="#000" stroke-width="0.55" stroke-opacity="0.8" fill="none"/>
<rect x="226.50" y="154.50" width="33.00" height="32.00" fill="#fff" stroke="#3a3a3a" stroke-width="0.55"/>
<line x1="236.5" y1="154.5" x2="236.5" y2="186.5" stroke="#444" stroke-width="0.5"/>
<line x1="226.5" y1="174.5" x2="259.5" y2="174.5" stroke="#444" stroke-width="0.5"/>
<path d="M228.56 186.5v0.7M226.5 156.50h-0.7M230.62 186.5v0.7M226.5 158.50h-0.7M232.69 186.5v0.7M226.5 160.50h-0.7M234.75 186.5v1.2M226.5 162.50h-1.2M236.81 186.5v0.7M226.5 164.50h-0.7M238.88 186.5v0.7M226.5 166.50h-0.7M240.94 186.5v0.7M226.5 168.50h-0.7M243.00 186.5v1.2M226.5 170.50h-1.2M245.06 186.5v0.7M226.5 172.50h-0.7M247.12 186.5v0.7M226.5 174.50h-0.7M249.19 186.5v0.7M226.5 176.50h-0.7M251.25 186.5v1.2M226.5 178.50h-1.2M253.31 186.5v0.7M226.5 180.50h-0.7M255.38 186.5v0.7M226.5 182.50h-0.7M257.44 186.5v0.7M226.5 184.50h-0.7" stroke="#555" stroke-width="0.35" fill="none"/>
<text x="225.3" y="156.1" font-size="3.0" font-weight="bold" text-anchor="end" fill="#333">10<tspan font-size="2.2" baseline-shift="super">4</tspan></text>
<text x="225.3" y="186.3" font-size="3.0" font-weight="bold" text-anchor="end" fill="#333">10<tspan font-size="2.2" baseline-shift="super">0</tspan></text>
<text x="227.1" y="190.1" font-size="3.0" font-weight="bold" text-anchor="middle" fill="#333">10<tspan font-size="2.2" baseline-shift="super">0</tspan></text>
<text x="259.7" y="190.1" font-size="3.0" font-weight="bold" text-anchor="middle" fill="#333">10<tspan font-size="2.2" baseline-shift="super">4</tspan></text>
<path d="M247.3 179.2h0.55M247.1 176.9h0.55M248.2 180.0h0.55M247.7 181.4h0.55M247.7 182.0h0.55M249.3 181.1h0.55M247.6 184.7h0.55M248.4 175.5h0.55M248.9 180.7h0.55M248.5 176.9h0.55M247.1 178.3h0.55M248.3 177.0h0.55M247.2 182.7h0.55M247.3 180.4h0.55M247.0 175.4h0.55M247.7 179.8h0.55M246.6 182.8h0.55M248.5 182.5h0.55M247.4 176.9h0.55M247.7 180.6h0.55M247.7 178.5h0.55M247.0 178.1h0.55M247.7 178.8h0.55M249.2 179.3h0.55M248.2 178.8h0.55M247.6 177.4h0.55M247.4 176.0h0.55M246.1 183.8h0.55M246.9 181.3h0.55M247.7 178.5h0.55M248.4 178.6h0.55M248.2 179.1h0.55M248.6 182.7h0.55M247.9 183.1h0.55M248.2 184.4h0.55M247.7 175.9h0.55M248.0 180.8h0.55M247.5 179.5h0.55M247.6 176.7h0.55M249.2 178.0h0.55M246.9 175.8h0.55M247.1 180.0h0.55M249.0 181.7h0.55M247.2 176.7h0.55M246.9 179.9h0.55M248.5 178.8h0.55M249.1 185.4h0.55M247.9 174.2h0.55M248.7 179.8h0.55M248.4 182.8h0.55M247.0 180.3h0.55M247.9 178.0h0.55M248.4 179.7h0.55M247.5 185.3h0.55M247.9 184.6h0.55M247.7 182.9h0.55M247.2 180.5h0.55M248.7 174.1h0.55M248.2 179.4h0.55M248.7 180.6h0.55M247.7 176.6h0.55M250.2 178.1h0.55M247.5 178.1h0.55M247.5 180.7h0.55M246.7 183.0h0.55M247.6 181.7h0.55M246.0 178.7h0.55M247.5 179.0h0.55M247.2 180.9h0.55M248.1 177.4h0.55M246.2 182.1h0.55M247.5 183.0h0.55M248.5 179.8h0.55M246.6 179.1h0.55M247.2 183.5h0.55M246.4 182.6h0.55M246.5 178.5h0.55M246.6 178.2h0.55M247.4 181.1h0.55M247.3 182.0h0.55M249.2 180.5h0.55M246.8 179.6h0.55M247.7 179.1h0.55M248.8 183.3h0.55M249.5 181.5h0.55M245.6 179.7h0.55M248.4 177.9h0.55M247.3 182.6h0.55M247.9 177.0h0.55M247.3 171.6h0.55M247.8 176.7h0.55M247.8 176.8h0.55M247.0 178.7h0.55M250.1 176.8h0.55M246.8 178.6h0.55M248.7 182.3h0.55M248.4 179.2h0.55M247.9 178.0h0.55M247.6 177.9h0.55M246.6 177.4h0.55M249.4 181.2h0.55M247.2 179.8h0.55M247.4 183.4h0.55M247.8 178.3h0.55M248.4 181.0h0.55M247.2 178.0h0.55M247.9 175.6h0.55M247.0 182.9h0.55M248.5 183.1h0.55M247.4 178.5h0.55M247.6 178.8h0.55M248.9 179.5h0.55M248.9 178.1h0.55M248.1 184.5h0.55M247.2 178.3h0.55M247.3 175.7h0.55M247.5 178.3h0.55M249.6 178.8h0.55M246.0 182.7h0.55M248.6 180.0h0.55M248.0 182.1h0.55M247.3 180.2h0.55M247.9 184.6h0.55M249.0 180.6h0.55M246.7 182.5h0.55M247.7 183.3h0.55M247.8 180.6h0.55M248.3 178.1h0.55M247.1 182.6h0.55M248.4 182.3h0.55M248.9 176.4h0.55M248.6 174.4h0.55M247.8 181.0h0.55M248.6 183.1h0.55M247.0 179.3h0.55M247.7 178.2h0.55M247.1 178.3h0.55M248.7 183.8h0.55M248.4 184.7h0.55M247.9 177.1h0.55M247.2 180.6h0.55M248.6 183.4h0.55M247.0 182.7h0.55M247.3 181.7h0.55M248.5 184.2h0.55M247.4 180.8h0.55M248.1 178.9h0.55M247.9 181.7h0.55M246.4 178.3h0.55M249.7 181.3h0.55M247.3 175.1h0.55M247.0 181.5h0.55M248.4 181.3h0.55M248.3 178.4h0.55M249.1 177.0h0.55M248.2 179.4h0.55M246.4 182.6h0.55M247.6 182.0h0.55M248.8 180.5h0.55M247.2 179.5h0.55M247.7 184.1h0.55M248.5 184.4h0.55M248.4 178.0h0.55M248.6 182.8h0.55M247.7 181.4h0.55M247.5 176.6h0.55M247.7 182.2h0.55M247.5 173.9h0.55M247.1 183.1h0.55M248.0 183.2h0.55M247.2 178.9h0.55M247.0 178.0h0.55M248.2 180.5h0.55M247.4 180.9h0.55M246.7 179.0h0.55M246.6 176.0h0.55M246.7 177.1h0.55M249.1 183.9h0.55M248.8 178.5h0.55M248.3 177.0h0.55M247.3 180.8h0.55M246.5 180.6h0.55M248.3 174.4h0.55M245.8 179.3h0.55M247.7 180.5h0.55M246.9 181.7h0.55M247.9 178.1h0.55M249.1 180.8h0.55M248.4 185.2h0.55M247.4 179.5h0.55M246.4 179.5h0.55M248.3 180.7h0.55M246.7 177.7h0.55M246.3 176.3h0.55M247.9 180.9h0.55M247.0 179.5h0.55M247.1 181.8h0.55M248.3 178.6h0.55M247.4 176.7h0.55M247.8 182.5h0.55M248.3 184.2h0.55M247.5 177.6h0.55M248.6 182.6h0.55M247.2 183.1h0.55M247.8 180.0h0.55M249.3 181.6h0.55M248.0 179.2h0.55M248.0 183.0h0.55M248.2 178.0h0.55M248.2 179.8h0.55M248.0 179.6h0.55M246.0 175.6h0.55M247.5 174.0h0.55M246.5 185.7h0.55M248.4 178.8h0.55M248.1 173.9h0.55M248.0 182.8h0.55M247.9 176.5h0.55M248.6 178.6h0.55M247.3 180.6h0.55M247.5 185.7h0.55M248.2 176.7h0.55M247.8 180.2h0.55M249.0 183.6h0.55M249.9 178.3h0.55M247.0 181.1h0.55M249.1 177.3h0.55M247.5 178.0h0.55M248.2 181.2h0.55M247.8 181.9h0.55M247.1 179.1h0.55M248.2 185.7h0.55M247.8 180.3h0.55M248.9 180.3h0.55M248.9 180.8h0.55M248.7 180.6h0.55M247.0 177.7h0.55M248.1 185.3h0.55M249.3 179.2h0.55M249.9 177.0h0.55M247.1 182.7h0.55M246.5 182.6h0.55M248.1 181.8h0.55M246.8 181.2h0.55M248.6 180.0h0.55M248.6 180.2h0.55M248.1 179.2h0.55M246.7 179.7h0.55M248.2 178.0h0.55M246.2 175.8h0.55M248.9 179.5h0.55M247.2 183.5h0.55M247.6 175.9h0.55M247.4 177.6h0.55M247.6 177.6h0.55M247.8 181.4h0.55M247.3 179.5h0.55M247.7 182.4h0.55M247.2 182.2h0.55M248.8 179.6h0.55M247.0 179.2h0.55M246.3 178.6h0.55M246.8 179.6h0.55M247.5 181.5h0.55M247.9 181.3h0.55M247.7 180.9h0.55M246.8 181.9h0.55M248.9 183.2h0.55M246.7 181.3h0.55M246.4 182.2h0.55M247.6 178.8h0.55M247.2 179.4h0.55M247.8 177.4h0.55M247.8 180.8h0.55M248.2 180.0h0.55M248.6 181.0h0.55M246.6 181.8h0.55M248.3 172.7h0.55M247.7 181.2h0.55M247.8 180.4h0.55M247.7 184.0h0.55M248.1 179.3h0.55M247.6 185.9h0.55M247.1 178.6h0.55M248.1 180.5h0.55M248.0 183.9h0.55M248.7 181.3h0.55M247.8 179.9h0.55M247.6 182.9h0.55M246.7 177.2h0.55M247.4 177.4h0.55M247.2 183.4h0.55M245.9 181.7h0.55M246.7 179.4h0.55M247.3 177.3h0.55M246.5 180.3h0.55M245.3 174.2h0.55M247.5 183.2h0.55M249.3 179.3h0.55M247.1 179.3h0.55M248.2 182.7h0.55M247.0 181.4h0.55M247.8 183.3h0.55M247.4 179.5h0.55M247.1 176.4h0.55M248.0 182.1h0.55M248.7 180.9h0.55M247.4 177.5h0.55M246.8 178.1h0.55M248.1 180.4h0.55M245.9 179.8h0.55M247.5 177.2h0.55M247.8 181.6h0.55M246.9 176.3h0.55M247.5 180.8h0.55M247.6 184.4h0.55M247.9 177.3h0.55M248.4 178.3h0.55M248.4 180.4h0.55M248.8 177.3h0.55M248.4 181.3h0.55M247.0 182.1h0.55M249.7 181.1h0.55M247.1 179.7h0.55M249.6 183.0h0.55M249.8 179.8h0.55M249.6 176.6h0.55M247.6 181.1h0.55M247.0 183.3h0.55M250.4 185.0h0.55M247.2 179.5h0.55M245.0 183.4h0.55M249.0 186.0h0.55M248.9 174.0h0.55M246.6 184.9h0.55M247.2 185.0h0.55M251.3 179.4h0.55M250.9 181.8h0.55M245.7 182.4h0.55M249.0 180.1h0.55M250.0 179.0h0.55M247.5 185.3h0.55M247.5 180.1h0.55M247.8 184.4h0.55M250.4 182.0h0.55M245.5 182.0h0.55M247.2 178.6h0.55M247.1 181.9h0.55M247.9 185.3h0.55M247.9 184.7h0.55M249.5 177.8h0.55M250.0 179.6h0.55M248.3 185.9h0.55M249.1 176.6h0.55M247.6 181.8h0.55M247.0 178.8h0.55M246.3 180.2h0.55M247.5 183.3h0.55M247.4 162.7h0.45M244.8 170.8h0.45M248.7 163.9h0.45M249.1 160.2h0.45M251.4 170.5h0.45M244.7 170.2h0.45M247.4 167.0h0.45M246.9 167.7h0.45M247.3 165.4h0.45M246.5 170.4h0.45M248.4 164.0h0.45M246.7 173.8h0.45M248.7 174.1h0.45M245.2 165.0h0.45M243.8 161.9h0.45M246.9 164.9h0.45M245.6 166.1h0.45M247.2 171.3h0.45M248.4 162.5h0.45M250.0 167.4h0.45M245.8 168.4h0.45M246.8 163.8h0.45M250.1 166.5h0.45M246.5 170.3h0.45M250.3 170.1h0.45M246.0 170.0h0.45M249.4 169.8h0.45M248.6 166.9h0.45M247.4 162.8h0.45M246.3 164.6h0.45M247.5 173.6h0.45M243.7 164.0h0.45M245.9 168.2h0.45M249.5 165.9h0.45M246.2 172.6h0.45M248.1 170.3h0.45M248.9 166.0h0.45M247.9 166.3h0.45M246.3 169.0h0.45M248.2 164.2h0.45M246.2 170.6h0.45M247.8 170.8h0.45M247.0 165.8h0.45M248.8 170.5h0.45M242.7 171.5h0.45M246.2 170.8h0.45M250.2 167.5h0.45M245.8 169.4h0.45M247.7 170.4h0.45M245.1 169.3h0.45M249.0 170.9h0.45M248.6 172.6h0.45M246.1 172.7h0.45M247.9 165.1h0.45M247.0 169.4h0.45M248.1 173.1h0.45M247.8 166.8h0.45M251.2 167.4h0.45M246.1 171.7h0.45M246.8 165.8h0.45M245.7 175.4h0.4M245.7 170.5h0.4M247.0 169.1h0.4M246.2 170.7h0.4M249.3 174.8h0.4M247.2 164.7h0.4M244.7 170.0h0.4M242.5 176.0h0.4M248.1 170.6h0.4M244.9 167.1h0.4M246.4 173.1h0.4M247.1 172.8h0.4M249.1 161.3h0.4M247.5 175.7h0.4" stroke="#000" stroke-width="0.55" stroke-opacity="0.8" fill="none"/>
<rect x="288.50" y="154.50" width="33.00" height="32.00" fill="#fff" stroke="#3a3a3a" stroke-width="0.55"/>
<line x1="299.5" y1="154.5" x2="299.5" y2="186.5" stroke="#444" stroke-width="0.5"/>
<line x1="288.5" y1="177.5" x2="321.5" y2="177.5" stroke="#444" stroke-width="0.5"/>
<path d="M290.56 186.5v0.7M288.5 156.50h-0.7M292.62 186.5v0.7M288.5 158.50h-0.7M294.69 186.5v0.7M288.5 160.50h-0.7M296.75 186.5v1.2M288.5 162.50h-1.2M298.81 186.5v0.7M288.5 164.50h-0.7M300.88 186.5v0.7M288.5 166.50h-0.7M302.94 186.5v0.7M288.5 168.50h-0.7M305.00 186.5v1.2M288.5 170.50h-1.2M307.06 186.5v0.7M288.5 172.50h-0.7M309.12 186.5v0.7M288.5 174.50h-0.7M311.19 186.5v0.7M288.5 176.50h-0.7M313.25 186.5v1.2M288.5 178.50h-1.2M315.31 186.5v0.7M288.5 180.50h-0.7M317.38 186.5v0.7M288.5 182.50h-0.7M319.44 186.5v0.7M288.5 184.50h-0.7" stroke="#555" stroke-width="0.35" fill="none"/>
<text x="287.3" y="156.1" font-size="3.0" font-weight="bold" text-anchor="end" fill="#333">10<tspan font-size="2.2" baseline-shift="super">4</tspan></text>
<text x="287.3" y="186.3" font-size="3.0" font-weight="bold" text-anchor="end" fill="#333">10<tspan font-size="2.2" baseline-shift="super">0</tspan></text>
<text x="289.1" y="190.1" font-size="3.0" font-weight="bold" text-anchor="middle" fill="#333">10<tspan font-size="2.2" baseline-shift="super">0</tspan></text>
<text x="321.7" y="190.1" font-size="3.0" font-weight="bold" text-anchor="middle" fill="#333">10<tspan font-size="2.2" baseline-shift="super">4</tspan></text>
<path d="M306.4 182.3h0.55M306.9 180.9h0.55M309.5 182.1h0.55M307.7 181.7h0.55M308.6 183.4h0.55M308.4 183.2h0.55M307.8 183.7h0.55M307.5 182.3h0.55M307.9 181.3h0.55M304.1 183.1h0.55M307.2 181.5h0.55M306.7 181.2h0.55M306.0 182.4h0.55M307.1 183.1h0.55M306.9 182.9h0.55M307.8 181.5h0.55M305.1 181.5h0.55M306.7 181.6h0.55M309.5 181.5h0.55M307.5 181.4h0.55M307.8 180.9h0.55M308.1 182.4h0.55M306.5 181.0h0.55M308.9 181.6h0.55M308.7 179.7h0.55M305.6 184.1h0.55M309.1 182.2h0.55M308.2 182.8h0.55M306.6 182.3h0.55M305.7 180.8h0.55M307.1 183.0h0.55M307.2 180.9h0.55M308.0 182.3h0.55M307.9 181.9h0.55M306.7 183.3h0.55M308.6 180.9h0.55M305.7 183.2h0.55M307.4 182.3h0.55M305.9 183.3h0.55M307.2 182.4h0.55M307.4 181.7h0.55M307.5 182.3h0.55M307.8 182.6h0.55M305.5 181.5h0.55M306.7 183.4h0.55M306.2 183.4h0.55M308.2 183.1h0.55M309.6 182.2h0.55M307.4 183.5h0.55M307.5 183.3h0.55M306.9 183.7h0.55M307.4 180.2h0.55M308.3 182.0h0.55M306.0 181.9h0.55M306.7 183.4h0.55M307.4 182.1h0.55M307.0 181.3h0.55M306.3 181.7h0.55M306.7 181.0h0.55M306.5 183.3h0.55M307.5 182.2h0.55M307.4 182.0h0.55M305.6 183.1h0.55M309.6 182.7h0.55M307.8 184.8h0.55M305.6 182.8h0.55M306.6 181.9h0.55M305.1 182.1h0.55M307.5 180.5h0.55M306.7 181.7h0.55M305.8 182.9h0.55M308.9 182.7h0.55M308.2 183.0h0.55M306.9 182.8h0.55M308.5 181.8h0.55M306.8 180.8h0.55M304.9 181.4h0.55M308.0 182.6h0.55M307.3 183.6h0.55M305.0 183.7h0.55M307.1 183.0h0.55M308.6 181.4h0.55M306.0 182.6h0.55M306.9 181.6h0.55M306.9 181.5h0.55M307.2 181.8h0.55M309.0 181.1h0.55M307.7 182.3h0.55M308.8 181.2h0.55M306.5 184.0h0.55M306.2 181.8h0.55M306.5 181.2h0.55M308.4 183.8h0.55M306.8 181.4h0.55M305.4 182.9h0.55M306.4 182.8h0.55M304.2 181.8h0.55M307.7 182.6h0.55M303.7 182.5h0.55M307.1 182.2h0.55M306.6 181.8h0.55M307.2 182.7h0.55M303.3 182.2h0.55M308.1 182.0h0.55M308.4 181.2h0.55M309.2 183.2h0.55M306.5 185.1h0.55M308.7 183.9h0.55M305.6 182.1h0.55M307.5 183.3h0.55M307.1 180.9h0.55M308.4 182.0h0.55M307.5 181.9h0.55M306.9 180.8h0.55M307.8 181.6h0.55M305.0 182.6h0.55M307.0 183.2h0.55M307.9 181.0h0.55M306.8 182.2h0.55M307.1 181.1h0.55M307.1 183.2h0.55M308.4 183.7h0.55M307.9 179.6h0.55M306.7 181.6h0.55M303.7 183.8h0.55M308.1 182.2h0.55M307.4 182.7h0.55M306.7 183.6h0.55M309.1 183.1h0.55M306.4 182.5h0.55M308.1 183.0h0.55M306.2 183.2h0.55M307.8 182.8h0.55M306.5 182.2h0.55M304.8 182.2h0.55M306.5 181.9h0.55M306.7 181.9h0.55M307.1 182.3h0.55M306.3 182.1h0.55M306.9 182.7h0.55M307.5 181.8h0.55M306.0 180.5h0.55M305.6 182.6h0.55M305.9 183.9h0.55M306.8 181.8h0.55M306.8 181.6h0.55M306.3 182.3h0.55M305.3 182.4h0.55M306.9 181.3h0.55M308.2 182.6h0.55M308.3 181.5h0.55M305.6 181.0h0.55M305.2 180.2h0.55M308.8 181.7h0.55M307.2 181.7h0.55M306.8 183.8h0.55M305.0 181.2h0.55M307.2 181.3h0.55M307.8 183.6h0.55M308.0 183.0h0.55M306.8 183.2h0.55M306.1 181.0h0.55M306.7 182.0h0.55M308.4 181.2h0.55M308.3 181.4h0.55M305.5 180.5h0.55M307.0 180.7h0.55M307.2 182.3h0.55M306.5 180.2h0.55M306.4 182.7h0.55M304.9 182.9h0.55M307.0 181.6h0.55M307.2 182.9h0.55M307.0 181.4h0.55M307.9 181.5h0.55M307.4 183.2h0.55M308.5 183.9h0.55M308.2 182.4h0.55M306.8 182.4h0.55M307.6 185.3h0.55M307.8 181.4h0.55M308.8 180.6h0.55M308.2 180.9h0.55M305.7 181.7h0.55M306.7 180.8h0.55M307.7 182.1h0.55M308.5 181.2h0.55M304.9 182.9h0.55M306.7 183.2h0.55M304.3 180.9h0.55M307.1 184.2h0.55M305.6 180.2h0.55M306.5 183.7h0.55M308.8 180.8h0.55M306.3 180.3h0.55M306.0 181.2h0.55M307.5 183.4h0.55M309.8 181.8h0.55M307.9 182.4h0.55M307.1 184.2h0.55M307.8 183.8h0.55M307.3 183.1h0.55M307.6 182.1h0.55M306.2 181.8h0.55M307.0 181.8h0.55M306.6 181.5h0.55M308.0 182.0h0.55M306.9 182.0h0.55M308.5 181.6h0.55M308.6 181.3h0.55M308.8 182.8h0.55M306.4 182.7h0.55M308.3 181.2h0.55M306.7 182.5h0.55M306.8 181.9h0.55M307.0 182.5h0.55M307.9 183.7h0.55M306.6 185.3h0.55M306.6 184.1h0.55M306.9 180.7h0.55M306.5 181.8h0.55M308.2 180.1h0.55M306.3 182.1h0.55M307.8 182.6h0.55M308.0 182.0h0.55M306.7 183.5h0.55M309.0 182.6h0.55M307.2 181.3h0.55M309.4 182.6h0.55M307.7 180.5h0.55M307.7 184.7h0.55M306.8 182.0h0.55M308.8 182.0h0.55M308.0 184.2h0.55M305.7 181.3h0.55M307.8 182.3h0.55M307.1 182.0h0.55M307.2 182.6h0.55M306.5 181.9h0.55M307.3 181.1h0.55M307.5 179.9h0.55M307.7 182.1h0.55M305.7 183.6h0.55M305.7 184.4h0.55M306.2 183.5h0.55M306.9 183.9h0.55M306.7 183.3h0.55M306.6 180.3h0.55M307.5 182.7h0.55M307.5 183.9h0.55M306.2 180.7h0.55M307.3 181.5h0.55M306.9 182.2h0.55M306.1 183.3h0.55M306.9 184.1h0.55M307.3 183.3h0.55M306.7 181.5h0.55M306.4 181.3h0.55M307.5 182.3h0.55M305.8 180.6h0.55M306.0 180.3h0.55M306.0 180.6h0.55M307.8 181.0h0.55M306.3 182.1h0.55M307.0 182.6h0.55M307.9 182.9h0.55M306.6 183.5h0.55M307.4 181.5h0.55M308.7 181.0h0.55M307.5 183.5h0.55M307.1 182.6h0.55M307.1 182.9h0.55M307.3 182.2h0.55M307.8 180.2h0.55M307.3 181.9h0.55M309.2 182.5h0.55M306.3 182.9h0.55M306.6 181.0h0.55M306.7 182.7h0.55M308.4 183.3h0.55M307.3 182.0h0.55M307.2 183.5h0.55M306.9 183.4h0.55M306.1 182.2h0.55M307.9 182.9h0.55M307.2 181.7h0.55M305.0 181.7h0.55M306.0 181.8h0.55M308.8 181.4h0.55M308.0 182.2h0.55M305.7 182.3h0.55M307.9 181.0h0.55M305.7 181.8h0.55M307.8 181.6h0.55M307.5 182.7h0.55M307.0 182.7h0.55M308.4 182.0h0.55M307.4 181.1h0.55M306.2 182.1h0.55M307.9 181.5h0.55M305.4 183.2h0.55M309.7 179.5h0.55M305.8 182.3h0.55M307.6 181.2h0.55M307.4 183.3h0.55M306.7 183.0h0.55M307.2 181.2h0.55M306.3 181.6h0.55M308.5 183.4h0.55M307.3 180.6h0.55M306.5 181.8h0.55M304.8 182.2h0.55M307.3 180.8h0.55M306.5 181.7h0.55M309.1 182.9h0.55M307.9 182.3h0.55M305.6 183.2h0.55M306.2 180.2h0.55M307.8 181.8h0.55M307.0 182.7h0.55M306.7 182.6h0.55M308.5 181.9h0.55M306.6 182.2h0.55M307.7 181.8h0.55M307.1 181.5h0.55M306.9 182.8h0.55M306.1 182.0h0.55M305.4 181.5h0.55M307.1 182.8h0.55M305.8 182.1h0.55M305.3 182.6h0.4M308.1 182.8h0.4M307.0 179.9h0.4M306.2 180.0h0.4M305.9 182.0h0.4M310.0 181.1h0.4M305.7 182.4h0.4M302.7 185.2h0.4M303.9 183.7h0.4M309.8 183.6h0.4M307.3 183.3h0.4M306.7 183.6h0.4M306.0 180.8h0.4M308.4 181.4h0.4M309.1 180.7h0.4M308.1 180.6h0.4M307.3 185.5h0.4M305.0 180.2h0.4M303.8 181.7h0.4M311.3 181.4h0.4M309.7 181.8h0.4M306.0 185.3h0.4M310.0 179.2h0.4M305.2 182.8h0.4M309.0 181.8h0.4M308.2 183.0h0.4M306.7 183.7h0.4M305.5 183.3h0.4M309.6 182.4h0.4M306.7 182.1h0.4M304.0 172.7h0.55M305.0 170.2h0.55M307.8 171.4h0.55M307.3 172.5h0.55M304.6 171.4h0.55M306.5 172.9h0.55M306.9 171.0h0.55M306.1 172.5h0.55M305.2 171.9h0.55M306.1 170.1h0.55M309.0 173.4h0.55M306.2 173.4h0.55M305.5 174.1h0.55M306.3 172.6h0.55M306.1 172.5h0.55M307.2 172.4h0.55M305.8 173.2h0.55M307.5 172.4h0.55M308.1 171.6h0.55M308.4 172.2h0.55M308.7 171.9h0.55M306.5 172.6h0.55M308.2 174.0h0.55M306.2 171.6h0.55M307.8 173.7h0.55M307.7 172.0h0.55M308.4 172.4h0.55M307.0 173.1h0.55M306.1 169.9h0.55M307.1 173.2h0.55M307.4 173.0h0.55M307.0 173.5h0.55M306.9 174.0h0.55M306.9 173.3h0.55M306.1 172.7h0.55M307.3 172.6h0.55M308.7 172.5h0.55M308.2 172.8h0.55M308.2 171.4h0.55M306.3 173.4h0.55M305.8 172.8h0.55M307.5 172.6h0.55M307.4 173.0h0.55M306.5 172.8h0.55M306.2 171.9h0.55M304.8 172.3h0.55M304.7 172.4h0.55M307.1 171.2h0.55M306.9 172.7h0.55M306.4 171.4h0.55M307.7 172.8h0.4M310.7 175.8h0.4M302.3 172.7h0.4M309.3 170.7h0.4M308.9 176.1h0.4M308.3 174.7h0.4" stroke="#000" stroke-width="0.55" stroke-opacity="0.8" fill="none"/>
<rect x="350.50" y="154.50" width="34.00" height="32.00" fill="#fff" stroke="#3a3a3a" stroke-width="0.55"/>
<line x1="361.5" y1="154.5" x2="361.5" y2="186.5" stroke="#444" stroke-width="0.5"/>
<line x1="350.5" y1="176.5" x2="384.5" y2="176.5" stroke="#444" stroke-width="0.5"/>
<path d="M352.62 186.5v0.7M350.5 156.50h-0.7M354.75 186.5v0.7M350.5 158.50h-0.7M356.88 186.5v0.7M350.5 160.50h-0.7M359.00 186.5v1.2M350.5 162.50h-1.2M361.12 186.5v0.7M350.5 164.50h-0.7M363.25 186.5v0.7M350.5 166.50h-0.7M365.38 186.5v0.7M350.5 168.50h-0.7M367.50 186.5v1.2M350.5 170.50h-1.2M369.62 186.5v0.7M350.5 172.50h-0.7M371.75 186.5v0.7M350.5 174.50h-0.7M373.88 186.5v0.7M350.5 176.50h-0.7M376.00 186.5v1.2M350.5 178.50h-1.2M378.12 186.5v0.7M350.5 180.50h-0.7M380.25 186.5v0.7M350.5 182.50h-0.7M382.38 186.5v0.7M350.5 184.50h-0.7" stroke="#555" stroke-width="0.35" fill="none"/>
<text x="349.3" y="156.1" font-size="3.0" font-weight="bold" text-anchor="end" fill="#333">10<tspan font-size="2.2" baseline-shift="super">4</tspan></text>
<text x="349.3" y="186.3" font-size="3.0" font-weight="bold" text-anchor="end" fill="#333">10<tspan font-size="2.2" baseline-shift="super">0</tspan></text>
<text x="351.1" y="190.1" font-size="3.0" font-weight="bold" text-anchor="middle" fill="#333">10<tspan font-size="2.2" baseline-shift="super">0</tspan></text>
<text x="384.7" y="190.1" font-size="3.0" font-weight="bold" text-anchor="middle" fill="#333">10<tspan font-size="2.2" baseline-shift="super">4</tspan></text>
<path d="M357.5 182.1h0.55M358.6 180.3h0.55M354.5 181.7h0.55M355.5 182.8h0.55M357.7 181.9h0.55M359.5 180.3h0.55M354.8 183.6h0.55M357.1 182.2h0.55M356.7 179.9h0.55M353.9 183.5h0.55M351.3 180.8h0.55M355.9 184.3h0.55M357.7 181.8h0.55M356.2 180.3h0.55M351.6 183.5h0.55M354.1 181.3h0.55M360.2 179.9h0.55M352.6 184.3h0.55M355.2 184.3h0.55M354.8 185.2h0.55M354.9 182.5h0.55M356.0 183.2h0.55M351.5 181.4h0.55M354.5 183.2h0.55M352.2 181.7h0.55M353.3 183.2h0.55M354.0 183.5h0.55M355.9 181.4h0.55M354.3 181.0h0.55M355.3 183.8h0.55M352.7 180.2h0.55M356.2 182.3h0.55M354.9 183.3h0.55M355.9 184.0h0.55M353.9 179.6h0.55M353.9 182.3h0.55M354.0 183.2h0.55M354.4 184.5h0.55M353.5 182.7h0.55M354.2 185.6h0.55M352.8 181.3h0.55M354.1 183.8h0.55M355.0 182.5h0.55M351.6 179.8h0.55M354.5 182.4h0.55M359.1 183.2h0.55M356.0 184.0h0.55M352.9 181.0h0.55M354.1 184.8h0.55M357.3 181.9h0.55M352.1 184.0h0.55M357.6 181.2h0.55M358.8 181.6h0.55M356.8 182.4h0.55M354.2 181.9h0.55M356.6 183.6h0.55M356.9 182.3h0.55M353.0 185.7h0.55M359.0 182.4h0.55M352.3 184.8h0.55M355.3 182.8h0.55M357.0 183.2h0.55M355.3 185.5h0.55M352.7 182.8h0.55M354.6 183.1h0.55M360.5 182.1h0.55M357.1 183.6h0.55M355.7 182.0h0.55M356.5 183.1h0.55M358.4 183.9h0.55M353.3 178.6h0.55M358.6 183.4h0.55M355.4 181.9h0.55M360.9 184.6h0.55M355.2 182.2h0.55M356.4 184.6h0.55M356.2 184.0h0.55M355.6 183.2h0.55M352.0 182.9h0.55M355.1 182.6h0.55M354.4 183.1h0.55M353.6 182.4h0.55M351.9 185.9h0.55M352.9 181.0h0.55M353.7 182.1h0.55M352.5 179.3h0.55M358.9 184.1h0.55M354.1 183.5h0.55M352.4 180.4h0.55M355.8 183.5h0.55M353.4 182.7h0.55M357.5 182.9h0.55M355.4 183.5h0.55M352.0 183.0h0.55M353.5 180.1h0.55M357.1 182.4h0.55M357.4 185.5h0.55M351.1 180.9h0.55M357.6 184.7h0.55M355.9 183.2h0.55M356.6 183.6h0.55M352.0 183.7h0.55M357.4 182.1h0.55M352.8 182.0h0.55M353.6 183.4h0.55M356.8 182.7h0.55M354.3 180.2h0.55M354.0 181.3h0.55M353.7 183.2h0.55M352.9 182.0h0.55M352.3 182.3h0.55M354.3 184.1h0.55M356.5 182.0h0.55M353.4 183.0h0.55M356.2 182.5h0.55M354.6 182.7h0.55M352.4 183.1h0.55M356.4 182.8h0.55M352.3 182.7h0.55M354.7 183.1h0.55M354.0 183.9h0.55M357.6 183.8h0.55M355.6 184.4h0.55M354.9 182.5h0.55M351.6 182.7h0.55M357.9 181.4h0.55M356.9 180.9h0.55M355.7 185.2h0.55M355.1 181.1h0.55M355.7 182.5h0.55M356.9 182.0h0.55M356.4 184.1h0.55M355.6 182.7h0.55M356.6 182.4h0.55M353.9 183.0h0.55M357.6 182.0h0.55M356.2 181.8h0.55M353.2 182.9h0.55M351.8 181.5h0.55M352.2 181.9h0.55M352.8 185.9h0.55M356.4 182.8h0.55M351.8 179.4h0.55M356.0 181.8h0.55M357.5 182.2h0.55M351.9 181.8h0.55M351.3 180.8h0.55M356.7 182.0h0.55M356.6 181.9h0.55M354.4 181.9h0.55M353.7 181.8h0.55M358.5 182.6h0.55M358.0 184.2h0.55M354.7 182.5h0.55M353.8 182.9h0.55M356.1 182.7h0.55M353.0 181.4h0.55M359.0 185.0h0.55M352.0 181.8h0.55M354.9 183.5h0.55M354.7 183.0h0.55M355.8 184.3h0.55M351.9 184.2h0.55M356.0 183.4h0.55M351.4 182.4h0.55M354.4 183.6h0.55M356.6 183.6h0.55M351.9 184.4h0.55M355.1 184.0h0.55M355.0 181.7h0.55M361.2 183.6h0.55M356.8 182.1h0.55M354.4 184.2h0.55M356.0 185.1h0.55M357.8 181.2h0.55M351.3 184.3h0.55M356.4 182.4h0.55M354.3 181.9h0.55M359.3 182.5h0.55M351.7 183.9h0.55M354.8 183.2h0.55M354.1 182.7h0.55M353.3 182.2h0.55M355.7 184.4h0.55M356.3 184.1h0.55M352.8 183.1h0.55M355.9 184.0h0.55M353.5 182.5h0.55M353.7 184.2h0.55M357.6 182.1h0.55M354.6 183.0h0.55M352.8 182.6h0.55M357.0 183.8h0.55M353.3 181.8h0.55M354.7 180.7h0.55M355.7 182.9h0.55M351.8 182.4h0.55M353.4 182.3h0.55M352.9 184.5h0.55M352.7 183.7h0.55M355.5 184.7h0.55M354.8 182.7h0.55M355.1 180.2h0.55M360.7 182.4h0.55M354.2 181.2h0.55M354.6 184.9h0.55M353.1 183.3h0.55M357.4 184.0h0.55M354.0 180.4h0.55M355.9 183.5h0.55M354.2 182.1h0.55M359.2 180.6h0.55M353.7 181.9h0.55M351.2 181.8h0.55M353.0 184.4h0.55M355.6 180.6h0.55M352.1 181.4h0.55M354.6 183.3h0.55M353.4 182.3h0.55M356.7 182.5h0.55M356.7 181.9h0.55M356.1 184.4h0.55M354.2 182.3h0.55M354.6 183.3h0.55M352.1 182.8h0.55M353.6 184.6h0.55M354.2 181.7h0.55M355.3 182.4h0.55M355.1 183.0h0.55M357.8 182.2h0.55M359.0 179.1h0.55M359.3 184.3h0.55M358.7 183.0h0.55M355.6 181.4h0.55M358.2 181.2h0.55M353.1 182.7h0.55M355.5 183.2h0.55M352.2 182.3h0.55M356.1 184.3h0.55M356.8 183.3h0.55M354.3 182.0h0.55M353.7 182.6h0.55M356.2 182.0h0.55M359.9 181.4h0.55M356.9 182.4h0.55M354.6 182.2h0.55M358.6 182.3h0.55M356.3 182.9h0.55M356.7 183.5h0.55M358.9 181.8h0.55M353.0 185.0h0.55M358.0 182.8h0.55M354.3 183.1h0.55M358.1 181.7h0.55M358.4 182.6h0.55M354.1 182.2h0.55M351.8 182.0h0.55M352.8 183.0h0.55M356.7 182.8h0.55M355.4 183.3h0.55M358.8 183.5h0.55M358.7 182.6h0.55M355.8 181.9h0.55M356.4 181.6h0.55M356.1 181.9h0.55M354.1 184.3h0.55M355.3 183.8h0.55M354.4 180.3h0.55M358.5 182.5h0.55M353.4 184.0h0.55M352.2 181.7h0.55M357.7 181.8h0.55M357.7 182.3h0.55M354.5 182.8h0.55M353.8 184.1h0.55M357.6 182.8h0.55M356.4 183.4h0.55M359.0 180.6h0.55M357.4 183.9h0.55M354.2 182.7h0.55M354.1 184.4h0.55M352.2 183.5h0.55M358.0 183.5h0.55M353.8 182.1h0.55M357.6 181.5h0.55M351.0 182.4h0.55M351.4 183.3h0.55M352.9 184.0h0.55M354.7 180.9h0.55M353.1 181.9h0.55M352.9 184.4h0.55M352.6 183.2h0.55M353.6 183.5h0.55M351.5 180.7h0.55M356.2 184.6h0.55M351.6 182.3h0.55M353.7 181.5h0.55M357.3 182.8h0.55M351.6 182.4h0.55M358.1 181.8h0.55M353.7 181.6h0.55M355.3 182.0h0.55M357.1 181.6h0.55M351.5 183.3h0.55M355.6 183.0h0.55M353.6 182.1h0.55M353.0 182.5h0.55M353.9 183.5h0.55M355.0 183.5h0.55M358.9 182.4h0.55M354.3 183.2h0.55M360.0 182.3h0.55M359.0 184.3h0.55M352.6 183.2h0.55M358.1 182.8h0.55M355.4 185.6h0.55M355.8 185.6h0.55M352.8 184.9h0.55M353.7 179.5h0.55M353.0 182.1h0.55M354.9 183.7h0.55M356.6 183.4h0.55M353.2 185.1h0.55M357.8 182.8h0.55M353.6 182.7h0.55M354.4 181.8h0.55M354.9 181.8h0.55M356.5 181.9h0.55M356.1 183.1h0.55M355.4 183.4h0.55M353.3 183.7h0.55M355.0 182.2h0.55M359.1 184.2h0.55M354.3 183.5h0.55M356.6 184.8h0.55M357.4 182.5h0.55M354.4 181.2h0.55M355.6 183.9h0.55M354.0 183.6h0.55M355.3 182.1h0.55M352.0 184.2h0.55M361.0 183.4h0.55M352.4 181.4h0.55M355.6 183.6h0.55M358.6 179.5h0.55M359.4 182.9h0.55M355.3 183.2h0.55M354.1 182.3h0.55M357.5 180.4h0.55M354.7 183.5h0.55M351.0 182.5h0.55M358.6 183.2h0.55M356.7 183.7h0.55M355.2 183.0h0.55M353.2 182.2h0.55M358.5 180.8h0.55M354.4 180.7h0.55M353.7 181.4h0.55M352.3 182.9h0.55M352.9 183.3h0.55M358.4 178.9h0.55M354.4 179.5h0.55M354.5 183.1h0.55M355.2 184.2h0.55M355.1 180.1h0.55M357.8 181.2h0.55M354.6 183.0h0.55M353.0 182.6h0.55M357.8 180.1h0.55M351.5 181.9h0.55M354.4 180.7h0.55M355.6 180.6h0.55M355.9 182.4h0.55M355.1 180.6h0.55M354.3 183.2h0.55M351.3 181.0h0.55M356.7 185.4h0.55M356.1 182.4h0.55M352.6 181.9h0.55M354.3 183.1h0.55M357.4 179.4h0.55M352.4 182.5h0.55M356.8 183.1h0.55M357.5 183.4h0.55M359.9 183.7h0.55M355.7 184.7h0.55M353.9 181.7h0.55M352.8 182.9h0.55M355.7 183.9h0.55M357.7 183.4h0.55M357.3 182.2h0.55M352.9 183.6h0.55M356.8 184.4h0.55M354.5 181.8h0.55M354.1 183.0h0.55M354.7 182.3h0.55M355.3 182.1h0.55M355.5 181.7h0.55M351.7 182.1h0.55M358.6 181.4h0.55M356.6 184.4h0.55M353.7 182.9h0.55M357.9 182.8h0.55M353.3 182.7h0.55M355.4 181.9h0.55M354.2 181.3h0.55M355.9 182.8h0.55M355.5 181.8h0.55M355.8 182.1h0.55M355.4 182.3h0.55M353.5 180.9h0.55M351.1 180.6h0.55M351.5 181.3h0.55M354.4 180.8h0.55M355.6 185.5h0.55M357.3 180.8h0.55M354.6 181.6h0.55M356.3 180.4h0.55M355.4 182.8h0.55M355.9 183.1h0.55M355.1 179.9h0.55M354.1 181.1h0.55M355.9 182.2h0.55M355.1 184.1h0.55M354.6 184.9h0.55M356.5 180.4h0.55M353.6 184.3h0.55M353.8 184.2h0.55M353.7 182.3h0.55M356.9 180.2h0.55M355.0 181.9h0.55M355.1 185.0h0.55M355.8 180.6h0.55M356.7 181.9h0.55M355.1 184.2h0.55M354.2 183.9h0.55M355.2 181.2h0.55M354.2 180.5h0.55M357.2 182.7h0.55M356.7 180.9h0.55M356.5 180.8h0.55M355.4 182.5h0.55M353.6 183.0h0.55M354.9 181.2h0.55M353.3 180.6h0.55M357.5 182.7h0.55M354.1 183.5h0.55M353.1 180.8h0.55M355.5 184.8h0.55M355.4 182.7h0.55M358.3 180.3h0.55M360.9 180.9h0.55M354.7 180.6h0.55M352.4 182.2h0.55M359.7 181.1h0.55M353.6 182.9h0.55M352.8 182.1h0.55M356.4 179.3h0.55M354.2 182.1h0.55M353.8 182.3h0.55M351.2 181.9h0.55M353.8 181.0h0.55M357.3 185.4h0.55M356.4 181.2h0.55M357.6 183.2h0.55M353.2 183.4h0.55M353.6 183.3h0.55M356.6 184.2h0.55M352.7 182.3h0.55M354.8 180.7h0.55M355.6 183.5h0.55M352.0 181.7h0.55M352.6 180.7h0.55M352.7 184.5h0.55M353.5 181.9h0.55M356.8 184.0h0.55M357.6 179.5h0.55M356.3 179.9h0.55M353.5 181.9h0.55M353.7 185.4h0.55M354.5 184.2h0.55M354.4 182.4h0.55M355.8 183.1h0.55M355.8 180.0h0.55M355.8 183.0h0.55M356.0 182.4h0.55M355.6 180.6h0.55M357.1 180.7h0.55M357.6 184.0h0.55M354.7 182.1h0.55M356.4 182.1h0.55M352.4 182.9h0.55M352.4 181.8h0.55M358.4 183.7h0.55M353.9 182.4h0.55M353.5 182.5h0.55M351.9 183.5h0.55M354.8 181.6h0.55M353.9 181.8h0.55M353.6 181.8h0.55M357.4 183.5h0.55M355.6 183.0h0.55M352.5 179.0h0.55M357.8 183.5h0.55M355.2 182.9h0.55M355.2 182.5h0.55M354.3 179.3h0.55M355.9 182.6h0.55M356.8 182.9h0.55M354.2 183.4h0.55M355.2 181.9h0.55M354.0 181.9h0.55M354.2 181.9h0.55M354.6 184.1h0.55M353.9 182.3h0.55M353.3 180.5h0.55M353.1 181.8h0.55M355.1 182.0h0.55M352.4 182.0h0.55M357.8 181.2h0.55M354.9 184.0h0.55M353.2 181.7h0.55M360.6 184.3h0.55M353.7 182.7h0.55M355.0 182.7h0.55M355.7 182.1h0.55M355.1 180.5h0.55M354.2 184.7h0.55M355.3 181.5h0.55M355.1 184.0h0.55M351.4 180.7h0.55M353.5 181.9h0.55M354.6 181.7h0.55M355.0 182.6h0.55M352.5 181.6h0.55M352.3 182.9h0.55M355.3 183.5h0.55M353.0 181.7h0.55M351.6 183.0h0.55M357.0 183.1h0.55M360.6 183.0h0.4M359.9 184.0h0.4M362.2 185.4h0.4M358.3 183.8h0.4M361.2 183.3h0.4M359.7 181.0h0.4M361.7 181.5h0.4M357.4 181.5h0.4M360.4 181.4h0.4M360.1 183.5h0.4M359.3 182.2h0.4M360.5 184.5h0.4M357.8 181.3h0.4M357.5 181.5h0.4M358.4 182.5h0.4M353.3 184.7h0.4M357.0 182.1h0.4M354.1 180.0h0.4M356.5 183.0h0.4M361.1 180.2h0.4M359.6 184.8h0.4M358.3 183.9h0.4M359.8 181.4h0.4M361.5 181.9h0.4M359.9 182.2h0.4M366.8 181.4h0.4M375.3 178.2h0.4M361.9 181.3h0.4M373.3 180.8h0.4M367.0 182.0h0.4M376.6 179.5h0.4M359.2 180.6h0.4M372.2 178.8h0.4M374.2 182.7h0.4M372.3 179.6h0.4M360.9 182.2h0.4M369.4 182.3h0.4M360.6 175.9h0.4M374.1 182.8h0.4M366.5 181.1h0.4M370.5 182.4h0.4M367.0 180.2h0.4M362.6 182.9h0.4M368.5 175.2h0.4M369.9 180.1h0.4M367.2 172.5h0.55M367.2 172.5h0.55M369.1 173.2h0.55M367.9 171.4h0.55M368.9 171.7h0.55M372.4 172.5h0.55M366.2 172.2h0.55M370.4 172.7h0.55M365.7 172.8h0.55M371.3 173.4h0.55M373.3 172.5h0.55M367.1 172.6h0.55M372.2 171.9h0.55M373.8 171.8h0.55M367.6 173.5h0.55M370.2 173.0h0.55M369.7 172.8h0.55M369.0 174.2h0.55M372.2 172.5h0.55M371.7 173.3h0.55M369.1 172.9h0.55M371.0 172.2h0.55M368.5 172.6h0.55M369.7 172.4h0.55M365.5 173.0h0.55M372.2 172.7h0.55M374.9 173.2h0.55M369.6 172.2h0.55M371.8 172.4h0.55M366.3 173.0h0.55M369.7 172.6h0.55M372.1 172.8h0.55M375.7 171.9h0.55M370.2 172.9h0.55M369.4 172.4h0.55M375.0 171.4h0.55M371.4 171.3h0.55M371.4 171.2h0.55M367.5 173.7h0.55M374.5 172.6h0.55M363.5 173.8h0.55M371.1 171.8h0.55M369.6 171.7h0.55M370.3 172.6h0.55M370.8 173.3h0.55M368.8 171.1h0.55M367.5 171.9h0.55M369.5 172.4h0.55M370.4 173.7h0.55M370.6 171.9h0.55M369.7 172.1h0.55M369.9 173.2h0.55M367.6 173.4h0.55M375.1 173.6h0.55M374.7 172.6h0.55M367.0 174.4h0.55M370.4 172.9h0.55M369.6 172.0h0.55M372.1 171.6h0.55M366.9 173.3h0.55M369.5 172.1h0.55M371.8 173.7h0.55M369.8 172.6h0.55M372.0 173.3h0.55M373.2 173.1h0.55M368.8 173.2h0.55M370.5 171.4h0.55M373.7 173.0h0.55M374.0 172.5h0.55M372.4 172.6h0.55M370.9 173.4h0.55M370.6 173.2h0.55M370.4 173.6h0.55M372.2 171.4h0.55M374.8 172.8h0.55M369.2 172.3h0.55M375.6 172.5h0.55M371.8 173.1h0.55M369.0 174.1h0.55M375.9 171.9h0.55M369.2 171.7h0.4M361.2 173.4h0.4M363.3 173.8h0.4M365.2 173.7h0.4M362.3 173.6h0.4M360.0 175.2h0.4M363.3 174.5h0.4M363.6 173.2h0.4M362.0 172.1h0.4M374.4 173.7h0.4M363.7 172.9h0.4M370.0 173.0h0.4M360.5 172.8h0.4M371.4 173.6h0.4M362.2 172.7h0.4M370.0 173.6h0.4M361.2 174.2h0.4M367.8 172.3h0.4M369.3 174.3h0.4M361.7 172.0h0.4M369.0 173.0h0.4M361.9 173.0h0.4M361.5 174.1h0.4M357.1 173.8h0.4M369.3 174.3h0.4M367.0 173.6h0.4M362.0 173.2h0.4M358.2 174.9h0.4M362.4 172.3h0.4M367.6 174.7h0.4M364.5 173.0h0.4M357.0 173.9h0.4M361.7 172.7h0.4M366.3 172.1h0.4M367.0 171.0h0.4M359.7 171.9h0.4M361.7 174.1h0.4M356.0 174.6h0.4M359.3 172.8h0.4M368.4 172.6h0.4" stroke="#000" stroke-width="0.55" stroke-opacity="0.8" fill="none"/>
<line x1="214.4" y1="196.10000000000002" x2="214.4" y2="171.2" stroke="#111" stroke-width="0.7"/>
<line x1="214.1" y1="195.8" x2="239.3" y2="195.8" stroke="#111" stroke-width="0.7"/>
<path d="M214.4 169.2l-1.5 3.2h3z" fill="#111"/>
<path d="M241.3 195.8l-3.2 -1.5v3z" fill="#111"/>
<line x1="277.0" y1="196.10000000000002" x2="277.0" y2="171.2" stroke="#111" stroke-width="0.7"/>
<line x1="276.7" y1="195.8" x2="302.5" y2="195.8" stroke="#111" stroke-width="0.7"/>
<path d="M277.0 169.2l-1.5 3.2h3z" fill="#111"/>
<path d="M304.5 195.8l-3.2 -1.5v3z" fill="#111"/>
<line x1="339.5" y1="196.10000000000002" x2="339.5" y2="171.2" stroke="#111" stroke-width="0.7"/>
<line x1="339.2" y1="195.8" x2="365.0" y2="195.8" stroke="#111" stroke-width="0.7"/>
<path d="M339.5 169.2l-1.5 3.2h3z" fill="#111"/>
<path d="M367.0 195.8l-3.2 -1.5v3z" fill="#111"/>
<text x="209.3" y="183.3" font-size="7.2" font-weight="bold" text-anchor="middle" fill="#111" stroke="#111" stroke-width="0.25" transform="rotate(-90 209.3 183.3)">CD25</text>
<text x="271.2" y="182.5" font-size="7.2" font-weight="bold" text-anchor="middle" fill="#111" stroke="#111" stroke-width="0.25" transform="rotate(-90 271.2 182.5)">Foxp3</text>
<text x="334.0" y="182.5" font-size="7.2" font-weight="bold" text-anchor="middle" fill="#111" stroke="#111" stroke-width="0.25" transform="rotate(-90 334.0 182.5)">Foxp3</text>
<text x="218.7" y="203.6" font-size="7.4" font-weight="bold" text-anchor="start" fill="#111" stroke="#111" stroke-width="0.25">CD4</text>
<text x="281.5" y="203.6" font-size="7.4" font-weight="bold" text-anchor="start" fill="#111" stroke="#111" stroke-width="0.25">CD4</text>
<text x="342.8" y="203.6" font-size="7.4" font-weight="bold" text-anchor="start" fill="#111" stroke="#111" stroke-width="0.25">CD25</text>
<text x="388.0" y="30.2" font-size="8.0" font-weight="bold" text-anchor="start" fill="#111" stroke="#111" stroke-width="0.25" textLength="88" lengthAdjust="spacingAndGlyphs">Untreated recipient mice</text>
<text x="388.0" y="73.6" font-size="8.0" font-weight="bold" text-anchor="start" fill="#111" stroke="#111" stroke-width="0.25" textLength="98" lengthAdjust="spacingAndGlyphs">mDC-treated recipient mice</text>
<text x="389.2" y="119.2" font-size="8.0" font-weight="bold" text-anchor="start" fill="#111" stroke="#111" stroke-width="0.25" textLength="100" lengthAdjust="spacingAndGlyphs">DC<tspan font-size="5.2">reg</tspan>-treated recipient mice</text>
<text x="389.2" y="173.4" font-size="8.0" font-weight="bold" text-anchor="start" fill="#111" stroke="#111" stroke-width="0.25" textLength="45" lengthAdjust="spacingAndGlyphs">Normal mice</text>
<line x1="25.0" y1="236.5" x2="25.0" y2="403.3" stroke="#999" stroke-width="0.9"/>
<line x1="24.7" y1="403.0" x2="152.7" y2="403.0" stroke="#888" stroke-width="0.9"/>
<text x="23.7" y="406.09999999999997" font-size="5.4" font-weight="bold" text-anchor="end" fill="#111" stroke="#111" stroke-width="0.25">0</text>
<line x1="23.8" y1="403.3" x2="25.0" y2="403.3" stroke="#333" stroke-width="0.5"/>
<text x="23.7" y="364.59999999999997" font-size="5.4" font-weight="bold" text-anchor="end" fill="#111" stroke="#111" stroke-width="0.25">10</text>
<line x1="23.8" y1="361.8" x2="25.0" y2="361.8" stroke="#333" stroke-width="0.5"/>
<text x="23.7" y="323.0" font-size="5.4" font-weight="bold" text-anchor="end" fill="#111" stroke="#111" stroke-width="0.25">20</text>
<line x1="23.8" y1="320.20000000000005" x2="25.0" y2="320.20000000000005" stroke="#333" stroke-width="0.5"/>
<text x="23.7" y="281.4" font-size="5.4" font-weight="bold" text-anchor="end" fill="#111" stroke="#111" stroke-width="0.25">30</text>
<line x1="23.8" y1="278.6" x2="25.0" y2="278.6" stroke="#333" stroke-width="0.5"/>
<text x="23.7" y="239.8" font-size="5.4" font-weight="bold" text-anchor="end" fill="#111" stroke="#111" stroke-width="0.25">40</text>
<line x1="23.8" y1="237.0" x2="25.0" y2="237.0" stroke="#333" stroke-width="0.5"/>
<text x="10.6" y="322.6" font-size="7.6" font-weight="bold" text-anchor="middle" fill="#111" stroke="#111" stroke-width="0.25" transform="rotate(-90 10.6 322.6)" textLength="55.5" lengthAdjust="spacingAndGlyphs">% positive cells</text>
<rect x="29.60" y="328.30" width="11.40" height="74.70" fill="#fff" stroke="#222" stroke-width="0.5"/>
<rect x="41.00" y="380.70" width="11.40" height="22.30" fill="#050505"/>
<line x1="35.3" y1="328.3" x2="35.3" y2="319.0" stroke="#333" stroke-width="0.55"/>
<line x1="32.699999999999996" y1="319.0" x2="37.9" y2="319.0" stroke="#333" stroke-width="0.55"/>
<line x1="46.7" y1="380.7" x2="46.7" y2="371.8" stroke="#333" stroke-width="0.55"/>
<line x1="44.1" y1="371.8" x2="49.300000000000004" y2="371.8" stroke="#333" stroke-width="0.55"/>
<text x="35.3" y="317.6" font-size="5.0" text-anchor="middle" fill="#000" stroke="#000" stroke-width="0.35" font-family="DejaVu Sans, sans-serif">★</text>
<rect x="62.00" y="273.10" width="10.90" height="129.90" fill="#fff" stroke="#222" stroke-width="0.5"/>
<rect x="72.90" y="382.70" width="11.10" height="20.30" fill="#050505"/>
<line x1="67.45" y1="273.1" x2="67.45" y2="264.8" stroke="#333" stroke-width="0.55"/>
<line x1="64.85000000000001" y1="264.8" x2="70.05" y2="264.8" stroke="#333" stroke-width="0.55"/>
<line x1="78.45" y1="382.7" x2="78.45" y2="374.4" stroke="#333" stroke-width="0.55"/>
<line x1="75.85000000000001" y1="374.4" x2="81.05" y2="374.4" stroke="#333" stroke-width="0.55"/>
<text x="67.45" y="263.4" font-size="5.0" text-anchor="middle" fill="#000" stroke="#000" stroke-width="0.35" font-family="DejaVu Sans, sans-serif">★</text>
<rect x="93.60" y="292.60" width="10.90" height="110.40" fill="#fff" stroke="#222" stroke-width="0.5"/>
<rect x="104.50" y="310.80" width="11.30" height="92.20" fill="#050505"/>
<line x1="99.05" y1="292.6" x2="99.05" y2="283.3" stroke="#333" stroke-width="0.55"/>
<line x1="96.45" y1="283.3" x2="101.64999999999999" y2="283.3" stroke="#333" stroke-width="0.55"/>
<line x1="110.15" y1="310.8" x2="110.15" y2="302.7" stroke="#333" stroke-width="0.55"/>
<line x1="107.55000000000001" y1="302.7" x2="112.75" y2="302.7" stroke="#333" stroke-width="0.55"/>
<text x="99.05" y="281.9" font-size="5.0" text-anchor="middle" fill="#000" stroke="#000" stroke-width="0.35" font-family="DejaVu Sans, sans-serif">★</text>
<text x="110.15" y="301.3" font-size="5.0" text-anchor="middle" fill="#000" stroke="#000" stroke-width="0.35" font-family="DejaVu Sans, sans-serif">★</text>
<rect x="124.90" y="360.20" width="11.40" height="42.80" fill="#fff" stroke="#222" stroke-width="0.5"/>
<rect x="136.30" y="368.90" width="11.60" height="34.10" fill="#050505"/>
<line x1="130.60000000000002" y1="360.2" x2="130.60000000000002" y2="351.7" stroke="#333" stroke-width="0.55"/>
<line x1="128.00000000000003" y1="351.7" x2="133.20000000000002" y2="351.7" stroke="#333" stroke-width="0.55"/>
<line x1="142.10000000000002" y1="368.9" x2="142.10000000000002" y2="360.2" stroke="#333" stroke-width="0.55"/>
<line x1="139.50000000000003" y1="360.2" x2="144.70000000000002" y2="360.2" stroke="#333" stroke-width="0.55"/>
<text x="43.5" y="408.6" font-size="5.7" font-weight="bold" text-anchor="end" fill="#111" stroke="#111" stroke-width="0.25" transform="rotate(-39 43.5 408.6)">Untreated</text>
<text x="75.0" y="408.4" font-size="5.7" font-weight="bold" text-anchor="end" fill="#111" stroke="#111" stroke-width="0.25" transform="rotate(-39 75.0 408.4)">mDCs</text>
<text x="138.5" y="408.4" font-size="5.7" font-weight="bold" text-anchor="end" fill="#111" stroke="#111" stroke-width="0.25" transform="rotate(-39 138.5 408.4)">Normal</text>
<text x="107.0" y="408.4" font-size="5.7" font-weight="bold" text-anchor="end" fill="#111" stroke="#111" stroke-width="0.25" transform="rotate(-39 107.0 408.4)">DC<tspan font-size="4.2">reg</tspan></text>
<line x1="17.7" y1="427.0" x2="111.5" y2="427.0" stroke="#888" stroke-width="0.8"/>
<text x="66.5" y="433.8" font-size="5.8" font-weight="bold" text-anchor="middle" fill="#111" stroke="#111" stroke-width="0.25">Recipient mice</text>
<rect x="75.20" y="254.40" width="2.10" height="2.10" fill="#fff" stroke="#222" stroke-width="0.5"/>
<rect x="75.10" y="261.20" width="2.50" height="2.50" fill="#000"/>
<text x="80.3" y="258.0" font-size="5.8" font-weight="bold" text-anchor="start" fill="#111" stroke="#111" stroke-width="0.25">CD4<tspan font-size="3.4" baseline-shift="super">+</tspan>CD25<tspan font-size="3.4" baseline-shift="super">+</tspan>T cells</text>
<text x="80.3" y="264.8" font-size="5.8" font-weight="bold" text-anchor="start" fill="#111" stroke="#111" stroke-width="0.25">CD4<tspan font-size="3.4" baseline-shift="super">+</tspan>CD25<tspan font-size="3.4" baseline-shift="super">+</tspan>Foxp3<tspan font-size="3.4" baseline-shift="super">+</tspan>T cells</text>
<line x1="187.8" y1="242.0" x2="187.8" y2="410.40000000000003" stroke="#999" stroke-width="0.9"/>
<line x1="187.5" y1="410.1" x2="294.8" y2="410.1" stroke="#999" stroke-width="0.9"/>
<text x="186.3" y="412.9" font-size="5.4" font-weight="bold" text-anchor="end" fill="#111" stroke="#111" stroke-width="0.25">0</text>
<line x1="186.60000000000002" y1="410.1" x2="187.8" y2="410.1" stroke="#333" stroke-width="0.5"/>
<text x="186.3" y="378.9" font-size="5.4" font-weight="bold" text-anchor="end" fill="#111" stroke="#111" stroke-width="0.25">10</text>
<line x1="186.60000000000002" y1="376.1" x2="187.8" y2="376.1" stroke="#333" stroke-width="0.5"/>
<text x="186.3" y="345.7" font-size="5.4" font-weight="bold" text-anchor="end" fill="#111" stroke="#111" stroke-width="0.25">20</text>
<line x1="186.60000000000002" y1="342.90000000000003" x2="187.8" y2="342.90000000000003" stroke="#333" stroke-width="0.5"/>
<text x="186.3" y="312.59999999999997" font-size="5.4" font-weight="bold" text-anchor="end" fill="#111" stroke="#111" stroke-width="0.25">30</text>
<line x1="186.60000000000002" y1="309.8" x2="187.8" y2="309.8" stroke="#333" stroke-width="0.5"/>
<text x="186.3" y="279.29999999999995" font-size="5.4" font-weight="bold" text-anchor="end" fill="#111" stroke="#111" stroke-width="0.25">40</text>
<line x1="186.60000000000002" y1="276.5" x2="187.8" y2="276.5" stroke="#333" stroke-width="0.5"/>
<text x="186.3" y="245.9" font-size="5.4" font-weight="bold" text-anchor="end" fill="#111" stroke="#111" stroke-width="0.25">50</text>
<line x1="186.60000000000002" y1="243.1" x2="187.8" y2="243.1" stroke="#333" stroke-width="0.5"/>
<text x="172.3" y="327.7" font-size="7.0" font-weight="bold" text-anchor="middle" fill="#111" stroke="#111" stroke-width="0.25" transform="rotate(-90 172.3 327.7)" textLength="102.5" lengthAdjust="spacingAndGlyphs">[<tspan font-size="4" baseline-shift="super">3</tspan>H] thymidine uptake (x10<tspan font-size="4" baseline-shift="super">-3</tspan>)</text>
<polyline points="206.0,314.1 223.2,308.5 241.4,295.6 259.1,272.9 276.8,258.5" fill="none" stroke="#222" stroke-width="0.7"/>
<polyline points="206.0,314.1 223.2,312.8 241.4,303.3 259.1,282.5 276.8,271.9" fill="none" stroke="#222" stroke-width="0.7"/>
<polyline points="206.0,314.1 223.2,321.3 241.4,335.2 259.1,369.3 276.8,387.0" fill="none" stroke="#222" stroke-width="0.7"/>
<polyline points="206.0,314.1 223.2,336.4 241.4,346.6 259.1,380.7 276.8,395.9" fill="none" stroke="#222" stroke-width="0.7"/>
<line x1="206.0" y1="311.5" x2="206.0" y2="316.70000000000005" stroke="#444" stroke-width="0.5"/>
<line x1="206.0" y1="311.5" x2="206.0" y2="316.70000000000005" stroke="#444" stroke-width="0.5"/>
<line x1="206.0" y1="311.70000000000005" x2="206.0" y2="316.5" stroke="#444" stroke-width="0.5"/>
<line x1="206.0" y1="311.70000000000005" x2="206.0" y2="316.5" stroke="#444" stroke-width="0.5"/>
<line x1="223.2" y1="305.9" x2="223.2" y2="311.1" stroke="#444" stroke-width="0.5"/>
<line x1="223.2" y1="310.2" x2="223.2" y2="315.40000000000003" stroke="#444" stroke-width="0.5"/>
<line x1="223.2" y1="318.90000000000003" x2="223.2" y2="323.7" stroke="#444" stroke-width="0.5"/>
<line x1="223.2" y1="334.0" x2="223.2" y2="338.79999999999995" stroke="#444" stroke-width="0.5"/>
<line x1="241.4" y1="293.0" x2="241.4" y2="298.20000000000005" stroke="#444" stroke-width="0.5"/>
<line x1="241.4" y1="300.7" x2="241.4" y2="305.90000000000003" stroke="#444" stroke-width="0.5"/>
<line x1="241.4" y1="332.8" x2="241.4" y2="337.59999999999997" stroke="#444" stroke-width="0.5"/>
<line x1="241.4" y1="344.20000000000005" x2="241.4" y2="349.0" stroke="#444" stroke-width="0.5"/>
<line x1="259.1" y1="270.29999999999995" x2="259.1" y2="275.5" stroke="#444" stroke-width="0.5"/>
<line x1="259.1" y1="279.9" x2="259.1" y2="285.1" stroke="#444" stroke-width="0.5"/>
<line x1="259.1" y1="366.90000000000003" x2="259.1" y2="371.7" stroke="#444" stroke-width="0.5"/>
<line x1="259.1" y1="378.3" x2="259.1" y2="383.09999999999997" stroke="#444" stroke-width="0.5"/>
<line x1="276.8" y1="255.9" x2="276.8" y2="261.1" stroke="#444" stroke-width="0.5"/>
<line x1="276.8" y1="269.29999999999995" x2="276.8" y2="274.5" stroke="#444" stroke-width="0.5"/>
<line x1="276.8" y1="384.6" x2="276.8" y2="389.4" stroke="#444" stroke-width="0.5"/>
<line x1="276.8" y1="393.5" x2="276.8" y2="398.29999999999995" stroke="#444" stroke-width="0.5"/>
<path d="M206.0 312.70000000000005L207.33 315.15000000000003H204.67z" fill="#fff" stroke="#111" stroke-width="0.5"/>
<path d="M206.0 312.70000000000005L207.33 315.15000000000003H204.67z" fill="#000" stroke="#111" stroke-width="0.5"/>
<circle cx="206.0" cy="314.1" r="1.3" fill="#fff" stroke="#111" stroke-width="0.55"/>
<circle cx="206.0" cy="314.1" r="1.45" fill="#000"/>
<path d="M223.2 335.0L224.53 337.45H221.86999999999998z" fill="#fff" stroke="#111" stroke-width="0.5"/>
<path d="M223.2 319.90000000000003L224.53 322.35H221.86999999999998z" fill="#000" stroke="#111" stroke-width="0.5"/>
<circle cx="223.2" cy="312.8" r="1.3" fill="#fff" stroke="#111" stroke-width="0.55"/>
<circle cx="223.2" cy="308.5" r="1.45" fill="#000"/>
<path d="M241.4 345.20000000000005L242.73000000000002 347.65000000000003H240.07z" fill="#fff" stroke="#111" stroke-width="0.5"/>
<path d="M241.4 333.8L242.73000000000002 336.25H240.07z" fill="#000" stroke="#111" stroke-width="0.5"/>
<circle cx="241.4" cy="303.3" r="1.3" fill="#fff" stroke="#111" stroke-width="0.55"/>
<circle cx="241.4" cy="295.6" r="1.45" fill="#000"/>
<path d="M259.1 379.3L260.43 381.75H257.77000000000004z" fill="#fff" stroke="#111" stroke-width="0.5"/>
<path d="M259.1 367.90000000000003L260.43 370.35H257.77000000000004z" fill="#000" stroke="#111" stroke-width="0.5"/>
<circle cx="259.1" cy="282.5" r="1.3" fill="#fff" stroke="#111" stroke-width="0.55"/>
<circle cx="259.1" cy="272.9" r="1.45" fill="#000"/>
<path d="M276.8 394.5L278.13 396.95H275.47z" fill="#fff" stroke="#111" stroke-width="0.5"/>
<path d="M276.8 385.6L278.13 388.05H275.47z" fill="#000" stroke="#111" stroke-width="0.5"/>
<circle cx="276.8" cy="271.9" r="1.3" fill="#fff" stroke="#111" stroke-width="0.55"/>
<circle cx="276.8" cy="258.5" r="1.45" fill="#000"/>
<text x="241.4" y="291.43" font-size="4.8" text-anchor="middle" fill="#000" stroke="#000" stroke-width="0.5" font-family="DejaVu Sans, sans-serif">★</text>
<text x="241.4" y="300.63" font-size="4.8" text-anchor="middle" fill="#000" stroke="#000" stroke-width="0.5" font-family="DejaVu Sans, sans-serif">★</text>
<text x="259.1" y="269.73" font-size="4.8" text-anchor="middle" fill="#000" stroke="#000" stroke-width="0.5" font-family="DejaVu Sans, sans-serif">★</text>
<text x="259.1" y="279.23" font-size="4.8" text-anchor="middle" fill="#000" stroke="#000" stroke-width="0.5" font-family="DejaVu Sans, sans-serif">★</text>
<text x="276.8" y="255.33" font-size="4.8" text-anchor="middle" fill="#000" stroke="#000" stroke-width="0.5" font-family="DejaVu Sans, sans-serif">★</text>
<text x="276.8" y="268.43" font-size="4.8" text-anchor="middle" fill="#000" stroke="#000" stroke-width="0.5" font-family="DejaVu Sans, sans-serif">★</text>
<text x="223.2" y="331.73" font-size="4.8" text-anchor="middle" fill="#000" stroke="#000" stroke-width="0.5" font-family="DejaVu Sans, sans-serif">★</text>
<text x="241.4" y="343.23" font-size="4.8" text-anchor="middle" fill="#000" stroke="#000" stroke-width="0.5" font-family="DejaVu Sans, sans-serif">★</text>
<text x="259.1" y="377.33" font-size="4.8" text-anchor="middle" fill="#000" stroke="#000" stroke-width="0.5" font-family="DejaVu Sans, sans-serif">★</text>
<text x="276.8" y="393.03" font-size="4.8" text-anchor="middle" fill="#000" stroke="#000" stroke-width="0.5" font-family="DejaVu Sans, sans-serif">★</text>
<text x="223.2" y="418.0" font-size="5.6" font-weight="bold" text-anchor="middle" fill="#111" stroke="#111" stroke-width="0.25">1:8</text>
<text x="241.4" y="418.0" font-size="5.6" font-weight="bold" text-anchor="middle" fill="#111" stroke="#111" stroke-width="0.25">1:4</text>
<text x="259.1" y="418.0" font-size="5.6" font-weight="bold" text-anchor="middle" fill="#111" stroke="#111" stroke-width="0.25">1:2</text>
<text x="276.8" y="418.0" font-size="5.6" font-weight="bold" text-anchor="middle" fill="#111" stroke="#111" stroke-width="0.25">1:1</text>
<text x="206.5" y="418.0" font-size="5.6" font-weight="bold" text-anchor="middle" fill="#111" stroke="#111" stroke-width="0.25">Resp.</text>
<text x="206.5" y="424.4" font-size="5.6" font-weight="bold" text-anchor="middle" fill="#111" stroke="#111" stroke-width="0.25">alone</text>
<line x1="216.5" y1="420.7" x2="294.5" y2="420.7" stroke="#888" stroke-width="0.8"/>
<text x="216.8" y="427.3" font-size="6.0" font-weight="bold" text-anchor="start" fill="#111" stroke="#111" stroke-width="0.25" textLength="77.5" lengthAdjust="spacingAndGlyphs">Suppressor/Responder ratio</text>
<circle cx="193.6" cy="237.5" r="1.2" fill="#fff" stroke="#222" stroke-width="0.5"/>
<circle cx="193.6" cy="244.2" r="1.4" fill="#000"/>
<path d="M193.6 249.6L194.93 252.05H192.26999999999998z" fill="#fff" stroke="#111" stroke-width="0.5"/>
<path d="M193.6 256.40000000000003L194.93 258.85H192.26999999999998z" fill="#000" stroke="#111" stroke-width="0.5"/>
<text x="198.5" y="239.4" font-size="6.1" font-weight="bold" text-anchor="start" fill="#111" stroke="#111" stroke-width="0.25" textLength="65" lengthAdjust="spacingAndGlyphs">Untreated recipient mice</text>
<text x="198.5" y="246.3" font-size="6.1" font-weight="bold" text-anchor="start" fill="#111" stroke="#111" stroke-width="0.25" textLength="73" lengthAdjust="spacingAndGlyphs">mDC-treated recipient mice</text>
<text x="198.5" y="252.9" font-size="6.1" font-weight="bold" text-anchor="start" fill="#111" stroke="#111" stroke-width="0.25" textLength="75" lengthAdjust="spacingAndGlyphs">DC<tspan font-size="4">reg</tspan>-treated recipient mice</text>
<text x="198.5" y="259.5" font-size="6.1" font-weight="bold" text-anchor="start" fill="#111" stroke="#111" stroke-width="0.25" textLength="33" lengthAdjust="spacingAndGlyphs">Normal mice</text>
<rect x="322.50" y="242.50" width="34.00" height="31.00" fill="#fff" stroke="#3a3a3a" stroke-width="0.55"/>
<line x1="333.5" y1="242.5" x2="333.5" y2="273.5" stroke="#444" stroke-width="0.5"/>
<line x1="322.5" y1="262.5" x2="356.5" y2="262.5" stroke="#444" stroke-width="0.5"/>
<path d="M324.62 273.5v0.7M322.5 244.44h-0.7M326.75 273.5v0.7M322.5 246.38h-0.7M328.88 273.5v0.7M322.5 248.31h-0.7M331.00 273.5v1.2M322.5 250.25h-1.2M333.12 273.5v0.7M322.5 252.19h-0.7M335.25 273.5v0.7M322.5 254.12h-0.7M337.38 273.5v0.7M322.5 256.06h-0.7M339.50 273.5v1.2M322.5 258.00h-1.2M341.62 273.5v0.7M322.5 259.94h-0.7M343.75 273.5v0.7M322.5 261.88h-0.7M345.88 273.5v0.7M322.5 263.81h-0.7M348.00 273.5v1.2M322.5 265.75h-1.2M350.12 273.5v0.7M322.5 267.69h-0.7M352.25 273.5v0.7M322.5 269.62h-0.7M354.38 273.5v0.7M322.5 271.56h-0.7" stroke="#555" stroke-width="0.35" fill="none"/>
<text x="321.3" y="244.1" font-size="3.0" font-weight="bold" text-anchor="end" fill="#333">10<tspan font-size="2.2" baseline-shift="super">4</tspan></text>
<text x="321.3" y="273.3" font-size="3.0" font-weight="bold" text-anchor="end" fill="#333">10<tspan font-size="2.2" baseline-shift="super">0</tspan></text>
<text x="323.1" y="277.1" font-size="3.0" font-weight="bold" text-anchor="middle" fill="#333">10<tspan font-size="2.2" baseline-shift="super">0</tspan></text>
<text x="356.7" y="277.1" font-size="3.0" font-weight="bold" text-anchor="middle" fill="#333">10<tspan font-size="2.2" baseline-shift="super">4</tspan></text>
<path d="M331.1 266.3h0.55M328.4 266.0h0.55M330.6 266.8h0.55M327.8 266.3h0.55M327.5 268.0h0.55M327.4 269.6h0.55M328.6 266.6h0.55M329.4 269.9h0.55M325.0 269.8h0.55M330.5 267.2h0.55M330.0 264.4h0.55M327.3 270.0h0.55M328.5 267.9h0.55M329.7 267.9h0.55M329.4 266.5h0.55M328.1 270.2h0.55M327.8 265.5h0.55M328.0 269.5h0.55M331.7 266.7h0.55M327.6 269.2h0.55M329.1 269.6h0.55M329.5 268.7h0.55M329.5 268.1h0.55M327.1 268.0h0.55M331.4 269.0h0.55M330.3 267.7h0.55M328.4 268.4h0.55M328.1 269.9h0.55M328.1 266.6h0.55M325.9 271.6h0.55M327.3 266.7h0.55M329.3 270.6h0.55M329.8 266.6h0.55M329.6 265.8h0.55M328.2 267.9h0.55M328.7 269.1h0.55M329.6 270.7h0.55M330.1 266.6h0.55M329.1 266.0h0.55M327.6 267.5h0.55M330.4 265.8h0.55M326.0 267.0h0.55M326.6 268.2h0.55M328.1 265.8h0.55M327.3 267.5h0.55M329.3 268.5h0.55M330.9 266.3h0.55M329.7 267.4h0.55M326.8 267.3h0.55M332.4 265.9h0.55M331.5 268.0h0.55M331.5 266.2h0.55M330.2 266.5h0.55M326.8 266.4h0.55M329.4 264.5h0.55M329.3 265.9h0.55M329.3 265.0h0.55M330.1 266.7h0.55M326.1 266.2h0.55M328.8 264.7h0.55M329.2 268.3h0.55M327.5 270.6h0.55M331.1 267.3h0.55M329.4 268.2h0.55M328.2 270.2h0.55M327.8 263.6h0.55M328.7 268.4h0.55M330.1 265.2h0.55M331.0 265.3h0.55M329.7 268.5h0.55M329.0 269.6h0.55M327.8 271.6h0.55M329.5 266.6h0.55M333.1 265.9h0.55M325.9 271.3h0.55M331.3 265.6h0.55M327.0 270.3h0.55M328.8 265.9h0.55M327.9 268.1h0.55M330.3 269.8h0.55M327.6 270.8h0.55M326.1 270.0h0.55M328.4 268.5h0.55M327.9 266.7h0.55M329.2 269.5h0.55M324.9 269.3h0.55M328.0 266.1h0.55M326.4 269.5h0.55M329.6 268.4h0.55M325.3 266.3h0.55M327.6 267.3h0.55M331.7 265.8h0.55M328.9 269.4h0.55M331.5 267.2h0.55M329.3 270.9h0.55M328.0 264.8h0.55M327.4 267.6h0.55M330.9 267.3h0.55M330.7 267.0h0.55M328.7 266.6h0.55M326.6 269.4h0.55M329.3 268.4h0.55M327.8 267.3h0.55M329.3 268.5h0.55M332.0 264.8h0.55M330.3 268.6h0.55M328.2 268.1h0.55M328.6 270.4h0.55M333.0 266.5h0.55M328.2 269.5h0.55M329.5 267.0h0.55M329.9 268.7h0.55M328.0 269.5h0.55M324.9 266.9h0.55M328.1 268.2h0.55M326.2 271.3h0.55M328.0 268.2h0.55M328.6 269.0h0.55M327.7 269.4h0.55M327.3 265.6h0.55M329.5 267.6h0.55M330.2 263.6h0.55M328.9 266.5h0.55M328.4 267.1h0.55M328.0 266.7h0.55M330.4 263.9h0.55M325.8 269.4h0.55M332.1 265.0h0.55M327.1 266.2h0.55M326.9 270.6h0.55M329.8 268.8h0.55M329.3 267.9h0.55M327.7 266.3h0.55M329.7 271.7h0.55M328.1 270.2h0.55M327.5 268.2h0.55M331.5 266.4h0.55M329.7 266.2h0.55M331.9 264.2h0.55M329.6 266.9h0.55M329.0 268.2h0.55M330.9 268.3h0.55M330.5 267.6h0.55M326.9 270.8h0.55M331.3 267.5h0.55M330.0 266.7h0.55M326.2 270.4h0.55M327.4 271.6h0.55M329.8 267.2h0.55M327.6 268.3h0.55M327.0 267.7h0.55M331.4 266.1h0.55M331.8 266.3h0.55M329.4 265.7h0.55M328.2 267.1h0.55M326.3 272.1h0.55M329.7 267.1h0.55M326.8 268.5h0.55M326.9 266.7h0.55M328.4 271.6h0.55M325.7 269.9h0.55M327.7 262.9h0.55M326.3 268.4h0.55M328.8 266.3h0.55M331.7 267.4h0.55M327.6 265.2h0.55M329.0 266.4h0.55M330.4 265.1h0.55M330.7 266.0h0.55M329.0 267.1h0.55M329.7 269.3h0.55M327.7 266.4h0.55M331.9 268.1h0.55M331.9 268.1h0.55M328.9 270.5h0.55M327.5 267.4h0.55M328.0 269.2h0.55M327.2 267.9h0.55M327.2 267.8h0.55M330.6 268.9h0.55M328.3 272.4h0.55M327.5 269.0h0.55M327.9 264.0h0.55M326.6 270.7h0.55M328.5 268.2h0.55M330.8 266.9h0.55M327.6 267.0h0.55M327.1 269.3h0.55M327.9 268.9h0.55M326.1 267.9h0.55M332.2 266.9h0.55M328.5 269.9h0.55M329.1 270.2h0.55M326.7 269.8h0.55M326.9 269.6h0.55M332.8 268.7h0.55M327.2 269.0h0.55M329.4 266.1h0.55M329.1 265.6h0.55M330.3 268.7h0.55M328.4 269.0h0.55M332.7 265.8h0.55M325.5 269.6h0.55M327.9 266.6h0.55M330.2 268.9h0.55M329.7 270.2h0.55M327.6 267.4h0.55M329.4 262.6h0.55M324.0 270.2h0.55M328.3 267.9h0.55M327.0 268.7h0.55M330.4 265.8h0.55M329.6 267.0h0.55M328.4 268.0h0.55M331.2 267.6h0.55M329.8 267.5h0.55M325.0 270.8h0.55M328.6 267.9h0.55M327.8 265.3h0.55M331.2 270.0h0.55M331.3 263.3h0.55M329.6 265.2h0.55M328.3 266.9h0.55M327.6 266.7h0.55M327.8 269.4h0.55M331.4 268.3h0.55M328.6 267.4h0.55M328.2 267.8h0.55M327.6 267.8h0.55M330.1 266.7h0.55M327.3 268.0h0.55M328.8 267.5h0.55M328.2 269.1h0.55M328.6 265.9h0.55M329.6 266.0h0.55M330.0 268.6h0.55M329.5 267.9h0.55M326.3 268.3h0.55M328.8 268.7h0.55M326.7 268.2h0.55M326.0 269.1h0.55M328.8 267.9h0.55M331.5 267.9h0.55M328.3 266.8h0.55M327.9 269.4h0.55M330.2 266.2h0.55M328.4 267.0h0.55M329.8 267.6h0.55M327.4 266.6h0.55M330.9 264.3h0.55M325.5 263.4h0.55M332.1 265.3h0.55M330.1 268.1h0.55M330.1 269.2h0.55M327.8 268.0h0.55M330.3 268.0h0.55M327.3 266.9h0.55M326.2 269.1h0.55M327.7 265.3h0.55M327.7 268.7h0.55M328.9 267.2h0.55M328.9 268.7h0.55M326.6 267.1h0.55M330.3 268.3h0.55M326.2 267.4h0.55M331.1 268.0h0.55M328.4 269.6h0.55M331.0 269.3h0.55M326.2 266.3h0.55M327.8 268.0h0.55M328.0 268.4h0.55M331.2 268.6h0.55M330.3 267.0h0.55M331.5 267.4h0.55M329.1 267.5h0.55M325.5 272.8h0.55M328.6 269.3h0.55M332.5 265.8h0.55M326.6 270.3h0.55M329.0 265.8h0.55M330.3 267.0h0.55M327.0 263.8h0.55M326.9 269.1h0.55M326.8 270.1h0.55M332.4 266.7h0.55M329.0 267.4h0.55M330.1 267.2h0.55M330.4 269.5h0.55M330.1 265.4h0.55M329.8 266.8h0.55M329.2 269.2h0.55M327.5 268.5h0.55M331.2 265.2h0.55M328.3 269.1h0.55M328.2 269.7h0.55M326.9 265.7h0.55M329.3 267.2h0.55M329.2 269.2h0.55M330.4 266.3h0.55M328.0 264.5h0.55M326.9 268.8h0.55M329.0 264.9h0.55M330.0 267.1h0.55M330.5 266.3h0.55M330.3 265.1h0.55M325.4 267.5h0.55M329.8 267.9h0.55M325.4 269.3h0.55M329.8 270.2h0.55M330.0 268.1h0.55M325.9 269.5h0.55M325.2 268.5h0.55M328.0 266.2h0.55M326.9 268.1h0.55M329.6 266.1h0.55M329.2 268.8h0.55M328.6 271.1h0.55M328.1 266.6h0.55M325.3 270.9h0.55M329.8 266.9h0.55M329.2 267.2h0.55M330.1 267.1h0.55M329.0 267.4h0.55M327.1 264.4h0.55M329.6 265.1h0.55M329.3 268.6h0.55M331.9 265.1h0.55M328.9 269.3h0.55M327.5 267.1h0.55M329.4 271.1h0.55M330.5 268.6h0.55M327.0 269.5h0.55M330.6 264.7h0.55M328.6 267.3h0.55M329.7 264.2h0.55M329.9 267.2h0.55M328.2 264.1h0.55M325.0 268.2h0.55M329.8 268.0h0.55M329.9 264.2h0.55M329.0 269.9h0.55M325.9 269.9h0.55M327.4 269.2h0.55M328.8 264.7h0.55M326.8 270.7h0.55M328.4 270.0h0.55M329.2 269.0h0.55M327.9 268.4h0.55M328.0 269.6h0.55M327.6 270.1h0.55M331.4 264.4h0.55M328.3 268.8h0.55M331.7 268.5h0.55M328.8 264.6h0.55M330.1 266.1h0.55M329.0 268.3h0.55M326.2 270.6h0.55M330.2 268.1h0.55M329.7 267.9h0.55M326.2 267.8h0.55M330.0 266.5h0.55M328.7 268.3h0.55M328.8 268.1h0.55M329.5 267.4h0.55M326.7 268.0h0.55M330.3 265.8h0.55M329.4 267.9h0.55M327.1 263.3h0.55M328.6 266.3h0.55M327.5 269.8h0.55M327.3 268.8h0.55M328.8 268.0h0.55M332.1 262.8h0.55M330.3 266.8h0.55M328.1 266.7h0.55M328.7 267.7h0.55M327.0 271.2h0.55M327.3 268.0h0.55M326.4 268.8h0.55M329.2 269.4h0.55M330.3 266.1h0.55M331.4 266.4h0.55M331.3 269.7h0.55M327.9 266.1h0.55M329.6 269.9h0.55M329.3 269.4h0.55M329.7 268.9h0.55M330.9 266.3h0.55M326.2 268.5h0.55M327.3 266.1h0.55M328.3 269.1h0.55M325.4 266.3h0.55M330.0 265.6h0.55M327.9 270.4h0.55M330.6 267.6h0.55M329.6 262.5h0.55M329.6 268.0h0.55M326.2 269.0h0.55M329.4 267.2h0.55M330.0 268.7h0.55M328.7 267.2h0.55M326.6 270.5h0.55M327.6 268.7h0.55M331.3 268.0h0.55M326.4 268.4h0.55M327.4 265.3h0.55M327.2 269.3h0.55M329.2 267.1h0.55M328.9 265.5h0.55M327.3 267.9h0.55M330.0 266.6h0.55M328.3 268.4h0.55M331.2 264.5h0.55M329.5 267.7h0.55M328.5 268.2h0.55M325.2 269.1h0.55M328.2 265.7h0.55M330.1 266.9h0.55M328.0 269.3h0.55M327.0 267.1h0.55M330.0 268.7h0.55M332.1 265.5h0.55M326.1 266.1h0.55M326.6 268.7h0.55M328.2 266.7h0.55M326.9 267.2h0.55M328.0 270.0h0.55M329.7 269.7h0.55M330.0 268.5h0.55M330.6 267.7h0.55M331.3 268.6h0.55M331.8 266.8h0.55M327.3 272.7h0.55M328.1 268.8h0.55M328.0 266.7h0.55M329.4 265.4h0.55M328.3 270.3h0.55M328.8 269.1h0.55M329.7 267.9h0.55M328.8 268.7h0.55M326.9 269.4h0.55M326.8 267.1h0.55M327.6 265.7h0.55M325.2 269.7h0.55M329.5 268.5h0.55M332.4 266.5h0.55M329.9 265.9h0.55M329.8 265.2h0.55M332.0 264.6h0.55M327.9 269.3h0.55M324.8 271.6h0.55M327.0 268.7h0.55M330.3 267.3h0.55M330.2 266.2h0.55M329.6 263.4h0.55M331.2 265.5h0.55M327.1 268.3h0.55M331.5 265.3h0.55M328.6 267.1h0.55M327.0 266.0h0.55M329.6 268.5h0.55M327.3 268.6h0.55M329.4 268.1h0.55M328.3 267.9h0.55M329.1 265.6h0.55M328.4 269.2h0.55M327.6 270.4h0.55M328.2 265.9h0.55M328.1 265.5h0.55M329.7 264.5h0.55M328.6 267.3h0.55M328.1 268.7h0.55M329.1 266.5h0.55M330.0 266.3h0.55M330.2 269.4h0.55M329.3 269.1h0.55M326.3 269.6h0.55M326.0 268.4h0.55M329.8 262.5h0.55M327.3 266.9h0.55M327.0 268.4h0.55M329.7 265.2h0.55M327.5 264.9h0.55M327.4 264.5h0.55M326.0 269.6h0.55M330.1 265.7h0.55M329.2 266.1h0.55M330.4 270.0h0.55M324.4 267.9h0.55M327.5 267.3h0.55M331.3 269.4h0.55M328.6 268.8h0.55M325.9 268.3h0.55M328.1 267.6h0.55M329.1 264.7h0.55M326.8 272.2h0.55M325.6 269.0h0.55M329.9 268.1h0.55M328.7 264.8h0.55M327.8 265.3h0.55M332.0 267.0h0.55M329.9 267.6h0.55M327.9 270.1h0.55M330.1 268.2h0.55M329.6 268.6h0.55M328.1 268.7h0.55M328.7 267.2h0.55M329.7 271.0h0.55M325.1 271.6h0.55M327.9 270.1h0.55M326.8 268.1h0.55M330.4 266.9h0.55M329.2 265.3h0.55M326.6 271.4h0.55M328.9 267.4h0.55M326.2 266.8h0.55M326.8 268.3h0.55M328.4 266.7h0.55M327.4 268.4h0.55M330.6 264.4h0.55M326.2 270.7h0.55M326.1 268.0h0.55M328.8 270.8h0.55M325.1 264.0h0.55M328.5 269.6h0.55M328.8 266.2h0.55M328.9 263.9h0.55M330.0 269.7h0.55M328.2 269.3h0.55M326.8 271.0h0.55M327.5 266.7h0.55M327.3 265.1h0.55M329.8 270.8h0.55M326.1 268.3h0.55M329.4 266.4h0.55M325.9 269.4h0.55M330.3 267.2h0.55M326.8 267.9h0.55M325.3 268.9h0.55M330.7 268.8h0.55M328.5 268.5h0.55M327.7 268.3h0.55M327.6 268.4h0.55M327.7 268.4h0.55M329.8 267.2h0.55M326.4 269.5h0.55M328.2 267.0h0.55M329.6 265.8h0.55M330.2 268.0h0.55M327.4 266.9h0.55M328.4 266.2h0.55M330.2 263.1h0.55M328.9 267.0h0.55M326.7 269.6h0.55M327.8 268.8h0.55M327.9 267.5h0.55M329.5 269.0h0.55M330.3 267.0h0.55M331.2 266.1h0.55M326.1 266.0h0.4M325.9 268.1h0.4M325.1 271.0h0.4M329.6 266.8h0.4M330.1 266.2h0.4M328.9 266.8h0.4M329.6 264.7h0.4M332.6 267.3h0.4M329.6 271.1h0.4M327.1 270.5h0.4M325.5 271.2h0.4M327.7 270.2h0.4M329.8 268.5h0.4M331.0 266.7h0.4M328.8 270.4h0.4M330.4 267.1h0.4M333.0 263.6h0.4M333.8 265.6h0.4M329.7 264.0h0.4M332.5 264.0h0.4M329.7 266.9h0.4M331.9 266.3h0.4M325.0 269.2h0.4M330.4 266.5h0.4M331.5 266.4h0.4M333.5 262.4h0.4M332.7 265.1h0.4M330.2 267.6h0.4M328.7 268.9h0.4M329.0 268.7h0.4M327.6 270.6h0.4M325.8 268.6h0.4M329.4 267.4h0.4M327.6 267.7h0.4M330.1 268.4h0.4M332.7 263.5h0.4M329.3 266.4h0.4M325.8 269.0h0.4M332.3 262.2h0.4M336.5 263.2h0.4M333.8 263.9h0.4M323.9 272.2h0.4M333.4 262.7h0.4M332.6 265.9h0.4M331.4 266.8h0.4M331.0 267.0h0.4M332.4 265.4h0.4M331.1 266.5h0.4M329.9 265.0h0.4M325.1 268.4h0.4M326.5 266.5h0.4M331.2 264.9h0.4M332.6 270.4h0.4M331.4 264.5h0.4M330.4 265.8h0.4M330.2 270.3h0.4M333.4 266.2h0.4M330.2 269.7h0.4M331.6 267.0h0.4M326.6 268.0h0.4" stroke="#000" stroke-width="0.55" stroke-opacity="0.8" fill="none"/>
<rect x="384.50" y="242.50" width="34.00" height="31.00" fill="#fff" stroke="#3a3a3a" stroke-width="0.55"/>
<line x1="396.5" y1="242.5" x2="396.5" y2="273.5" stroke="#444" stroke-width="0.5"/>
<line x1="384.5" y1="262.5" x2="418.5" y2="262.5" stroke="#444" stroke-width="0.5"/>
<path d="M386.62 273.5v0.7M384.5 244.44h-0.7M388.75 273.5v0.7M384.5 246.38h-0.7M390.88 273.5v0.7M384.5 248.31h-0.7M393.00 273.5v1.2M384.5 250.25h-1.2M395.12 273.5v0.7M384.5 252.19h-0.7M397.25 273.5v0.7M384.5 254.12h-0.7M399.38 273.5v0.7M384.5 256.06h-0.7M401.50 273.5v1.2M384.5 258.00h-1.2M403.62 273.5v0.7M384.5 259.94h-0.7M405.75 273.5v0.7M384.5 261.88h-0.7M407.88 273.5v0.7M384.5 263.81h-0.7M410.00 273.5v1.2M384.5 265.75h-1.2M412.12 273.5v0.7M384.5 267.69h-0.7M414.25 273.5v0.7M384.5 269.62h-0.7M416.38 273.5v0.7M384.5 271.56h-0.7" stroke="#555" stroke-width="0.35" fill="none"/>
<text x="383.3" y="244.1" font-size="3.0" font-weight="bold" text-anchor="end" fill="#333">10<tspan font-size="2.2" baseline-shift="super">4</tspan></text>
<text x="383.3" y="273.3" font-size="3.0" font-weight="bold" text-anchor="end" fill="#333">10<tspan font-size="2.2" baseline-shift="super">0</tspan></text>
<text x="385.1" y="277.1" font-size="3.0" font-weight="bold" text-anchor="middle" fill="#333">10<tspan font-size="2.2" baseline-shift="super">0</tspan></text>
<text x="418.7" y="277.1" font-size="3.0" font-weight="bold" text-anchor="middle" fill="#333">10<tspan font-size="2.2" baseline-shift="super">4</tspan></text>
<path d="M391.4 267.2h0.55M390.2 264.5h0.55M389.8 268.0h0.55M391.6 265.6h0.55M390.9 271.0h0.55M391.4 264.1h0.55M390.8 267.8h0.55M393.3 267.2h0.55M393.5 267.3h0.55M393.1 269.3h0.55M393.8 267.0h0.55M389.0 268.9h0.55M391.9 266.1h0.55M392.5 266.8h0.55M392.5 267.5h0.55M389.5 270.2h0.55M394.6 268.0h0.55M391.6 264.4h0.55M391.7 267.4h0.55M389.8 264.8h0.55M391.9 269.1h0.55M392.3 271.3h0.55M387.9 269.6h0.55M391.1 270.3h0.55M391.1 266.0h0.55M391.0 268.5h0.55M389.9 266.8h0.55M391.6 269.1h0.55M390.7 268.7h0.55M390.3 267.4h0.55M391.4 269.3h0.55M393.8 266.4h0.55M391.9 270.9h0.55M392.6 266.5h0.55M391.8 264.9h0.55M387.5 267.8h0.55M389.9 265.8h0.55M392.9 266.2h0.55M391.3 267.8h0.55M390.8 265.8h0.55M394.4 262.8h0.55M391.1 269.0h0.55M390.8 267.7h0.55M391.7 267.9h0.55M390.5 269.9h0.55M392.0 270.0h0.55M391.3 264.1h0.55M388.3 267.9h0.55M391.9 264.5h0.55M390.2 270.3h0.55M391.7 266.2h0.55M390.9 268.0h0.55M390.4 267.4h0.55M390.0 268.5h0.55M393.8 269.2h0.55M389.0 272.7h0.55M390.9 265.3h0.55M388.6 269.0h0.55M391.5 266.4h0.55M389.8 267.9h0.55M391.6 268.7h0.55M392.1 263.1h0.55M390.1 268.6h0.55M391.8 268.9h0.55M388.6 271.5h0.55M389.1 268.2h0.55M390.3 267.2h0.55M389.8 269.7h0.55M392.5 267.8h0.55M389.0 267.4h0.55M391.0 268.5h0.55M390.2 267.6h0.55M395.6 266.0h0.55M390.6 263.5h0.55M389.8 271.1h0.55M392.6 265.0h0.55M392.5 267.5h0.55M389.8 269.7h0.55M390.1 267.6h0.55M391.2 268.1h0.55M390.4 268.5h0.55M391.1 268.0h0.55M391.8 266.3h0.55M388.8 268.5h0.55M393.2 267.5h0.55M391.5 266.2h0.55M389.2 266.3h0.55M389.6 267.7h0.55M388.5 268.5h0.55M388.5 269.9h0.55M391.1 264.6h0.55M390.2 268.5h0.55M391.8 268.8h0.55M390.5 267.7h0.55M390.7 268.8h0.55M390.0 267.9h0.55M391.4 267.0h0.55M389.3 270.9h0.55M392.0 265.7h0.55M394.5 265.0h0.55M389.7 267.6h0.55M392.0 270.0h0.55M393.5 267.8h0.55M391.2 268.8h0.55M389.8 267.0h0.55M392.0 267.7h0.55M391.5 265.7h0.55M391.6 265.0h0.55M392.7 267.1h0.55M390.0 267.3h0.55M395.8 271.4h0.55M389.9 270.6h0.55M386.2 271.7h0.55M391.2 268.1h0.55M389.5 266.0h0.55M391.5 266.7h0.55M392.0 269.2h0.55M390.9 268.7h0.55M391.4 268.0h0.55M390.3 268.5h0.55M391.9 267.5h0.55M390.4 265.4h0.55M389.3 271.2h0.55M392.8 267.5h0.55M391.6 267.2h0.55M392.3 269.0h0.55M390.7 268.4h0.55M392.8 264.2h0.55M389.5 267.3h0.55M389.2 267.7h0.55M389.7 267.6h0.55M391.9 265.3h0.55M391.3 270.1h0.55M391.5 265.4h0.55M390.1 270.2h0.55M390.7 266.8h0.55M392.5 265.9h0.55M389.3 269.5h0.55M391.2 266.5h0.55M391.9 269.4h0.55M393.0 267.2h0.55M391.9 268.3h0.55M388.6 271.7h0.55M390.0 267.2h0.55M389.7 266.5h0.55M393.0 267.0h0.55M390.2 264.8h0.55M391.4 267.5h0.55M389.4 268.2h0.55M388.1 270.1h0.55M389.1 269.4h0.55M391.3 263.8h0.55M389.2 267.3h0.55M392.5 268.2h0.55M392.2 270.3h0.55M390.7 267.0h0.55M388.0 267.1h0.55M392.1 265.8h0.55M389.7 270.0h0.55M387.0 271.8h0.55M393.3 263.6h0.55M391.9 267.4h0.55M392.7 266.5h0.55M390.9 270.3h0.55M390.1 268.8h0.55M392.2 267.1h0.55M392.6 268.0h0.55M392.5 264.1h0.55M389.4 268.9h0.55M393.1 269.5h0.55M391.2 266.4h0.55M389.3 265.0h0.55M390.3 269.1h0.55M391.0 265.1h0.55M391.0 267.9h0.55M389.9 270.8h0.55M391.9 269.4h0.55M391.3 265.9h0.55M393.0 268.9h0.55M390.2 265.7h0.55M392.5 266.1h0.55M389.2 268.3h0.55M392.1 266.0h0.55M391.2 269.5h0.55M392.4 264.4h0.55M392.3 270.4h0.55M392.7 266.9h0.55M391.8 264.6h0.55M390.2 267.2h0.55M394.6 266.3h0.55M389.5 271.4h0.55M393.2 263.9h0.55M390.8 264.8h0.55M392.9 262.9h0.55M394.3 264.6h0.55M389.4 272.2h0.55M392.0 268.0h0.55M392.6 265.4h0.55M392.6 266.6h0.55M392.0 267.8h0.55M393.5 264.5h0.55M388.8 269.8h0.55M395.1 267.1h0.55M390.9 269.0h0.55M389.1 268.7h0.55M388.3 269.0h0.55M392.4 270.3h0.55M390.3 269.7h0.55M393.4 264.9h0.55M390.7 264.6h0.55M389.7 269.1h0.55M387.7 268.5h0.55M392.3 269.8h0.55M386.9 270.1h0.55M390.1 264.0h0.55M389.4 269.4h0.55M391.1 269.0h0.55M390.6 269.1h0.55M389.5 266.6h0.55M390.9 264.7h0.55M393.2 266.4h0.55M389.5 266.8h0.55M389.5 268.6h0.55M390.5 269.5h0.55M389.2 268.3h0.55M388.6 267.9h0.55M393.4 266.6h0.55M392.6 267.0h0.55M389.3 266.9h0.55M389.3 269.1h0.55M391.5 272.8h0.55M393.9 268.1h0.55M389.5 268.6h0.55M389.6 272.5h0.55M389.9 270.3h0.55M388.9 270.0h0.55M389.1 267.7h0.55M391.4 267.8h0.55M391.0 267.6h0.55M389.7 268.1h0.55M391.0 266.1h0.55M392.1 267.6h0.55M389.9 270.5h0.55M390.2 264.7h0.55M393.2 266.2h0.55M393.6 267.5h0.55M389.6 270.3h0.55M391.9 269.1h0.55M391.2 270.5h0.55M392.7 266.5h0.55M388.6 268.6h0.55M391.2 265.9h0.55M390.8 270.5h0.55M390.3 270.0h0.55M389.6 266.6h0.55M392.7 266.8h0.55M391.5 269.4h0.55M393.9 264.4h0.55M392.1 267.7h0.55M391.4 270.8h0.55M390.7 266.8h0.55M392.0 263.7h0.55M391.7 265.9h0.55M391.7 266.2h0.55M392.0 266.9h0.55M389.9 269.2h0.55M392.4 264.3h0.55M389.0 268.1h0.55M390.5 270.3h0.55M393.8 267.5h0.55M393.0 266.4h0.55M388.8 269.2h0.55M388.2 271.8h0.55M391.6 269.6h0.55M390.1 265.2h0.55M390.8 268.7h0.55M390.8 266.9h0.55M391.3 267.3h0.55M393.5 264.4h0.55M387.4 269.0h0.55M391.6 264.8h0.55M391.1 268.5h0.55M391.7 268.0h0.55M389.9 265.6h0.55M392.7 266.4h0.55M388.8 271.4h0.55M392.4 262.1h0.55M395.4 266.2h0.55M388.4 270.5h0.55M391.7 269.7h0.55M391.1 264.7h0.55M390.8 267.0h0.55M391.6 267.2h0.55M392.1 265.1h0.55M390.2 267.1h0.55M391.8 264.3h0.55M391.1 272.0h0.55M388.1 270.8h0.55M391.3 269.4h0.55M391.2 268.1h0.55M391.7 268.3h0.55M389.1 268.3h0.55M394.2 269.0h0.55M389.7 266.6h0.55M390.8 269.7h0.55M392.7 266.0h0.55M387.1 269.2h0.55M388.3 271.0h0.55M393.6 267.9h0.55M392.1 268.3h0.55M394.2 268.4h0.55M393.5 264.7h0.55M390.2 268.0h0.55M387.4 268.7h0.55M391.1 267.6h0.55M395.4 265.6h0.55M390.8 267.6h0.55M390.5 265.4h0.55M393.0 267.0h0.55M391.7 267.5h0.55M389.8 265.3h0.55M390.6 268.9h0.55M390.9 269.1h0.55M389.8 267.7h0.55M391.4 267.4h0.55M391.4 270.2h0.55M390.4 268.2h0.55M390.0 269.1h0.55M391.5 266.2h0.55M389.4 266.2h0.55M390.6 268.2h0.55M390.3 267.8h0.55M391.3 271.9h0.55M393.1 271.1h0.55M391.3 268.0h0.55M394.4 267.1h0.55M392.2 266.4h0.55M390.2 269.5h0.55M390.1 266.9h0.55M388.6 269.2h0.55M391.0 268.8h0.55M389.7 266.0h0.55M393.0 267.0h0.55M392.4 265.1h0.55M388.9 264.0h0.55M391.6 269.3h0.55M393.3 270.0h0.55M388.0 267.0h0.55M390.2 266.6h0.55M390.8 266.4h0.55M388.6 268.6h0.55M391.3 266.2h0.55M391.2 265.3h0.55M390.6 267.3h0.55M390.3 267.9h0.55M389.0 266.1h0.55M389.7 269.6h0.55M389.5 266.7h0.55M394.4 265.9h0.55M390.5 266.4h0.55M393.6 267.7h0.55M391.5 270.4h0.55M389.1 265.5h0.55M393.0 267.7h0.55M390.2 269.5h0.55M390.9 271.3h0.55M389.0 269.2h0.55M392.7 268.6h0.55M390.5 267.2h0.55M390.4 269.2h0.55M390.4 267.7h0.55M392.8 266.8h0.55M391.5 267.3h0.55M391.1 263.7h0.55M389.5 269.0h0.55M390.0 267.0h0.55M391.2 271.8h0.55M389.8 266.5h0.55M388.1 269.7h0.55M391.0 266.2h0.55M390.4 269.8h0.55M392.8 267.7h0.55M393.0 268.8h0.55M390.3 269.5h0.55M391.4 269.0h0.55M391.6 271.4h0.55M389.0 269.2h0.55M389.3 272.6h0.55M390.2 267.4h0.55M391.1 267.6h0.55M394.0 266.5h0.55M391.5 269.5h0.55M393.6 264.9h0.55M391.6 265.1h0.55M391.9 269.9h0.55M390.2 267.5h0.55M393.1 267.7h0.55M392.5 266.3h0.55M390.6 267.2h0.55M393.7 263.9h0.55M390.2 270.9h0.55M391.0 265.8h0.55M391.5 267.1h0.55M390.9 268.7h0.55M392.4 264.5h0.55M391.4 270.3h0.55M388.8 268.4h0.55M389.1 269.7h0.55M389.7 267.7h0.55M390.4 268.8h0.55M388.9 266.0h0.55M391.4 270.0h0.55M390.2 268.8h0.55M391.5 267.7h0.55M391.1 266.7h0.55M390.7 270.1h0.55M391.8 269.7h0.55M389.9 268.4h0.55M390.0 265.7h0.55M392.6 266.6h0.55M391.5 265.0h0.55M390.7 267.6h0.55M390.4 269.8h0.55M391.9 267.6h0.55M391.5 266.7h0.55M389.9 267.7h0.55M389.4 268.1h0.55M390.9 269.8h0.55M390.4 272.4h0.55M390.2 268.3h0.55M391.0 266.6h0.55M391.0 264.5h0.55M393.0 265.9h0.55M391.0 264.4h0.55M392.0 265.0h0.55M393.4 264.9h0.55M389.9 269.4h0.55M393.2 263.2h0.55M388.3 271.8h0.55M391.8 264.6h0.55M390.4 269.3h0.55M390.4 270.7h0.55M389.9 268.5h0.55M393.0 269.6h0.55M391.5 268.6h0.55M390.5 267.8h0.55M390.1 268.8h0.55M392.5 265.3h0.55M389.1 268.6h0.55M394.4 266.8h0.55M391.3 267.5h0.55M388.3 267.5h0.55M393.6 262.8h0.55M394.1 264.3h0.55M394.5 271.2h0.55M393.6 266.4h0.55M392.1 266.3h0.55M390.3 268.4h0.55M385.8 270.8h0.55M390.6 265.9h0.55M390.6 269.1h0.55M389.8 268.9h0.55M388.8 268.8h0.55M389.2 269.9h0.55M389.3 269.5h0.55M387.7 269.4h0.55M392.9 265.4h0.55M391.2 266.1h0.55M391.9 268.8h0.55M393.0 269.4h0.55M393.3 265.5h0.55M391.3 268.6h0.55M391.4 265.2h0.55M394.5 271.0h0.55M391.2 262.9h0.55M394.1 266.1h0.55M394.9 264.3h0.55M392.0 268.8h0.55M388.7 268.1h0.55M391.9 268.6h0.55M391.7 262.6h0.55M387.1 270.0h0.55M393.8 263.8h0.55M391.7 269.2h0.55M389.4 265.4h0.55M391.5 266.7h0.55M390.9 267.4h0.55M390.9 268.4h0.55M390.2 268.0h0.55M390.1 266.5h0.55M391.7 265.9h0.55M392.0 267.3h0.55M392.9 268.1h0.55M387.7 269.0h0.55M392.2 267.5h0.55M391.2 269.7h0.55M392.2 264.8h0.55M391.2 269.5h0.55M391.3 265.2h0.55M392.4 268.3h0.55M393.0 267.3h0.55M391.3 269.2h0.55M389.2 271.6h0.55M391.8 267.8h0.55M392.4 268.7h0.55M387.4 270.9h0.55M390.9 266.3h0.55M392.6 268.8h0.55M391.7 266.3h0.55M391.3 265.9h0.55M395.3 264.8h0.55M392.6 270.1h0.55M389.6 267.3h0.55M387.3 268.8h0.55M388.9 268.9h0.55M390.7 267.9h0.55M391.1 266.8h0.55M391.3 267.5h0.55M389.9 267.6h0.55M390.1 265.7h0.55M391.0 264.3h0.55M392.0 267.3h0.55M391.4 269.7h0.55M392.7 266.2h0.55M391.7 269.7h0.55M390.8 268.5h0.55M391.8 265.5h0.55M391.6 266.8h0.55M390.6 268.7h0.55M392.2 265.6h0.55M390.7 267.5h0.55M389.5 269.0h0.55M390.7 266.5h0.55M392.7 266.9h0.55M389.1 268.3h0.55M390.8 268.4h0.55M394.9 267.2h0.55M393.5 266.4h0.55M391.9 268.3h0.55M390.9 268.2h0.55M390.3 269.3h0.55M389.6 271.5h0.55M390.9 268.5h0.55M391.3 264.6h0.55M391.8 265.8h0.55M391.4 266.8h0.55M390.6 265.1h0.55M388.9 267.5h0.55M389.3 268.9h0.55M388.7 269.0h0.55M392.0 265.9h0.55M389.5 267.7h0.55M392.4 269.8h0.55M394.7 266.4h0.55M392.1 267.6h0.55M391.0 265.7h0.55M390.5 270.0h0.55M393.4 265.7h0.55M392.0 267.8h0.4M391.6 263.7h0.4M392.7 264.4h0.4M391.3 266.2h0.4M391.3 272.2h0.4M395.6 260.2h0.4M388.3 268.8h0.4M390.4 269.7h0.4M395.7 262.5h0.4M393.3 265.4h0.4M387.2 273.0h0.4M396.1 262.0h0.4M393.5 264.7h0.4M391.7 266.2h0.4M391.6 267.3h0.4M390.5 268.6h0.4M388.9 271.0h0.4M389.7 265.0h0.4M394.0 264.7h0.4M390.7 269.7h0.4M391.9 270.8h0.4M393.0 263.3h0.4M390.8 266.5h0.4M391.3 270.8h0.4M398.5 265.2h0.4M393.0 267.2h0.4M392.4 262.2h0.4M395.3 268.3h0.4M390.7 267.8h0.4M390.3 267.8h0.4M389.9 266.3h0.4M394.9 260.8h0.4M394.4 262.7h0.4M391.4 263.4h0.4M393.5 263.7h0.4M397.9 260.4h0.4M392.6 267.8h0.4M389.6 267.1h0.4M389.4 270.0h0.4M392.7 268.4h0.4M388.5 267.8h0.4M391.7 266.3h0.4M392.7 268.6h0.4M392.3 265.1h0.4M391.9 265.6h0.4M390.4 271.8h0.4M393.6 269.3h0.4M391.5 267.2h0.4M388.9 269.8h0.4M393.7 266.9h0.4M389.2 269.3h0.4M394.2 264.3h0.4M393.7 264.6h0.4M392.0 265.8h0.4M388.4 268.0h0.4M392.4 266.0h0.4M391.9 265.8h0.4M394.1 264.9h0.4M392.9 265.2h0.4" stroke="#000" stroke-width="0.55" stroke-opacity="0.8" fill="none"/>
<rect x="322.50" y="296.50" width="34.00" height="30.00" fill="#fff" stroke="#3a3a3a" stroke-width="0.55"/>
<line x1="333.5" y1="296.5" x2="333.5" y2="326.5" stroke="#444" stroke-width="0.5"/>
<line x1="322.5" y1="315.5" x2="356.5" y2="315.5" stroke="#444" stroke-width="0.5"/>
<path d="M324.62 326.5v0.7M322.5 298.38h-0.7M326.75 326.5v0.7M322.5 300.25h-0.7M328.88 326.5v0.7M322.5 302.12h-0.7M331.00 326.5v1.2M322.5 304.00h-1.2M333.12 326.5v0.7M322.5 305.88h-0.7M335.25 326.5v0.7M322.5 307.75h-0.7M337.38 326.5v0.7M322.5 309.62h-0.7M339.50 326.5v1.2M322.5 311.50h-1.2M341.62 326.5v0.7M322.5 313.38h-0.7M343.75 326.5v0.7M322.5 315.25h-0.7M345.88 326.5v0.7M322.5 317.12h-0.7M348.00 326.5v1.2M322.5 319.00h-1.2M350.12 326.5v0.7M322.5 320.88h-0.7M352.25 326.5v0.7M322.5 322.75h-0.7M354.38 326.5v0.7M322.5 324.62h-0.7" stroke="#555" stroke-width="0.35" fill="none"/>
<text x="321.3" y="298.1" font-size="3.0" font-weight="bold" text-anchor="end" fill="#333">10<tspan font-size="2.2" baseline-shift="super">4</tspan></text>
<text x="321.3" y="326.3" font-size="3.0" font-weight="bold" text-anchor="end" fill="#333">10<tspan font-size="2.2" baseline-shift="super">0</tspan></text>
<text x="323.1" y="330.1" font-size="3.0" font-weight="bold" text-anchor="middle" fill="#333">10<tspan font-size="2.2" baseline-shift="super">0</tspan></text>
<text x="356.7" y="330.1" font-size="3.0" font-weight="bold" text-anchor="middle" fill="#333">10<tspan font-size="2.2" baseline-shift="super">4</tspan></text>
<path d="M330.8 319.8h0.55M329.3 324.7h0.55M329.3 317.7h0.55M327.5 322.0h0.55M326.4 319.0h0.55M328.4 318.0h0.55M330.4 321.0h0.55M328.1 323.4h0.55M327.4 319.2h0.55M330.1 320.3h0.55M328.2 323.0h0.55M328.4 322.2h0.55M328.9 322.9h0.55M329.5 319.7h0.55M331.1 319.2h0.55M331.5 317.4h0.55M328.7 316.7h0.55M329.5 323.0h0.55M327.9 322.0h0.55M328.2 323.7h0.55M329.1 321.3h0.55M330.4 317.3h0.55M329.7 320.7h0.55M330.8 320.1h0.55M329.6 320.4h0.55M326.9 320.6h0.55M328.3 318.6h0.55M328.5 320.1h0.55M331.6 319.2h0.55M328.8 321.0h0.55M329.8 317.4h0.55M325.7 325.0h0.55M327.2 319.8h0.55M330.5 320.7h0.55M327.2 322.8h0.55M326.7 324.7h0.55M328.1 321.7h0.55M328.6 324.5h0.55M327.0 321.4h0.55M332.2 315.7h0.55M327.8 321.7h0.55M328.2 321.9h0.55M330.5 318.0h0.55M327.5 323.8h0.55M331.9 314.6h0.55M329.5 322.4h0.55M327.5 319.7h0.55M326.7 321.3h0.55M326.7 323.0h0.55M327.4 322.3h0.55M326.0 323.6h0.55M329.7 322.2h0.55M329.0 325.0h0.55M330.2 320.3h0.55M331.3 319.2h0.55M328.9 323.8h0.55M327.8 321.2h0.55M329.0 321.1h0.55M328.2 322.9h0.55M332.2 318.7h0.55M326.1 321.0h0.55M326.3 319.5h0.55M326.9 323.6h0.55M328.9 322.1h0.55M328.4 322.9h0.55M327.9 323.6h0.55M330.1 320.7h0.55M326.1 319.8h0.55M329.0 318.8h0.55M328.3 320.7h0.55M330.9 318.7h0.55M328.8 320.0h0.55M327.3 322.2h0.55M330.2 317.6h0.55M331.1 324.0h0.55M328.9 321.8h0.55M326.9 320.8h0.55M329.1 320.5h0.55M330.9 318.3h0.55M328.2 322.0h0.55M328.5 320.5h0.55M328.4 321.7h0.55M329.9 318.4h0.55M327.1 319.4h0.55M329.3 317.2h0.55M332.7 318.2h0.55M326.2 325.7h0.55M328.6 321.8h0.55M328.3 320.6h0.55M332.0 315.9h0.55M329.0 319.4h0.55M328.0 321.0h0.55M325.5 323.3h0.55M328.9 321.8h0.55M327.6 322.7h0.55M327.8 322.6h0.55M330.9 321.2h0.55M326.2 322.0h0.55M326.9 325.2h0.55M328.9 318.4h0.55M326.1 324.4h0.55M326.9 322.3h0.55M328.1 320.9h0.55M327.9 321.2h0.55M331.3 318.2h0.55M329.5 321.4h0.55M327.5 319.3h0.55M327.1 322.6h0.55M328.9 322.7h0.55M329.2 320.9h0.55M328.6 321.3h0.55M328.7 322.1h0.55M327.2 323.5h0.55M331.3 319.6h0.55M329.6 318.3h0.55M328.8 318.2h0.55M330.3 320.3h0.55M330.4 322.3h0.55M327.4 322.9h0.55M331.2 324.0h0.55M328.4 322.0h0.55M327.5 322.5h0.55M329.6 323.2h0.55M328.4 321.1h0.55M329.4 320.3h0.55M332.1 315.4h0.55M325.7 321.1h0.55M329.8 320.5h0.55M329.3 317.8h0.55M329.6 321.5h0.55M331.4 321.3h0.55M327.6 320.0h0.55M326.7 320.8h0.55M328.4 323.3h0.55M331.4 319.9h0.55M329.6 320.2h0.55M326.4 322.8h0.55M327.4 318.4h0.55M327.2 324.2h0.55M326.7 324.2h0.55M326.3 321.7h0.55M329.5 319.8h0.55M327.0 321.6h0.55M331.4 321.0h0.55M328.9 321.8h0.55M330.6 322.6h0.55M328.2 319.5h0.55M327.0 321.7h0.55M328.1 321.1h0.55M327.6 325.9h0.55M327.4 324.0h0.55M327.2 320.0h0.55M326.6 319.7h0.55M325.9 320.5h0.55M328.2 322.3h0.55M325.6 322.9h0.55M328.4 321.0h0.55M325.0 323.2h0.55M329.7 322.6h0.55M328.1 323.4h0.55M328.7 319.2h0.55M329.5 322.3h0.55M329.0 320.7h0.55M328.2 322.3h0.55M325.6 322.7h0.55M326.4 320.8h0.55M329.0 323.0h0.55M328.6 319.2h0.55M333.2 319.7h0.55M324.1 322.6h0.55M327.4 320.3h0.55M330.4 324.1h0.55M328.8 318.4h0.55M330.1 320.5h0.55M327.9 321.6h0.55M326.7 322.0h0.55M329.2 322.8h0.55M332.0 318.4h0.55M329.2 319.2h0.55M328.8 322.9h0.55M329.7 319.9h0.55M331.6 321.3h0.55M330.7 320.2h0.55M330.9 319.7h0.55M330.1 320.4h0.55M328.6 318.1h0.55M330.3 321.3h0.55M327.6 321.5h0.55M329.6 321.7h0.55M325.1 325.0h0.55M326.9 325.1h0.55M330.5 320.4h0.55M329.0 321.3h0.55M327.9 324.0h0.55M327.5 320.4h0.55M328.2 318.2h0.55M330.4 318.0h0.55M331.2 321.6h0.55M332.0 318.4h0.55M328.1 320.3h0.55M330.0 318.7h0.55M328.1 316.9h0.55M328.7 321.3h0.55M332.0 318.0h0.55M330.3 321.3h0.55M330.1 318.3h0.55M330.3 320.6h0.55M331.1 323.9h0.55M327.4 320.6h0.55M331.2 316.8h0.55M324.3 323.1h0.55M329.2 323.5h0.55M329.9 320.3h0.55M327.6 317.9h0.55M329.5 319.4h0.55M328.0 321.8h0.55M325.1 322.2h0.55M327.6 325.0h0.55M328.4 323.1h0.55M326.9 318.7h0.55M330.1 319.7h0.55M326.3 323.8h0.55M329.5 317.4h0.55M328.2 324.8h0.55M328.8 318.3h0.55M327.2 324.1h0.55M331.2 321.2h0.55M326.0 323.5h0.55M327.2 320.5h0.55M327.8 323.3h0.55M329.5 321.6h0.55M327.9 320.3h0.55M330.5 319.0h0.55M328.1 322.1h0.55M328.3 322.9h0.55M329.6 321.7h0.55M332.6 318.3h0.55M332.2 317.1h0.55M327.3 316.8h0.55M327.5 319.9h0.55M329.8 322.8h0.55M332.6 318.3h0.55M330.5 319.8h0.55M325.4 314.4h0.55M328.0 317.5h0.55M330.1 318.5h0.55M329.7 319.2h0.55M329.5 318.8h0.55M329.3 324.0h0.55M329.3 318.1h0.55M327.3 321.7h0.55M330.0 318.0h0.55M327.0 318.5h0.55M331.7 320.2h0.55M329.2 319.9h0.55M331.9 320.7h0.55M328.4 323.3h0.55M329.6 320.0h0.55M328.0 321.2h0.55M331.0 317.3h0.55M325.7 323.3h0.55M330.5 322.9h0.55M329.6 317.7h0.55M330.0 320.7h0.55M326.9 318.6h0.55M325.9 322.1h0.55M326.4 322.5h0.55M328.3 322.2h0.55M330.1 318.6h0.55M328.0 322.6h0.55M327.5 323.3h0.55M329.7 322.2h0.55M327.6 322.8h0.55M328.2 321.5h0.55M329.7 319.4h0.55M328.5 316.4h0.55M327.4 322.6h0.55M326.7 317.6h0.55M326.1 321.3h0.55M329.8 321.4h0.55M326.2 322.6h0.55M326.5 323.8h0.55M329.3 319.4h0.55M327.8 321.1h0.55M327.6 323.5h0.55M329.1 319.6h0.55M329.4 318.0h0.55M328.9 320.2h0.55M327.6 321.2h0.55M329.0 318.0h0.55M330.0 319.2h0.55M329.2 323.8h0.55M326.8 324.8h0.55M328.0 324.8h0.55M327.2 323.5h0.55M327.6 323.7h0.55M330.1 320.9h0.55M327.2 323.5h0.55M329.3 318.6h0.55M329.6 320.2h0.55M328.4 319.1h0.55M329.0 322.4h0.55M327.2 323.0h0.55M325.5 322.3h0.55M329.1 318.9h0.55M328.9 318.3h0.55M331.8 320.4h0.55M330.5 318.4h0.55M324.8 322.3h0.55M330.9 319.7h0.55M330.6 320.9h0.55M329.2 322.7h0.55M327.6 320.5h0.55M330.5 321.0h0.55M327.7 319.2h0.55M331.1 313.7h0.55M330.2 320.0h0.55M326.4 322.5h0.55M329.4 324.9h0.55M329.1 315.9h0.55M327.0 323.0h0.55M327.8 321.1h0.55M328.5 323.7h0.55M329.2 320.4h0.55M327.5 323.2h0.55M327.4 322.2h0.55M329.3 322.0h0.55M329.9 320.9h0.55M331.9 321.1h0.55M327.3 319.7h0.55M327.4 323.9h0.55M326.8 324.6h0.55M329.3 319.5h0.55M326.9 321.4h0.55M329.9 320.2h0.55M329.8 320.7h0.55M330.9 319.1h0.55M328.4 318.8h0.55M328.1 319.2h0.55M326.1 321.5h0.55M329.7 316.2h0.55M326.5 319.1h0.55M329.2 321.7h0.55M329.1 320.3h0.55M327.3 321.8h0.55M327.2 321.0h0.55M329.3 320.1h0.55M330.6 315.9h0.55M326.0 323.8h0.55M327.7 320.4h0.55M327.7 321.1h0.55M328.4 321.7h0.55M330.1 323.8h0.55M325.1 322.1h0.55M327.1 321.9h0.55M326.9 321.7h0.55M329.1 320.6h0.55M329.0 322.0h0.55M326.9 321.5h0.55M330.3 322.0h0.55M330.2 318.7h0.55M327.5 323.2h0.55M328.6 321.5h0.55M328.0 322.9h0.55M328.9 318.9h0.55M329.2 320.0h0.55M328.2 322.1h0.55M328.9 319.7h0.55M326.7 320.8h0.55M328.4 318.7h0.55M327.6 325.7h0.55M327.6 321.4h0.55M326.6 321.1h0.55M329.0 321.0h0.55M325.8 322.1h0.55M327.0 323.6h0.55M328.4 324.0h0.55M329.2 318.4h0.55M330.2 319.3h0.55M328.4 321.1h0.55M326.5 324.0h0.55M328.9 318.8h0.55M326.4 322.7h0.55M330.6 320.9h0.55M329.1 319.9h0.55M330.4 321.2h0.55M327.3 320.3h0.55M325.1 324.5h0.55M333.5 318.7h0.55M329.3 322.1h0.55M328.2 325.1h0.55M326.9 320.0h0.55M331.3 321.6h0.55M329.8 320.2h0.55M328.5 321.2h0.55M329.3 319.5h0.55M330.3 323.5h0.55M327.7 319.4h0.55M328.8 325.5h0.55M327.0 324.1h0.55M327.5 319.9h0.55M330.4 319.9h0.55M328.5 322.3h0.55M330.5 320.6h0.55M331.2 318.6h0.55M327.7 322.5h0.55M329.7 317.2h0.55M328.1 322.4h0.55M328.3 324.4h0.55M326.0 322.3h0.55M327.2 318.4h0.55M328.2 320.9h0.55M327.9 320.0h0.55M330.0 318.4h0.55M327.6 318.7h0.55M330.5 317.4h0.55M331.4 318.0h0.55M328.5 324.0h0.55M326.9 324.1h0.55M326.5 320.9h0.55M329.5 321.2h0.55M329.2 321.3h0.55M331.2 316.8h0.55M327.5 323.0h0.55M326.2 320.6h0.55M332.6 321.9h0.55M329.4 320.7h0.55M328.3 319.4h0.55M327.2 319.6h0.55M326.5 322.0h0.55M329.3 318.9h0.55M328.8 318.3h0.55M329.2 320.1h0.55M328.5 321.3h0.55M330.8 320.5h0.55M327.5 321.7h0.55M329.3 321.7h0.55M330.3 318.7h0.55M326.6 322.9h0.55M326.7 322.5h0.55M333.1 321.5h0.55M326.2 320.3h0.55M329.2 320.1h0.55M329.8 320.9h0.55M329.2 321.8h0.55M326.0 324.1h0.55M326.3 320.2h0.55M324.6 322.5h0.55M329.3 320.0h0.55M326.6 317.6h0.55M329.5 318.4h0.55M328.0 321.6h0.55M328.5 321.8h0.55M331.3 321.2h0.55M326.9 321.5h0.55M328.2 319.5h0.55M329.7 319.8h0.55M329.0 322.0h0.55M332.1 318.4h0.55M329.8 324.5h0.55M331.2 320.5h0.55M327.4 321.7h0.55M327.6 320.6h0.55M325.7 321.5h0.55M325.3 324.1h0.55M329.5 319.8h0.55M328.7 321.1h0.55M328.2 321.7h0.55M328.3 321.9h0.55M327.3 321.6h0.55M331.4 318.3h0.55M327.3 323.3h0.55M329.1 321.0h0.55M328.9 320.0h0.55M327.7 322.3h0.55M328.9 322.0h0.55M329.4 324.9h0.55M328.8 323.5h0.55M328.9 325.1h0.55M330.2 318.9h0.55M331.2 318.8h0.55M330.3 318.8h0.55M329.2 321.0h0.55M331.0 315.9h0.55M325.4 324.1h0.55M329.9 319.5h0.55M328.8 317.6h0.55M328.0 320.0h0.55M330.1 320.8h0.55M328.3 323.3h0.55M327.5 322.8h0.55M328.2 322.0h0.55M328.1 323.8h0.55M327.9 325.1h0.55M329.9 318.9h0.55M327.9 323.8h0.55M331.1 317.7h0.55M328.9 322.0h0.55M332.6 320.7h0.55M328.3 322.9h0.55M328.7 319.3h0.55M328.5 320.6h0.55M328.3 321.3h0.55M329.2 319.3h0.55M329.7 317.5h0.55M329.7 321.5h0.55M329.3 317.9h0.55M327.8 321.7h0.55M329.4 322.1h0.55M326.1 322.1h0.55M330.4 318.1h0.55M326.6 320.9h0.55M328.2 320.7h0.55M330.7 320.7h0.55M325.4 323.8h0.55M328.8 322.5h0.55M328.6 323.6h0.55M328.9 320.0h0.55M326.6 323.6h0.55M328.4 317.8h0.55M330.0 322.9h0.55M325.1 323.5h0.55M329.7 323.8h0.55M330.7 318.8h0.55M329.4 322.1h0.55M326.2 324.7h0.55M329.4 322.3h0.55M327.1 323.2h0.55M328.5 320.5h0.55M328.7 321.6h0.55M326.1 322.0h0.55M329.2 317.7h0.55M331.5 324.7h0.55M329.7 320.6h0.55M326.9 319.6h0.55M326.6 323.5h0.55M327.2 322.0h0.55M327.9 323.0h0.55M330.8 321.9h0.55M329.7 322.6h0.55M331.5 318.2h0.55M329.1 319.6h0.55M328.7 320.6h0.55M328.8 322.3h0.55M326.4 317.0h0.55M329.1 322.9h0.55M328.0 324.1h0.55M332.4 319.7h0.55M328.3 322.2h0.55M329.9 317.7h0.55M329.5 316.8h0.55M326.8 322.2h0.55M329.1 318.6h0.55M328.7 323.4h0.55M325.9 323.2h0.55M330.7 317.6h0.55M330.6 321.1h0.55M328.8 320.9h0.4M329.4 320.4h0.4M329.0 319.1h0.4M331.7 322.0h0.4M329.1 323.5h0.4M327.7 319.1h0.4M331.0 319.5h0.4M330.6 317.5h0.4M328.6 323.0h0.4M333.3 317.8h0.4M330.4 314.2h0.4M328.0 324.1h0.4M334.1 315.0h0.4M326.4 321.9h0.4M328.1 320.6h0.4M327.2 323.4h0.4M330.2 317.0h0.4M330.9 319.6h0.4M327.0 322.5h0.4M330.3 318.2h0.4M329.8 319.1h0.4M324.6 321.3h0.4M328.0 320.4h0.4M330.5 322.8h0.4M328.9 325.1h0.4M328.5 321.3h0.4M329.0 317.3h0.4M329.3 320.0h0.4M327.5 323.4h0.4M330.5 318.9h0.4M327.4 322.5h0.4M327.6 320.1h0.4M328.3 323.1h0.4M328.8 320.5h0.4M328.7 322.1h0.4M329.1 322.3h0.4M329.1 322.3h0.4M328.8 319.3h0.4M330.5 319.1h0.4M328.4 324.1h0.4M328.3 319.6h0.4M328.7 323.8h0.4M326.3 325.2h0.4M330.7 318.5h0.4M328.7 319.5h0.4M324.6 322.2h0.4M326.1 319.7h0.4M328.4 322.3h0.4M327.2 321.4h0.4M327.6 321.4h0.4M330.4 322.0h0.4M330.9 320.0h0.4M332.7 319.2h0.4M330.6 320.6h0.4M331.4 316.7h0.4M327.3 322.2h0.4M325.2 323.1h0.4" stroke="#000" stroke-width="0.55" stroke-opacity="0.8" fill="none"/>
<rect x="384.50" y="296.50" width="34.00" height="30.00" fill="#fff" stroke="#3a3a3a" stroke-width="0.55"/>
<line x1="396.5" y1="296.5" x2="396.5" y2="326.5" stroke="#444" stroke-width="0.5"/>
<line x1="384.5" y1="315.5" x2="418.5" y2="315.5" stroke="#444" stroke-width="0.5"/>
<path d="M386.62 326.5v0.7M384.5 298.38h-0.7M388.75 326.5v0.7M384.5 300.25h-0.7M390.88 326.5v0.7M384.5 302.12h-0.7M393.00 326.5v1.2M384.5 304.00h-1.2M395.12 326.5v0.7M384.5 305.88h-0.7M397.25 326.5v0.7M384.5 307.75h-0.7M399.38 326.5v0.7M384.5 309.62h-0.7M401.50 326.5v1.2M384.5 311.50h-1.2M403.62 326.5v0.7M384.5 313.38h-0.7M405.75 326.5v0.7M384.5 315.25h-0.7M407.88 326.5v0.7M384.5 317.12h-0.7M410.00 326.5v1.2M384.5 319.00h-1.2M412.12 326.5v0.7M384.5 320.88h-0.7M414.25 326.5v0.7M384.5 322.75h-0.7M416.38 326.5v0.7M384.5 324.62h-0.7" stroke="#555" stroke-width="0.35" fill="none"/>
<text x="383.3" y="298.1" font-size="3.0" font-weight="bold" text-anchor="end" fill="#333">10<tspan font-size="2.2" baseline-shift="super">4</tspan></text>
<text x="383.3" y="326.3" font-size="3.0" font-weight="bold" text-anchor="end" fill="#333">10<tspan font-size="2.2" baseline-shift="super">0</tspan></text>
<text x="385.1" y="330.1" font-size="3.0" font-weight="bold" text-anchor="middle" fill="#333">10<tspan font-size="2.2" baseline-shift="super">0</tspan></text>
<text x="418.7" y="330.1" font-size="3.0" font-weight="bold" text-anchor="middle" fill="#333">10<tspan font-size="2.2" baseline-shift="super">4</tspan></text>
<path d="M390.5 321.9h0.55M392.2 323.1h0.55M387.1 323.1h0.55M391.6 323.6h0.55M390.0 322.3h0.55M390.8 319.4h0.55M391.4 322.8h0.55M390.4 321.5h0.55M392.9 320.0h0.55M390.5 321.9h0.55M391.8 321.6h0.55M393.1 321.1h0.55M389.0 318.8h0.55M390.9 324.4h0.55M391.1 320.3h0.55M391.5 321.9h0.55M393.1 317.8h0.55M392.3 321.0h0.55M392.4 322.6h0.55M387.3 324.4h0.55M391.8 319.3h0.55M390.8 323.2h0.55M388.5 323.8h0.55M392.3 323.9h0.55M389.6 320.5h0.55M392.7 319.9h0.55M391.7 315.9h0.55M395.0 316.0h0.55M388.3 323.2h0.55M391.8 319.2h0.55M387.3 323.6h0.55M391.4 319.2h0.55M391.2 319.9h0.55M389.3 323.1h0.55M391.0 321.2h0.55M388.9 320.6h0.55M390.5 320.2h0.55M391.6 321.0h0.55M390.6 320.9h0.55M391.7 322.8h0.55M389.2 323.7h0.55M392.5 322.0h0.55M390.1 321.9h0.55M394.5 317.2h0.55M392.4 320.1h0.55M393.8 320.3h0.55M392.4 319.4h0.55M390.2 324.5h0.55M388.9 321.0h0.55M390.6 318.9h0.55M392.0 318.4h0.55M391.1 320.6h0.55M387.3 322.9h0.55M388.4 322.2h0.55M387.1 321.6h0.55M392.4 321.1h0.55M392.9 323.5h0.55M392.2 320.3h0.55M390.8 322.4h0.55M388.9 320.0h0.55M391.0 324.5h0.55M389.1 322.3h0.55M389.8 323.0h0.55M391.6 320.8h0.55M392.5 320.0h0.55M390.8 321.8h0.55M392.3 319.0h0.55M390.2 320.0h0.55M392.0 321.5h0.55M391.3 318.5h0.55M389.6 318.9h0.55M388.7 320.6h0.55M391.5 321.9h0.55M388.0 323.5h0.55M391.6 323.9h0.55M392.4 317.7h0.55M391.8 321.2h0.55M391.5 319.5h0.55M393.4 320.3h0.55M390.0 318.0h0.55M390.6 318.6h0.55M388.5 325.2h0.55M390.9 323.0h0.55M392.9 321.8h0.55M390.3 319.1h0.55M390.7 321.5h0.55M390.8 320.6h0.55M391.2 318.3h0.55M392.8 318.1h0.55M391.2 319.3h0.55M393.3 319.1h0.55M389.5 321.0h0.55M392.5 318.1h0.55M388.8 321.0h0.55M392.3 314.9h0.55M392.5 324.8h0.55M390.7 323.0h0.55M390.8 317.6h0.55M390.3 322.6h0.55M389.1 321.3h0.55M389.9 322.3h0.55M395.1 319.6h0.55M388.8 325.2h0.55M390.5 320.5h0.55M391.8 322.2h0.55M391.4 321.6h0.55M391.3 318.6h0.55M392.3 322.3h0.55M389.7 318.2h0.55M390.0 321.9h0.55M393.4 320.6h0.55M385.5 322.1h0.55M391.1 321.5h0.55M388.5 321.4h0.55M391.2 322.3h0.55M392.4 323.7h0.55M389.8 320.7h0.55M390.2 322.4h0.55M394.4 320.1h0.55M391.3 319.2h0.55M388.9 325.4h0.55M390.9 323.9h0.55M392.4 319.6h0.55M391.4 319.2h0.55M392.1 320.4h0.55M392.3 323.0h0.55M390.0 323.0h0.55M391.7 319.8h0.55M391.5 323.3h0.55M391.3 322.9h0.55M391.6 323.3h0.55M390.8 320.5h0.55M392.1 316.2h0.55M390.1 324.4h0.55M389.8 325.2h0.55M393.7 319.0h0.55M389.7 322.4h0.55M392.5 323.9h0.55M393.6 318.7h0.55M392.5 319.5h0.55M392.8 321.3h0.55M393.5 319.9h0.55M392.4 318.1h0.55M389.4 322.7h0.55M391.2 322.7h0.55M394.9 318.3h0.55M389.0 319.8h0.55M390.0 323.8h0.55M391.7 320.2h0.55M392.2 320.3h0.55M391.5 320.9h0.55M388.7 323.6h0.55M391.3 325.3h0.55M391.2 319.8h0.55M391.3 319.5h0.55M391.0 320.4h0.55M391.6 319.0h0.55M390.8 320.3h0.55M389.4 321.6h0.55M392.2 322.0h0.55M391.6 320.6h0.55M392.7 319.9h0.55M392.2 317.2h0.55M389.0 320.5h0.55M393.0 319.8h0.55M391.8 318.6h0.55M393.8 323.4h0.55M391.1 319.8h0.55M391.5 320.4h0.55M390.2 316.5h0.55M391.4 316.6h0.55M390.2 318.4h0.55M394.4 317.2h0.55M390.4 322.0h0.55M390.5 321.7h0.55M392.6 319.2h0.55M391.9 320.4h0.55M388.8 322.5h0.55M389.2 323.8h0.55M391.1 321.4h0.55M392.8 318.7h0.55M389.7 324.4h0.55M392.3 321.4h0.55M387.7 322.4h0.55M389.4 320.5h0.55M388.3 318.9h0.55M390.3 322.1h0.55M390.2 321.0h0.55M391.2 323.6h0.55M390.1 321.7h0.55M395.8 319.1h0.55M392.5 318.1h0.55M389.2 320.9h0.55M396.3 317.7h0.55M393.5 319.1h0.55M388.9 318.2h0.55M391.3 323.0h0.55M389.7 320.8h0.55M389.1 320.4h0.55M392.8 319.2h0.55M389.3 322.9h0.55M391.5 320.7h0.55M394.6 320.2h0.55M393.1 317.8h0.55M390.9 323.5h0.55M392.4 322.3h0.55M388.5 321.5h0.55M394.0 322.7h0.55M385.7 319.4h0.55M393.5 321.6h0.55M393.4 314.6h0.55M391.2 322.5h0.55M393.2 318.2h0.55M392.9 321.8h0.55M390.2 324.5h0.55M393.3 321.9h0.55M390.3 321.9h0.55M391.0 324.3h0.55M395.4 317.6h0.55M394.6 320.4h0.55M389.9 320.1h0.55M393.8 320.5h0.55M389.9 321.1h0.55M390.4 321.0h0.55M394.3 318.4h0.55M390.5 315.3h0.55M392.0 322.5h0.55M394.7 318.3h0.55M390.6 320.4h0.55M388.9 321.9h0.55M389.7 321.1h0.55M391.4 322.4h0.55M391.2 325.7h0.55M391.7 321.8h0.55M392.0 320.4h0.55M392.8 320.6h0.55M388.7 320.9h0.55M393.7 316.8h0.55M394.2 320.0h0.55M391.6 323.2h0.55M391.5 319.9h0.55M387.2 321.3h0.55M389.0 323.2h0.55M391.3 319.1h0.55M393.2 321.9h0.55M395.1 319.9h0.55M388.9 322.1h0.55M392.5 322.2h0.55M388.7 322.9h0.55M392.3 321.3h0.55M388.2 321.2h0.55M390.9 320.6h0.55M392.7 319.6h0.55M387.8 318.1h0.55M392.0 319.0h0.55M391.0 323.2h0.55M390.2 321.3h0.55M388.5 319.6h0.55M392.2 322.8h0.55M389.9 321.1h0.55M391.7 319.9h0.55M391.2 320.1h0.55M392.2 319.5h0.55M390.2 318.6h0.55M389.7 318.6h0.55M390.9 323.0h0.55M388.8 320.2h0.55M389.7 322.4h0.55M390.6 320.5h0.55M389.4 321.1h0.55M390.5 319.6h0.55M393.6 320.9h0.55M390.8 321.7h0.55M395.2 320.5h0.55M390.1 321.3h0.55M393.2 321.0h0.55M390.6 321.3h0.55M389.1 321.1h0.55M390.4 320.8h0.55M393.5 320.0h0.55M393.2 320.1h0.55M388.4 324.4h0.55M390.1 321.1h0.55M393.1 322.9h0.55M391.4 323.3h0.55M390.2 322.5h0.55M389.5 323.5h0.55M390.1 322.6h0.55M388.9 324.6h0.55M394.0 319.3h0.55M391.2 319.0h0.55M390.8 318.3h0.55M392.4 320.3h0.55M393.2 320.1h0.55M390.7 319.5h0.55M392.2 320.2h0.55M389.0 318.9h0.55M392.8 320.0h0.55M391.0 319.9h0.55M390.2 321.3h0.55M391.5 318.5h0.55M395.5 320.9h0.55M387.7 322.4h0.55M393.1 318.9h0.55M388.7 322.9h0.55M390.0 321.4h0.55M394.1 319.7h0.55M393.5 318.5h0.55M387.8 321.5h0.55M390.4 322.5h0.55M391.9 316.8h0.55M389.1 320.9h0.55M389.8 320.2h0.55M390.5 321.5h0.55M388.4 320.2h0.55M389.5 323.9h0.55M390.8 318.2h0.55M392.0 322.4h0.55M388.2 319.7h0.55M391.9 320.7h0.55M392.2 323.6h0.55M392.3 322.4h0.55M390.2 324.0h0.55M389.8 322.1h0.55M387.5 321.6h0.55M392.5 318.6h0.55M390.3 317.1h0.55M390.5 318.6h0.55M391.2 319.9h0.55M389.9 320.8h0.55M390.4 321.2h0.55M390.6 323.3h0.55M393.0 315.3h0.55M393.5 319.5h0.55M391.7 318.9h0.55M392.2 321.6h0.55M390.1 319.1h0.55M392.0 321.4h0.55M389.5 317.4h0.55M389.1 322.5h0.55M393.4 318.1h0.55M390.1 319.2h0.55M391.7 319.1h0.55M394.1 320.8h0.55M390.8 320.3h0.55M392.9 319.4h0.55M390.4 321.4h0.55M393.0 322.9h0.55M390.5 318.8h0.55M389.5 321.2h0.55M392.3 315.4h0.55M392.3 321.2h0.55M391.5 317.9h0.55M391.3 319.8h0.55M389.4 322.7h0.55M393.3 320.4h0.55M392.1 322.4h0.55M391.2 320.1h0.55M393.8 318.6h0.55M390.6 321.7h0.55M390.4 319.3h0.55M393.1 320.1h0.55M389.9 320.3h0.55M392.2 322.0h0.55M391.5 322.9h0.55M391.1 323.9h0.55M392.7 318.0h0.55M391.0 321.6h0.55M391.1 319.0h0.55M392.0 320.4h0.55M388.5 319.5h0.55M390.5 322.9h0.55M391.1 321.2h0.55M392.8 319.8h0.55M391.2 320.7h0.55M392.7 319.0h0.55M391.8 319.2h0.55M391.3 322.9h0.55M389.8 322.3h0.55M391.3 321.2h0.55M392.1 320.6h0.55M392.0 323.9h0.55M390.0 319.3h0.55M392.5 321.1h0.55M394.6 318.3h0.55M392.4 319.3h0.55M390.3 320.1h0.55M389.7 319.6h0.55M390.6 320.8h0.55M391.3 322.4h0.55M389.6 321.3h0.55M389.6 323.0h0.55M389.6 320.8h0.55M389.8 323.4h0.55M389.1 319.5h0.55M390.5 320.5h0.55M389.6 323.6h0.55M390.2 317.3h0.55M390.8 318.5h0.55M390.0 320.4h0.55M389.6 320.7h0.55M390.5 322.3h0.55M395.5 317.8h0.55M390.4 323.3h0.55M394.1 321.2h0.55M390.7 324.7h0.55M391.3 323.1h0.55M390.2 318.9h0.55M393.5 318.3h0.55M389.4 321.8h0.55M389.6 322.8h0.55M391.3 320.4h0.55M390.2 324.0h0.55M393.5 322.1h0.55M388.9 324.9h0.55M391.3 324.0h0.55M392.1 319.2h0.55M388.3 320.7h0.55M393.2 319.2h0.55M394.0 317.3h0.55M392.3 320.2h0.55M388.8 322.5h0.55M390.5 320.6h0.55M387.6 320.4h0.55M390.0 321.0h0.55M389.7 325.3h0.55M390.5 321.5h0.55M390.6 323.5h0.55M392.1 322.4h0.55M388.5 322.2h0.55M390.9 322.2h0.55M390.0 321.6h0.55M389.5 320.9h0.55M391.8 319.7h0.55M389.7 321.2h0.55M391.7 321.4h0.55M389.1 320.9h0.55M389.2 319.8h0.55M395.2 321.5h0.55M392.4 319.8h0.55M392.6 323.2h0.55M393.3 321.4h0.55M392.5 322.0h0.55M391.7 321.3h0.55M390.5 317.9h0.55M394.2 324.6h0.55M392.0 321.8h0.55M391.1 322.3h0.55M390.9 320.8h0.55M392.2 317.2h0.55M393.5 319.2h0.55M392.1 321.7h0.55M393.9 323.0h0.55M388.9 320.0h0.55M391.4 317.7h0.55M392.2 320.2h0.55M389.8 323.0h0.55M389.5 320.1h0.55M391.1 322.5h0.55M390.8 320.4h0.55M391.4 320.1h0.55M387.9 323.9h0.55M391.9 322.6h0.55M391.3 321.7h0.55M388.2 319.4h0.55M387.8 324.4h0.55M389.9 323.9h0.55M391.8 319.7h0.55M390.9 319.5h0.55M390.3 321.8h0.55M392.3 319.5h0.55M388.4 324.1h0.55M389.2 323.0h0.55M388.5 320.2h0.55M387.7 323.5h0.55M394.3 319.9h0.55M387.5 321.9h0.55M391.5 321.4h0.55M391.3 318.9h0.55M390.5 324.7h0.55M390.1 320.5h0.55M389.0 320.6h0.55M393.1 320.8h0.55M390.2 320.6h0.55M392.5 319.3h0.55M389.7 320.9h0.55M386.6 324.8h0.55M389.7 322.9h0.55M391.0 322.8h0.55M390.1 325.9h0.55M392.0 320.1h0.55M391.6 316.8h0.55M389.1 317.8h0.55M390.6 325.2h0.55M391.6 317.9h0.55M388.4 322.7h0.55M392.1 320.1h0.55M393.6 320.4h0.55M394.5 321.1h0.55M394.6 314.5h0.55M392.3 321.9h0.55M393.6 321.0h0.55M391.7 321.2h0.55M391.4 321.9h0.55M393.8 316.8h0.55M390.3 318.5h0.55M390.0 321.9h0.55M391.4 321.5h0.55M392.3 321.2h0.55M390.5 320.9h0.55M389.2 320.8h0.55M390.9 321.7h0.55M388.3 324.1h0.55M390.9 318.0h0.55M390.8 322.1h0.55M391.2 320.1h0.55M389.5 322.0h0.55M391.3 321.4h0.55M390.4 323.5h0.55M387.9 322.2h0.55M388.2 318.4h0.55M391.3 322.4h0.55M390.5 322.0h0.55M390.7 323.2h0.55M390.0 322.3h0.55M391.6 317.7h0.55M393.0 319.0h0.55M389.0 320.5h0.55M392.5 319.6h0.55M392.4 318.6h0.55M391.5 317.5h0.55M390.5 323.6h0.55M390.1 321.6h0.55M387.9 325.3h0.55M390.6 321.9h0.55M390.3 319.3h0.55M390.4 320.6h0.55M389.2 321.3h0.55M389.3 320.7h0.55M386.1 321.0h0.55M391.5 321.1h0.55M390.6 321.9h0.55M393.9 320.4h0.55M391.2 320.7h0.55M391.6 321.9h0.55M392.6 321.2h0.55M389.9 321.1h0.55M389.7 324.0h0.55M389.8 318.4h0.55M390.6 319.5h0.55M391.3 321.1h0.55M389.5 318.6h0.55M390.4 318.7h0.55M390.6 321.4h0.55M390.3 321.5h0.55M390.8 324.3h0.4M387.5 321.5h0.4M394.6 315.6h0.4M393.3 318.6h0.4M391.8 317.4h0.4M390.8 320.7h0.4M386.6 324.4h0.4M390.7 316.6h0.4M392.2 319.2h0.4M388.1 325.4h0.4M391.5 318.2h0.4M389.6 322.5h0.4M390.4 322.7h0.4M388.7 323.2h0.4M392.9 320.4h0.4M389.8 319.9h0.4M389.0 322.6h0.4M391.1 323.2h0.4M391.0 323.5h0.4M391.1 322.8h0.4M394.2 318.9h0.4M388.7 323.5h0.4M392.1 319.4h0.4M391.2 322.1h0.4M386.7 325.3h0.4M395.6 315.9h0.4M394.7 317.0h0.4M391.0 320.2h0.4M391.7 318.8h0.4M390.3 321.0h0.4M389.5 321.9h0.4M394.2 316.7h0.4M392.2 318.4h0.4M388.9 322.4h0.4M391.0 322.8h0.4M393.4 319.1h0.4M390.2 324.2h0.4M388.6 321.3h0.4M393.5 319.7h0.4M393.2 318.7h0.4M393.5 321.2h0.4M387.1 325.0h0.4M394.1 316.4h0.4M389.4 322.8h0.4M393.2 319.1h0.4M387.8 323.8h0.4M391.5 319.7h0.4M394.2 314.1h0.4M392.0 318.9h0.4M393.1 318.6h0.4M395.9 317.4h0.4M390.4 318.1h0.4M391.1 320.7h0.4M395.5 318.0h0.4M392.2 318.1h0.4M392.2 318.0h0.4M388.3 323.8h0.4M390.6 318.5h0.4M394.5 320.5h0.4" stroke="#000" stroke-width="0.55" stroke-opacity="0.8" fill="none"/>
<line x1="311.4" y1="337.2" x2="311.4" y2="312.3" stroke="#111" stroke-width="0.7"/>
<line x1="311.09999999999997" y1="336.9" x2="336.0" y2="336.9" stroke="#111" stroke-width="0.7"/>
<path d="M311.4 310.3l-1.5 3.2h3z" fill="#111"/>
<path d="M338.0 336.9l-3.2 -1.5v3z" fill="#111"/>
<line x1="373.4" y1="337.2" x2="373.4" y2="312.3" stroke="#111" stroke-width="0.7"/>
<line x1="373.09999999999997" y1="336.9" x2="398.0" y2="336.9" stroke="#111" stroke-width="0.7"/>
<path d="M373.4 310.3l-1.5 3.2h3z" fill="#111"/>
<path d="M400.0 336.9l-3.2 -1.5v3z" fill="#111"/>
<text x="306.6" y="323.4" font-size="7.4" font-weight="bold" text-anchor="middle" fill="#111" stroke="#111" stroke-width="0.25" transform="rotate(-90 306.6 323.4)" textLength="16.0" lengthAdjust="spacingAndGlyphs">IL-10</text>
<text x="369.0" y="324.8" font-size="7.4" font-weight="bold" text-anchor="middle" fill="#111" stroke="#111" stroke-width="0.25" transform="rotate(-90 369.0 324.8)" textLength="13.4" lengthAdjust="spacingAndGlyphs">IL-4</text>
<text x="317.3" y="345.8" font-size="7.2" font-weight="bold" text-anchor="start" fill="#111" stroke="#111" stroke-width="0.25">IL-2</text>
<text x="378.0" y="345.8" font-size="7.2" font-weight="bold" text-anchor="start" fill="#111" stroke="#111" stroke-width="0.25">IFN-γ</text>
<text x="422.5" y="253.8" font-size="7.6" font-weight="bold" text-anchor="start" fill="#111" stroke="#111" stroke-width="0.25" textLength="96.5" lengthAdjust="spacingAndGlyphs">CD4<tspan font-size="4.2" baseline-shift="super">+</tspan>CD25<tspan font-size="4.2" baseline-shift="super">+</tspan>T cells obtained</text>
<text x="422.5" y="261.4" font-size="7.6" font-weight="bold" text-anchor="start" fill="#111" stroke="#111" stroke-width="0.25" textLength="79.5" lengthAdjust="spacingAndGlyphs">from the DC<tspan font-size="4.8">reg</tspan>-treated</text>
<text x="422.5" y="269.0" font-size="7.6" font-weight="bold" text-anchor="start" fill="#111" stroke="#111" stroke-width="0.25" textLength="50.3" lengthAdjust="spacingAndGlyphs">recipient mice</text>
<text x="422.5" y="315.1" font-size="7.6" font-weight="bold" text-anchor="start" fill="#111" stroke="#111" stroke-width="0.25" textLength="72.8" lengthAdjust="spacingAndGlyphs">CD4<tspan font-size="4.2" baseline-shift="super">+</tspan>CD25<tspan font-size="4.2" baseline-shift="super">+</tspan>nT<tspan font-size="4.8">R</tspan> cells</text>
</svg>
</body></html>
